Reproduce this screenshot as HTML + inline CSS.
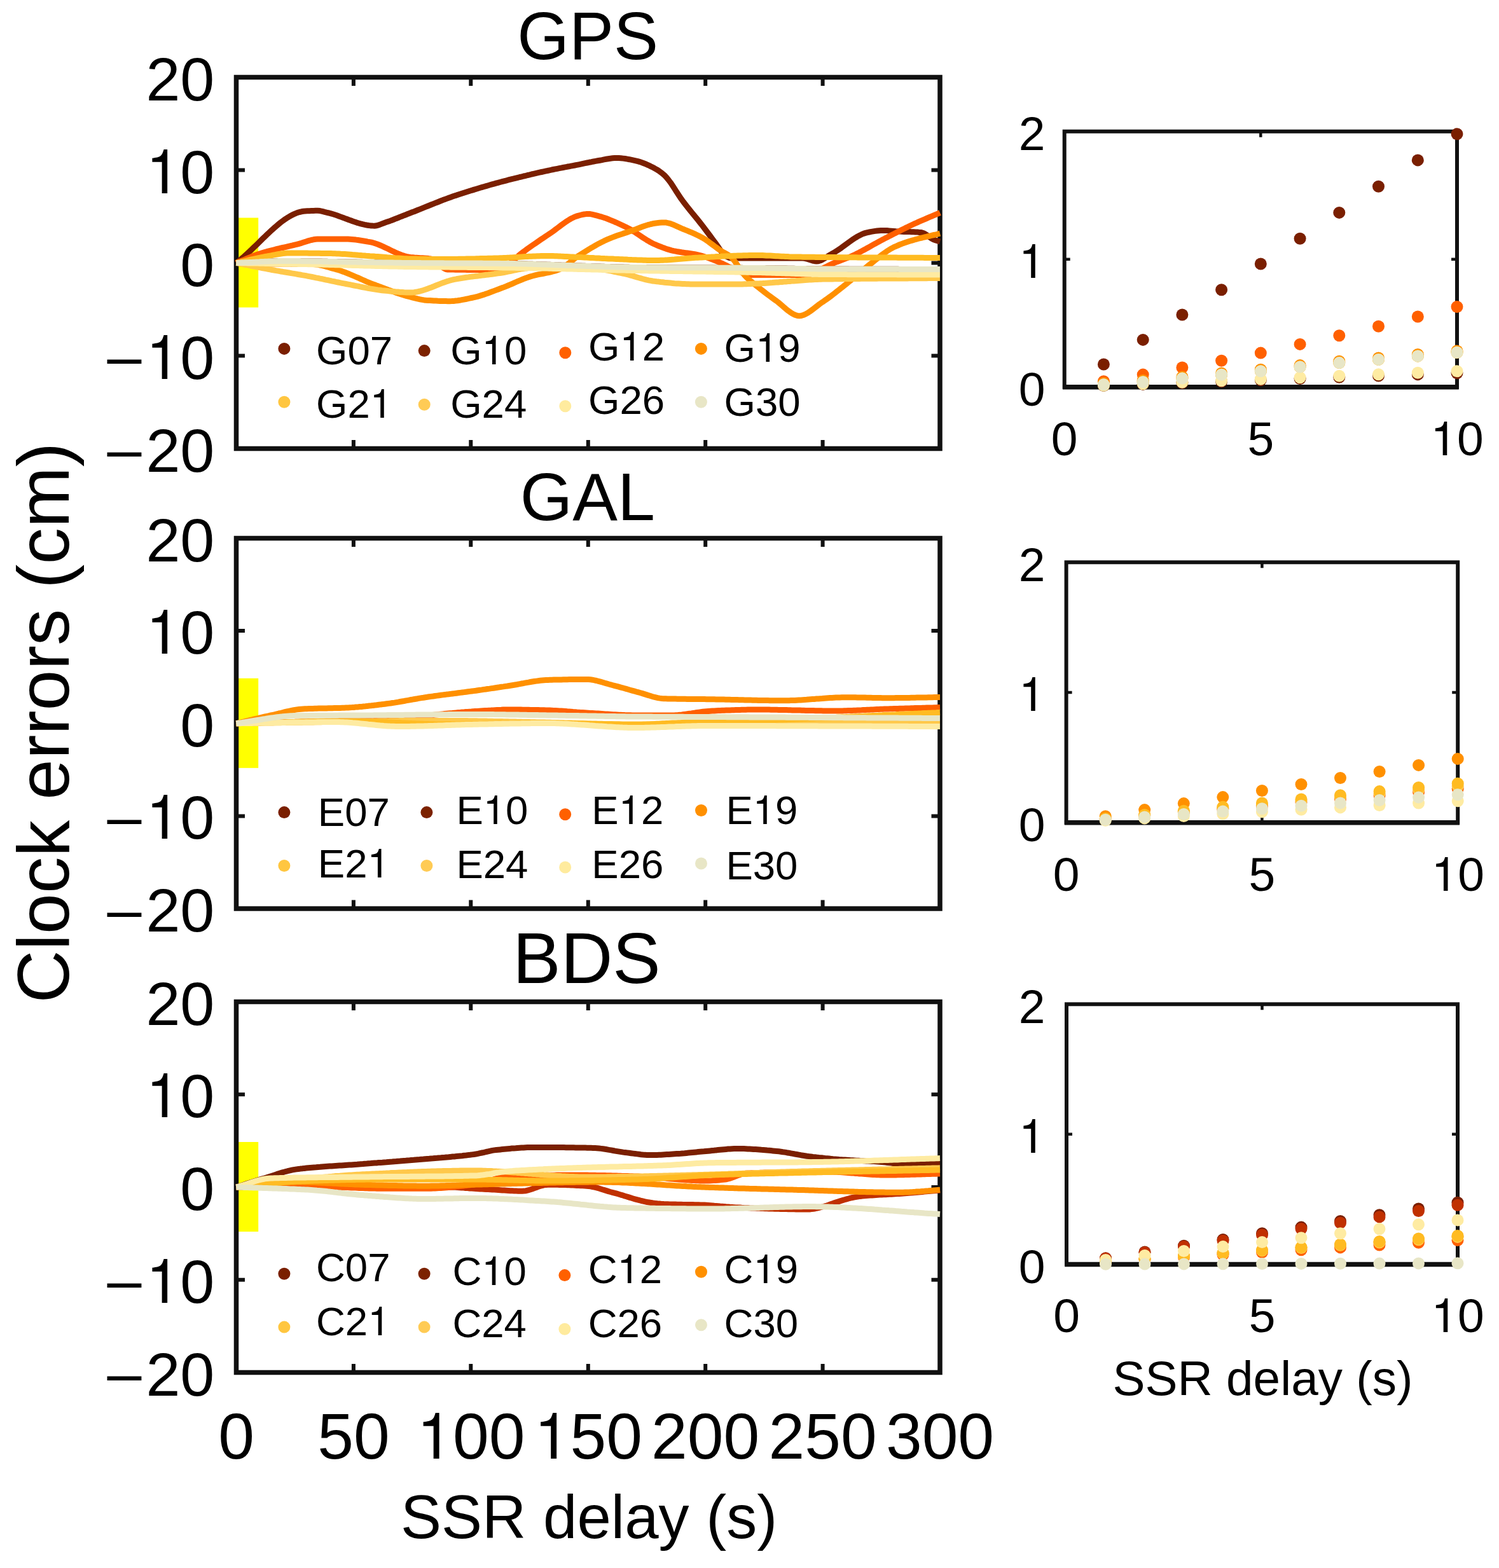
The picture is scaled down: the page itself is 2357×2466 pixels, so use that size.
<!DOCTYPE html>
<html><head><meta charset="utf-8"><title>Clock errors vs SSR delay</title>
<style>
html,body{margin:0;padding:0;background:#fff;}
svg{display:block;}
text{font-family:"Liberation Sans", Arial, Helvetica, sans-serif;fill:#000;}
.o{font-family:"TeX Gyre Heros","Liberation Sans", Arial, Helvetica, sans-serif;}
</style></head>
<body>
<svg xmlns="http://www.w3.org/2000/svg" width="2357" height="2466" viewBox="0 0 2357 2466">
<rect width="2357" height="2466" fill="#fff"/>
<rect x="372" y="342.5" width="34.2" height="141" fill="#ffff00"/>
<rect x="372" y="1066.8" width="34.2" height="141" fill="#ffff00"/>
<rect x="372" y="1796.0" width="34.2" height="141" fill="#ffff00"/>
<rect x="371.5" y="121.5" width="1106.5" height="584.0" fill="none" stroke="#111" stroke-width="7.5"/>
<path d="M371.5,267.5 h13.5 M1478.0,267.5 h-13.5" stroke="#111" stroke-width="6"/>
<path d="M371.5,413.5 h13.5 M1478.0,413.5 h-13.5" stroke="#111" stroke-width="6"/>
<path d="M371.5,559.5 h13.5 M1478.0,559.5 h-13.5" stroke="#111" stroke-width="6"/>
<path d="M555.9,121.5 v13.5 M555.9,705.5 v-13.5" stroke="#111" stroke-width="6"/>
<path d="M740.3,121.5 v13.5 M740.3,705.5 v-13.5" stroke="#111" stroke-width="6"/>
<path d="M924.8,121.5 v13.5 M924.8,705.5 v-13.5" stroke="#111" stroke-width="6"/>
<path d="M1109.2,121.5 v13.5 M1109.2,705.5 v-13.5" stroke="#111" stroke-width="6"/>
<path d="M1293.6,121.5 v13.5 M1293.6,705.5 v-13.5" stroke="#111" stroke-width="6"/>
<rect x="371.5" y="846.5" width="1106.5" height="582.5" fill="none" stroke="#111" stroke-width="7.5"/>
<path d="M371.5,992.1 h13.5 M1478.0,992.1 h-13.5" stroke="#111" stroke-width="6"/>
<path d="M371.5,1137.8 h13.5 M1478.0,1137.8 h-13.5" stroke="#111" stroke-width="6"/>
<path d="M371.5,1283.4 h13.5 M1478.0,1283.4 h-13.5" stroke="#111" stroke-width="6"/>
<path d="M555.9,846.5 v13.5 M555.9,1429.0 v-13.5" stroke="#111" stroke-width="6"/>
<path d="M740.3,846.5 v13.5 M740.3,1429.0 v-13.5" stroke="#111" stroke-width="6"/>
<path d="M924.8,846.5 v13.5 M924.8,1429.0 v-13.5" stroke="#111" stroke-width="6"/>
<path d="M1109.2,846.5 v13.5 M1109.2,1429.0 v-13.5" stroke="#111" stroke-width="6"/>
<path d="M1293.6,846.5 v13.5 M1293.6,1429.0 v-13.5" stroke="#111" stroke-width="6"/>
<rect x="371.5" y="1575.5" width="1106.5" height="583.0" fill="none" stroke="#111" stroke-width="7.5"/>
<path d="M371.5,1721.2 h13.5 M1478.0,1721.2 h-13.5" stroke="#111" stroke-width="6"/>
<path d="M371.5,1867.0 h13.5 M1478.0,1867.0 h-13.5" stroke="#111" stroke-width="6"/>
<path d="M371.5,2012.8 h13.5 M1478.0,2012.8 h-13.5" stroke="#111" stroke-width="6"/>
<path d="M555.9,1575.5 v13.5 M555.9,2158.5 v-13.5" stroke="#111" stroke-width="6"/>
<path d="M740.3,1575.5 v13.5 M740.3,2158.5 v-13.5" stroke="#111" stroke-width="6"/>
<path d="M924.8,1575.5 v13.5 M924.8,2158.5 v-13.5" stroke="#111" stroke-width="6"/>
<path d="M1109.2,1575.5 v13.5 M1109.2,2158.5 v-13.5" stroke="#111" stroke-width="6"/>
<path d="M1293.6,1575.5 v13.5 M1293.6,2158.5 v-13.5" stroke="#111" stroke-width="6"/>
<rect x="1673.7" y="206.7" width="617.3" height="402.1" fill="none" stroke="#111" stroke-width="6"/>
<path d="M1670.95,608.8 H2293.75" stroke="#111" stroke-width="7.5"/>
<path d="M1673.7,407.8 h9 M2291.0,407.8 h-9" stroke="#111" stroke-width="4.5"/>
<path d="M1982.3,206.7 v9 M1982.3,608.8 v-9" stroke="#111" stroke-width="4.5"/>
<rect x="1676.6" y="884.3" width="615.6" height="409.4" fill="none" stroke="#111" stroke-width="6"/>
<path d="M1673.85,1293.7 H2294.95" stroke="#111" stroke-width="7.5"/>
<path d="M1676.6,1089.0 h9 M2292.2,1089.0 h-9" stroke="#111" stroke-width="4.5"/>
<path d="M1984.4,884.3 v9 M1984.4,1293.7 v-9" stroke="#111" stroke-width="4.5"/>
<rect x="1677.0" y="1579.3" width="615.0" height="409.1" fill="none" stroke="#111" stroke-width="6"/>
<path d="M1674.25,1988.4 H2294.75" stroke="#111" stroke-width="7.5"/>
<path d="M1677.0,1783.8 h9 M2292.0,1783.8 h-9" stroke="#111" stroke-width="4.5"/>
<path d="M1984.5,1579.3 v9 M1984.5,1988.4 v-9" stroke="#111" stroke-width="4.5"/>
<path d="M371.5,413.5 L374.5,411.2 L377.5,408.8 L380.5,406.2 L383.6,403.6 L386.6,400.9 L389.6,398.2 L392.6,395.4 L395.6,392.5 L398.6,389.6 L401.6,386.7 L404.7,383.7 L407.7,380.8 L410.7,377.8 L413.7,374.8 L416.7,371.9 L419.7,369.0 L422.7,366.2 L425.8,363.3 L428.8,360.6 L431.8,357.9 L434.8,355.3 L437.8,352.8 L440.8,350.3 L443.8,348.0 L446.8,345.8 L449.9,343.7 L452.9,341.8 L455.9,340.0 L458.9,338.3 L461.9,336.9 L464.9,335.6 L467.9,334.4 L471.0,333.5 L474.0,332.8 L477.0,332.3 L480.0,332.0 L483.2,331.8 L486.4,331.7 L489.6,331.5 L492.9,331.4 L496.1,331.3 L499.3,331.3 L503.1,331.6 L506.8,332.4 L510.5,333.4 L514.3,334.3 L517.4,335.0 L520.5,335.9 L523.6,336.8 L526.7,337.8 L529.8,338.8 L532.9,339.9 L536.1,341.1 L539.2,342.2 L542.3,343.4 L545.4,344.5 L548.5,345.7 L551.6,346.8 L554.7,348.0 L557.8,349.0 L560.9,350.1 L564.0,351.0 L567.1,351.9 L570.2,352.7 L573.4,353.4 L576.5,354.0 L579.6,354.5 L582.7,354.9 L585.8,355.1 L588.9,355.2 L592.6,354.7 L596.3,353.6 L600.1,352.1 L603.8,350.7 L607.0,349.6 L610.1,348.5 L613.3,347.4 L616.5,346.2 L619.6,345.0 L622.8,343.7 L626.0,342.5 L629.2,341.2 L632.3,340.0 L635.5,338.7 L638.7,337.5 L641.8,336.2 L645.0,335.0 L648.0,333.8 L651.1,332.7 L654.1,331.5 L657.1,330.3 L660.1,329.1 L663.2,327.8 L666.2,326.6 L669.2,325.4 L672.2,324.2 L675.3,323.0 L678.3,321.8 L681.3,320.6 L684.3,319.4 L687.4,318.2 L690.4,317.0 L693.4,315.8 L696.4,314.6 L699.5,313.5 L702.5,312.4 L705.5,311.3 L708.5,310.2 L711.6,309.1 L714.6,308.1 L717.7,307.1 L720.8,306.0 L723.9,305.0 L727.0,304.0 L730.2,303.0 L733.3,302.0 L736.4,301.0 L739.5,300.0 L742.6,299.1 L745.7,298.1 L748.8,297.2 L752.0,296.2 L755.1,295.3 L758.2,294.4 L761.3,293.5 L764.4,292.6 L767.5,291.7 L770.6,290.8 L773.7,289.9 L776.8,289.1 L780.0,288.2 L783.1,287.4 L786.2,286.5 L789.3,285.7 L792.4,284.9 L795.5,284.1 L798.6,283.2 L801.7,282.4 L804.8,281.6 L807.9,280.9 L811.1,280.1 L814.2,279.3 L817.3,278.5 L820.4,277.8 L823.5,277.0 L826.6,276.3 L829.7,275.5 L832.8,274.8 L835.9,274.0 L839.0,273.3 L842.1,272.6 L845.2,271.9 L848.4,271.2 L851.5,270.5 L854.6,269.8 L857.7,269.1 L860.8,268.5 L863.9,267.8 L867.0,267.2 L870.0,266.5 L873.1,265.9 L876.2,265.3 L879.3,264.7 L882.3,264.1 L885.4,263.5 L888.5,262.9 L891.6,262.3 L894.6,261.8 L897.7,261.2 L900.8,260.6 L903.9,260.0 L906.9,259.4 L910.0,258.8 L913.3,258.1 L916.6,257.4 L920.0,256.7 L923.3,256.0 L926.6,255.3 L929.9,254.7 L933.3,254.0 L936.6,253.4 L939.9,252.8 L943.2,252.2 L946.5,251.6 L949.8,250.9 L953.1,250.3 L956.5,249.7 L959.8,249.2 L963.1,248.8 L966.4,248.5 L969.7,248.4 L973.0,248.5 L976.3,248.7 L979.7,249.1 L983.0,249.5 L986.3,250.1 L989.6,250.7 L993.0,251.4 L996.3,252.1 L999.6,252.8 L1002.9,253.6 L1006.2,254.6 L1009.5,255.7 L1012.8,257.0 L1016.2,258.3 L1019.5,259.8 L1022.8,261.4 L1026.1,263.1 L1029.4,264.8 L1033.1,266.9 L1036.8,269.3 L1040.6,272.1 L1044.3,275.2 L1047.6,278.6 L1050.9,282.6 L1054.3,287.1 L1057.6,292.0 L1060.9,297.1 L1064.2,302.3 L1067.6,307.4 L1070.9,312.4 L1074.2,317.0 L1077.5,321.3 L1080.8,325.5 L1084.1,329.6 L1087.4,333.7 L1090.8,337.8 L1094.1,341.8 L1097.4,345.9 L1100.7,350.1 L1104.0,354.3 L1107.2,358.5 L1110.4,362.7 L1113.6,367.0 L1116.8,371.3 L1120.0,375.6 L1123.2,379.9 L1126.4,384.2 L1129.8,389.1 L1133.2,394.3 L1136.6,398.9 L1140.0,402.0 L1143.3,403.9 L1146.7,405.4 L1150.0,406.0 L1153.1,406.0 L1156.2,406.0 L1159.4,406.0 L1162.5,406.0 L1165.6,406.0 L1168.8,406.0 L1171.9,406.0 L1175.0,406.0 L1178.1,406.0 L1181.2,406.0 L1184.4,406.0 L1187.5,406.0 L1190.6,406.0 L1193.8,406.0 L1196.9,406.0 L1200.0,406.0 L1203.1,406.0 L1206.2,406.0 L1209.3,406.0 L1212.4,406.0 L1215.5,406.0 L1218.6,406.0 L1221.7,406.0 L1224.8,406.0 L1227.9,406.0 L1231.0,406.0 L1234.1,406.0 L1237.2,406.0 L1240.3,406.0 L1243.4,406.0 L1246.5,406.0 L1249.6,406.0 L1252.7,406.0 L1255.8,406.0 L1258.9,406.0 L1262.0,406.0 L1265.1,406.3 L1268.3,407.0 L1271.4,408.0 L1274.6,409.0 L1277.7,410.0 L1280.9,410.7 L1284.0,411.0 L1287.0,410.7 L1290.0,409.8 L1293.0,408.4 L1296.0,406.7 L1299.0,404.8 L1302.0,402.8 L1305.0,400.9 L1308.0,399.2 L1311.1,397.5 L1314.2,395.5 L1317.3,393.5 L1320.4,391.4 L1323.6,389.2 L1326.7,386.9 L1329.8,384.6 L1332.9,382.3 L1336.0,380.1 L1339.1,377.9 L1342.2,375.8 L1345.3,373.8 L1348.4,371.9 L1351.6,370.2 L1354.7,368.7 L1357.8,367.4 L1360.9,366.4 L1364.0,365.6 L1367.0,365.0 L1370.0,364.4 L1373.0,363.9 L1376.0,363.4 L1379.0,363.0 L1382.0,362.7 L1385.0,362.5 L1388.0,362.4 L1391.4,362.5 L1394.8,362.6 L1398.2,362.9 L1401.7,363.2 L1405.1,363.5 L1408.5,363.8 L1411.9,364.0 L1415.0,364.1 L1418.0,364.3 L1421.1,364.4 L1424.2,364.5 L1427.2,364.5 L1430.3,364.6 L1433.4,364.7 L1436.4,364.8 L1439.5,365.0 L1442.6,365.1 L1445.6,365.4 L1448.7,365.6 L1451.9,366.5 L1455.1,368.2 L1458.3,370.5 L1461.5,372.9 L1464.7,375.1 L1467.9,376.8 L1471.3,378.0 L1474.6,379.0 L1478.0,380.0" fill="none" stroke="#7a1f00" stroke-width="9" stroke-linejoin="round" stroke-linecap="butt"/>
<path d="M371.5,413.5 L374.5,413.4 L377.5,413.3 L380.6,413.1 L383.6,413.0 L386.6,412.8 L389.6,412.7 L392.6,412.5 L395.7,412.4 L398.7,412.2 L401.7,412.1 L404.7,411.9 L407.7,411.8 L410.8,411.6 L413.8,411.5 L416.8,411.3 L419.8,411.2 L422.8,411.1 L425.8,411.0 L428.9,410.9 L431.9,410.8 L434.9,410.7 L437.9,410.6 L440.9,410.6 L444.0,410.5 L447.0,410.5 L450.0,410.5 L453.0,410.5 L456.1,410.5 L459.1,410.5 L462.1,410.5 L465.2,410.6 L468.2,410.6 L471.2,410.6 L474.2,410.7 L477.3,410.7 L480.3,410.7 L483.3,410.8 L486.4,410.8 L489.4,410.9 L492.4,410.9 L495.5,411.0 L498.5,411.0 L501.5,411.1 L504.5,411.1 L507.6,411.2 L510.6,411.3 L513.6,411.3 L516.7,411.4 L519.7,411.4 L522.7,411.5 L525.8,411.6 L528.8,411.6 L531.8,411.7 L534.8,411.7 L537.9,411.8 L540.9,411.8 L543.9,411.9 L547.0,412.0 L550.0,412.0 L553.1,412.0 L556.1,412.1 L559.2,412.1 L562.3,412.2 L565.3,412.3 L568.4,412.3 L571.5,412.4 L574.5,412.4 L577.6,412.5 L580.6,412.5 L583.7,412.6 L586.8,412.6 L589.8,412.7 L592.9,412.7 L596.0,412.8 L599.0,412.8 L602.1,412.9 L605.2,413.0 L608.2,413.0 L611.3,413.1 L614.4,413.1 L617.4,413.1 L620.5,413.2 L623.5,413.2 L626.6,413.3 L629.7,413.3 L632.7,413.4 L635.8,413.4 L638.9,413.4 L641.9,413.5 L645.0,413.5 L648.0,413.5 L651.1,413.6 L654.1,413.6 L657.2,413.6 L660.2,413.6 L663.2,413.7 L666.3,413.7 L669.3,413.7 L672.4,413.7 L675.4,413.7 L678.4,413.8 L681.5,413.8 L684.5,413.8 L687.5,413.8 L690.6,413.8 L693.6,413.8 L696.7,413.8 L699.7,413.9 L702.7,413.9 L705.8,413.9 L708.8,413.9 L711.9,413.9 L714.9,413.9 L717.9,413.9 L721.0,414.0 L724.0,414.0 L727.1,414.0 L730.1,414.0 L733.1,414.0 L736.2,414.0 L739.2,414.0 L742.3,414.1 L745.3,414.1 L748.3,414.1 L751.4,414.1 L754.4,414.1 L757.5,414.1 L760.5,414.2 L763.5,414.2 L766.6,414.2 L769.6,414.2 L772.6,414.2 L775.7,414.3 L778.7,414.3 L781.8,414.3 L784.8,414.3 L787.8,414.4 L790.9,414.4 L793.9,414.4 L797.0,414.5 L800.0,414.5 L803.1,414.5 L806.1,414.6 L809.2,414.6 L812.2,414.7 L815.3,414.8 L818.3,414.8 L821.4,414.9 L824.4,415.0 L827.5,415.1 L830.6,415.2 L833.6,415.3 L836.7,415.3 L839.7,415.4 L842.8,415.6 L845.8,415.7 L848.9,415.8 L851.9,415.9 L855.0,416.0 L858.1,416.1 L861.1,416.2 L864.2,416.3 L867.2,416.5 L870.3,416.6 L873.3,416.7 L876.4,416.8 L879.4,416.9 L882.5,417.1 L885.6,417.2 L888.6,417.3 L891.7,417.4 L894.7,417.5 L897.8,417.6 L900.8,417.7 L903.9,417.8 L906.9,417.9 L910.0,418.0 L913.0,418.1 L916.0,418.2 L919.0,418.3 L922.0,418.4 L925.0,418.5 L928.0,418.6 L931.0,418.7 L934.0,418.8 L937.0,418.9 L940.0,419.0 L943.0,419.1 L946.0,419.2 L949.0,419.3 L952.0,419.4 L955.0,419.5 L958.0,419.6 L961.0,419.7 L964.0,419.8 L967.0,419.8 L970.0,419.9 L973.0,420.0 L976.0,420.1 L979.0,420.1 L982.0,420.2 L985.0,420.3 L988.0,420.3 L991.0,420.4 L994.0,420.4 L997.0,420.5 L1000.0,420.5 L1003.0,420.5 L1006.0,420.6 L1009.0,420.6 L1012.1,420.6 L1015.1,420.6 L1018.1,420.7 L1021.1,420.7 L1024.1,420.7 L1027.1,420.7 L1030.2,420.7 L1033.2,420.8 L1036.2,420.8 L1039.2,420.8 L1042.2,420.8 L1045.2,420.8 L1048.3,420.8 L1051.3,420.9 L1054.3,420.9 L1057.3,420.9 L1060.3,420.9 L1063.3,420.9 L1066.3,420.9 L1069.4,420.9 L1072.4,421.0 L1075.4,421.0 L1078.4,421.0 L1081.4,421.0 L1084.4,421.0 L1087.5,421.0 L1090.5,421.0 L1093.5,421.0 L1096.5,421.0 L1099.5,421.1 L1102.5,421.1 L1105.6,421.1 L1108.6,421.1 L1111.6,421.1 L1114.6,421.1 L1117.6,421.1 L1120.6,421.1 L1123.7,421.1 L1126.7,421.2 L1129.7,421.2 L1132.7,421.2 L1135.7,421.2 L1138.7,421.2 L1141.7,421.2 L1144.8,421.2 L1147.8,421.2 L1150.8,421.3 L1153.8,421.3 L1156.8,421.3 L1159.8,421.3 L1162.9,421.3 L1165.9,421.3 L1168.9,421.4 L1171.9,421.4 L1174.9,421.4 L1177.9,421.4 L1181.0,421.4 L1184.0,421.5 L1187.0,421.5 L1190.0,421.5 L1193.1,421.5 L1196.1,421.6 L1199.2,421.6 L1202.2,421.6 L1205.3,421.7 L1208.3,421.7 L1211.4,421.7 L1214.4,421.8 L1217.5,421.8 L1220.6,421.9 L1223.6,421.9 L1226.7,422.0 L1229.7,422.0 L1232.8,422.1 L1235.8,422.1 L1238.9,422.2 L1241.9,422.2 L1245.0,422.3 L1248.1,422.3 L1251.1,422.4 L1254.2,422.4 L1257.2,422.5 L1260.3,422.5 L1263.3,422.6 L1266.4,422.6 L1269.4,422.7 L1272.5,422.7 L1275.6,422.8 L1278.6,422.8 L1281.7,422.8 L1284.7,422.9 L1287.8,422.9 L1290.8,422.9 L1293.9,423.0 L1296.9,423.0 L1300.0,423.0 L1303.0,423.0 L1306.0,423.0 L1309.1,423.0 L1312.1,423.1 L1315.1,423.1 L1318.1,423.1 L1321.1,423.1 L1324.1,423.1 L1327.2,423.1 L1330.2,423.1 L1333.2,423.1 L1336.2,423.2 L1339.2,423.2 L1342.2,423.2 L1345.3,423.2 L1348.3,423.2 L1351.3,423.2 L1354.3,423.2 L1357.3,423.2 L1360.3,423.2 L1363.4,423.2 L1366.4,423.2 L1369.4,423.2 L1372.4,423.3 L1375.4,423.3 L1378.4,423.3 L1381.5,423.3 L1384.5,423.3 L1387.5,423.3 L1390.5,423.3 L1393.5,423.3 L1396.5,423.3 L1399.6,423.3 L1402.6,423.3 L1405.6,423.3 L1408.6,423.3 L1411.6,423.3 L1414.6,423.4 L1417.7,423.4 L1420.7,423.4 L1423.7,423.4 L1426.7,423.4 L1429.7,423.4 L1432.7,423.4 L1435.8,423.4 L1438.8,423.4 L1441.8,423.4 L1444.8,423.4 L1447.8,423.4 L1450.8,423.4 L1453.9,423.4 L1456.9,423.4 L1459.9,423.5 L1462.9,423.5 L1465.9,423.5 L1468.9,423.5 L1472.0,423.5 L1475.0,423.5 L1478.0,423.5" fill="none" stroke="#7a2000" stroke-width="9" stroke-linejoin="round" stroke-linecap="butt"/>
<path d="M371.5,413.5 L374.7,412.2 L377.9,410.9 L381.1,409.6 L384.3,408.3 L387.5,406.9 L390.6,405.6 L393.8,404.3 L397.0,403.0 L400.2,401.8 L403.4,400.6 L406.6,399.5 L409.8,398.5 L412.9,397.5 L416.1,396.6 L419.2,395.7 L422.4,394.9 L425.5,394.1 L428.7,393.3 L431.8,392.5 L434.9,391.7 L438.1,391.0 L441.2,390.2 L444.4,389.5 L447.5,388.8 L450.6,388.1 L453.8,387.3 L456.9,386.6 L460.1,385.9 L463.2,385.1 L466.4,384.4 L469.5,383.6 L472.8,382.7 L476.1,381.6 L479.4,380.5 L482.7,379.4 L486.1,378.4 L489.4,377.5 L492.7,376.8 L496.0,376.3 L499.3,376.1 L502.5,376.1 L505.7,376.1 L508.9,376.1 L512.1,376.1 L515.3,376.1 L518.5,376.1 L521.7,376.1 L524.9,376.1 L528.1,376.1 L531.3,376.1 L534.5,376.1 L537.7,376.1 L540.9,376.1 L544.1,376.1 L547.2,376.1 L550.3,376.3 L553.4,376.5 L556.5,376.8 L559.6,377.1 L562.8,377.5 L565.9,378.0 L569.0,378.5 L572.1,379.0 L575.2,379.5 L578.3,380.1 L581.4,380.6 L584.4,381.2 L587.5,382.0 L590.5,383.0 L593.5,384.0 L596.5,385.2 L599.6,386.5 L602.6,387.9 L605.6,389.3 L608.7,390.8 L611.7,392.2 L614.7,393.7 L617.7,395.2 L620.8,396.6 L623.8,398.0 L626.8,399.3 L629.9,400.5 L632.9,401.6 L635.9,402.6 L638.9,403.4 L642.0,404.0 L645.0,404.5 L648.2,404.8 L651.5,405.1 L654.7,405.3 L657.9,405.5 L661.1,405.7 L664.4,405.8 L667.6,406.0 L670.8,406.3 L674.1,406.6 L677.3,407.0 L680.6,408.1 L684.0,410.2 L687.3,412.9 L690.6,415.9 L694.0,418.9 L697.3,421.5 L700.7,423.3 L704.0,424.0 L707.0,424.0 L710.1,424.1 L713.1,424.1 L716.2,424.2 L719.2,424.2 L722.3,424.2 L725.3,424.3 L728.3,424.3 L731.4,424.3 L734.4,424.4 L737.5,424.4 L740.5,424.4 L743.6,424.4 L746.6,424.4 L749.7,424.5 L752.7,424.5 L755.7,424.5 L758.8,424.5 L761.8,424.5 L764.9,424.5 L767.9,424.5 L771.0,424.5 L774.0,424.5 L777.2,424.3 L780.5,423.6 L783.8,422.7 L787.0,421.4 L790.2,420.0 L793.5,418.4 L796.8,416.7 L800.0,415.0 L803.2,413.0 L806.3,410.5 L809.5,407.6 L812.7,404.7 L815.8,401.7 L819.0,399.1 L822.2,396.7 L825.4,394.3 L828.6,391.9 L831.8,389.6 L835.0,387.3 L838.2,385.1 L841.5,382.9 L844.7,380.7 L847.9,378.5 L851.1,376.3 L854.3,374.2 L857.5,372.1 L860.7,369.9 L863.9,367.8 L867.1,365.6 L870.3,363.3 L873.5,360.9 L876.7,358.5 L879.9,356.1 L883.1,353.7 L886.3,351.4 L889.5,349.1 L892.7,347.0 L895.9,345.0 L899.1,343.2 L902.3,341.7 L905.5,340.4 L908.7,339.4 L911.9,338.5 L915.2,337.7 L918.4,337.0 L921.7,336.6 L924.9,336.4 L927.9,336.6 L930.9,337.1 L933.9,337.8 L936.9,338.6 L939.9,339.4 L943.1,340.3 L946.3,341.2 L949.5,342.2 L952.7,343.3 L955.9,344.5 L959.1,345.8 L962.2,347.1 L965.4,348.4 L968.6,349.8 L971.8,351.3 L975.0,352.8 L978.2,354.3 L981.4,355.8 L984.6,357.3 L987.8,358.9 L991.0,360.7 L994.2,362.6 L997.4,364.6 L1000.6,366.7 L1003.8,368.9 L1007.0,371.0 L1010.2,373.2 L1013.4,375.3 L1016.6,377.3 L1019.8,379.2 L1023.0,381.1 L1026.2,382.7 L1029.4,384.2 L1032.7,385.6 L1036.0,387.0 L1039.4,388.3 L1042.7,389.6 L1046.0,390.8 L1049.3,391.9 L1052.7,392.9 L1056.0,393.8 L1059.3,394.6 L1062.4,395.2 L1065.5,395.8 L1068.6,396.3 L1071.7,396.8 L1074.8,397.2 L1077.9,397.6 L1081.1,398.0 L1084.2,398.4 L1087.3,398.9 L1090.4,399.4 L1093.5,400.0 L1096.6,400.6 L1099.6,401.3 L1102.7,402.1 L1105.7,403.0 L1108.7,404.0 L1111.8,405.0 L1114.8,406.1 L1117.9,407.3 L1120.9,408.4 L1123.9,409.6 L1127.0,410.8 L1130.0,412.0 L1133.2,413.3 L1136.4,414.7 L1139.5,416.2 L1142.7,417.8 L1145.9,419.4 L1149.1,421.0 L1152.3,422.5 L1155.5,424.0 L1158.6,425.5 L1161.8,426.8 L1165.0,428.0 L1168.0,429.1 L1171.0,430.3 L1174.0,431.4 L1177.0,432.2 L1180.0,432.5 L1183.0,432.5 L1186.1,432.5 L1189.1,432.5 L1192.1,432.5 L1195.2,432.5 L1198.2,432.5 L1201.2,432.5 L1204.3,432.5 L1207.3,432.5 L1210.3,432.5 L1213.4,432.5 L1216.4,432.5 L1219.4,432.5 L1222.5,432.5 L1225.5,432.5 L1228.6,432.5 L1231.6,432.5 L1234.6,432.5 L1237.7,432.5 L1240.7,432.5 L1243.7,432.5 L1246.8,432.5 L1249.8,432.5 L1252.8,432.5 L1255.9,432.5 L1258.9,432.5 L1261.9,432.5 L1265.0,432.5 L1268.0,432.5 L1271.1,432.2 L1274.3,431.4 L1277.4,430.2 L1280.6,428.7 L1283.7,427.1 L1286.9,425.5 L1290.0,424.0 L1293.0,422.6 L1296.0,421.1 L1299.0,419.6 L1302.0,418.0 L1305.0,416.5 L1308.0,415.1 L1311.2,413.7 L1314.4,412.4 L1317.6,411.2 L1320.8,410.0 L1324.0,408.8 L1327.2,407.6 L1330.4,406.4 L1333.6,405.1 L1336.8,403.8 L1340.0,402.4 L1343.0,401.0 L1346.0,399.6 L1349.0,398.1 L1352.0,396.5 L1355.0,394.9 L1358.0,393.3 L1361.0,391.7 L1364.0,390.0 L1367.0,388.3 L1370.0,386.6 L1373.0,384.9 L1376.0,383.3 L1379.0,381.6 L1382.0,380.0 L1385.0,378.4 L1388.0,376.8 L1391.2,375.1 L1394.4,373.5 L1397.6,371.8 L1400.8,370.2 L1404.0,368.6 L1407.2,366.9 L1410.4,365.3 L1413.5,363.7 L1416.7,362.1 L1419.9,360.5 L1423.1,358.9 L1426.3,357.4 L1429.5,355.8 L1432.7,354.3 L1435.9,352.8 L1438.9,351.4 L1441.9,350.1 L1444.9,348.7 L1447.9,347.4 L1450.9,346.1 L1453.9,344.8 L1457.0,343.5 L1460.0,342.2 L1463.0,340.9 L1466.0,339.7 L1469.0,338.4 L1472.0,337.1 L1475.0,335.8 L1478.0,334.5" fill="none" stroke="#ff6000" stroke-width="9" stroke-linejoin="round" stroke-linecap="butt"/>
<path d="M371.5,413.5 L374.6,413.6 L377.8,413.7 L380.9,413.8 L384.0,413.9 L387.1,414.0 L390.3,414.0 L393.4,414.1 L396.5,414.2 L399.7,414.3 L402.8,414.4 L405.9,414.5 L409.1,414.6 L412.2,414.7 L415.3,414.7 L418.4,414.8 L421.6,414.9 L424.7,414.9 L427.8,414.9 L431.0,415.0 L434.1,415.0 L437.2,415.0 L440.3,415.1 L443.5,415.1 L446.6,415.1 L449.7,415.1 L452.9,415.1 L456.0,415.1 L459.1,415.2 L462.2,415.2 L465.4,415.2 L468.5,415.2 L471.6,415.3 L474.8,415.3 L477.9,415.3 L481.0,415.4 L484.1,415.4 L487.3,415.4 L490.4,415.5 L493.6,415.6 L496.9,416.0 L500.1,416.4 L503.3,417.0 L506.6,417.7 L509.8,418.5 L513.0,419.3 L516.3,420.2 L519.5,421.1 L522.7,422.1 L526.0,423.0 L529.2,423.9 L532.3,424.8 L535.5,425.8 L538.6,426.9 L541.8,428.0 L544.9,429.2 L548.1,430.5 L551.2,431.8 L554.3,433.1 L557.5,434.5 L560.6,435.8 L563.8,437.2 L566.9,438.6 L570.0,440.0 L573.2,441.4 L576.3,442.8 L579.5,444.1 L582.6,445.4 L585.8,446.6 L588.9,447.8 L592.0,449.0 L595.1,450.1 L598.2,451.3 L601.4,452.5 L604.5,453.6 L607.6,454.8 L610.7,456.0 L613.8,457.1 L617.0,458.2 L620.1,459.3 L623.2,460.4 L626.3,461.5 L629.4,462.5 L632.5,463.5 L635.6,464.4 L638.8,465.3 L641.9,466.2 L645.0,467.0 L648.1,467.8 L651.2,468.6 L654.3,469.4 L657.5,470.2 L660.6,470.8 L663.7,471.4 L666.8,471.9 L669.9,472.2 L673.0,472.4 L676.1,472.6 L679.2,472.8 L682.3,473.0 L685.4,473.1 L688.5,473.3 L691.7,473.4 L694.8,473.5 L697.9,473.6 L701.0,473.6 L704.1,473.7 L707.2,473.7 L710.3,473.6 L713.4,473.4 L716.5,473.1 L719.6,472.8 L722.7,472.3 L725.9,471.7 L729.0,471.1 L732.1,470.5 L735.2,469.8 L738.3,469.2 L741.4,468.5 L744.5,467.8 L747.7,467.1 L750.9,466.3 L754.1,465.4 L757.3,464.4 L760.5,463.4 L763.7,462.3 L766.9,461.2 L770.1,460.0 L773.3,458.8 L776.5,457.6 L779.7,456.4 L782.9,455.2 L786.1,454.0 L789.3,452.8 L792.5,451.6 L795.7,450.3 L798.9,449.0 L802.1,447.7 L805.3,446.3 L808.5,444.9 L811.6,443.5 L814.8,442.1 L818.0,440.8 L821.2,439.5 L824.4,438.2 L827.6,437.0 L830.8,435.9 L834.0,434.9 L837.2,434.0 L840.4,433.2 L843.6,432.4 L846.8,431.7 L850.0,431.1 L853.2,430.5 L856.4,429.8 L859.6,429.2 L862.8,428.5 L866.0,427.8 L869.2,427.0 L872.4,426.1 L875.6,425.1 L878.8,424.0 L881.9,422.6 L885.0,420.9 L888.2,418.8 L891.3,416.5 L894.4,414.1 L897.5,411.5 L900.6,409.0 L903.8,406.5 L906.9,404.2 L910.0,402.1 L913.2,400.1 L916.4,398.1 L919.6,396.1 L922.8,394.1 L926.0,392.1 L929.2,390.2 L932.4,388.3 L935.6,386.5 L938.8,384.7 L942.0,382.9 L945.2,381.3 L948.4,379.7 L951.6,378.1 L954.8,376.7 L957.9,375.4 L961.0,374.1 L964.1,372.9 L967.2,371.7 L970.3,370.6 L973.5,369.5 L976.6,368.5 L979.7,367.4 L982.8,366.4 L985.9,365.4 L989.0,364.3 L992.1,363.3 L995.2,362.2 L998.3,361.1 L1001.4,359.9 L1004.5,358.7 L1007.6,357.5 L1010.8,356.3 L1013.9,355.2 L1017.0,354.2 L1020.1,353.3 L1023.2,352.5 L1026.3,351.8 L1029.4,351.3 L1033.1,350.8 L1036.8,350.3 L1040.6,350.0 L1044.3,349.9 L1047.6,350.1 L1050.9,350.8 L1054.3,351.7 L1057.6,352.9 L1060.9,354.4 L1064.2,355.9 L1067.6,357.4 L1070.9,358.9 L1074.2,360.3 L1077.5,361.6 L1080.8,362.9 L1084.1,364.3 L1087.4,365.7 L1090.8,367.2 L1094.1,368.7 L1097.4,370.3 L1100.7,371.9 L1104.0,373.7 L1107.3,375.6 L1110.6,377.8 L1114.0,380.1 L1117.3,382.6 L1120.6,385.0 L1123.9,387.5 L1127.3,390.0 L1130.6,392.4 L1133.9,394.6 L1137.6,396.8 L1141.3,398.8 L1145.1,400.9 L1148.8,403.6 L1152.0,406.7 L1155.2,410.8 L1158.4,415.4 L1161.6,420.3 L1164.8,425.1 L1168.0,429.6 L1171.2,433.4 L1174.3,436.6 L1177.5,439.5 L1180.6,442.2 L1183.7,444.8 L1186.9,447.4 L1190.0,449.9 L1193.0,452.3 L1196.0,454.7 L1199.0,457.1 L1202.0,459.4 L1205.0,461.7 L1208.0,464.0 L1211.0,466.2 L1214.0,468.4 L1217.0,470.6 L1220.0,472.7 L1223.1,475.0 L1226.1,477.5 L1229.2,480.1 L1232.3,482.8 L1235.3,485.4 L1238.4,487.9 L1241.5,490.3 L1244.5,492.4 L1247.6,494.2 L1250.7,495.5 L1253.7,496.4 L1256.8,496.7 L1260.0,496.4 L1263.2,495.5 L1266.4,494.2 L1269.6,492.4 L1272.8,490.3 L1276.0,488.0 L1279.2,485.6 L1282.4,483.1 L1285.6,480.6 L1288.8,478.1 L1292.0,475.9 L1295.0,473.9 L1298.0,471.8 L1301.0,469.7 L1304.0,467.5 L1307.0,465.3 L1310.0,463.0 L1313.0,460.7 L1316.0,458.3 L1319.0,456.0 L1322.0,453.6 L1325.0,451.2 L1328.0,448.8 L1331.0,446.4 L1334.0,443.9 L1337.0,441.5 L1340.0,439.1 L1343.2,436.5 L1346.4,433.8 L1349.6,431.1 L1352.8,428.4 L1355.9,425.6 L1359.1,422.9 L1362.3,420.2 L1365.5,417.6 L1368.7,415.1 L1371.9,412.6 L1375.1,410.0 L1378.3,407.5 L1381.5,404.9 L1384.7,402.4 L1387.9,399.9 L1391.1,397.6 L1394.3,395.3 L1397.5,393.3 L1400.7,391.3 L1403.9,389.6 L1406.9,388.1 L1409.9,386.8 L1412.9,385.5 L1415.9,384.2 L1418.9,383.1 L1421.9,382.0 L1424.9,381.0 L1427.9,380.0 L1431.0,379.0 L1434.2,378.1 L1437.3,377.2 L1440.4,376.3 L1443.6,375.5 L1446.7,374.7 L1449.8,374.0 L1453.0,373.2 L1456.1,372.5 L1459.2,371.7 L1462.3,371.0 L1465.5,370.2 L1468.6,369.5 L1471.7,368.8 L1474.9,368.0 L1478.0,367.2" fill="none" stroke="#ff9000" stroke-width="9" stroke-linejoin="round" stroke-linecap="butt"/>
<path d="M371.5,413.5 L374.6,414.1 L377.8,414.7 L380.9,415.4 L384.0,416.0 L387.1,416.6 L390.3,417.2 L393.4,417.8 L396.5,418.5 L399.7,419.1 L402.8,419.7 L405.9,420.3 L409.1,420.9 L412.2,421.5 L415.3,422.1 L418.4,422.7 L421.6,423.3 L424.7,423.9 L427.8,424.5 L431.0,425.0 L434.1,425.6 L437.3,426.1 L440.4,426.7 L443.6,427.2 L446.7,427.8 L449.8,428.3 L453.0,428.8 L456.1,429.3 L459.3,429.9 L462.4,430.4 L465.5,430.9 L468.7,431.5 L471.8,432.0 L475.0,432.6 L478.1,433.1 L481.3,433.7 L484.4,434.3 L487.5,434.9 L490.7,435.5 L493.8,436.1 L497.0,436.8 L500.1,437.4 L503.3,438.1 L506.4,438.7 L509.5,439.4 L512.7,440.1 L515.8,440.7 L519.0,441.4 L522.1,442.1 L525.2,442.7 L528.4,443.4 L531.5,444.0 L534.7,444.7 L537.8,445.3 L541.0,445.9 L544.1,446.5 L547.2,447.1 L550.4,447.7 L553.5,448.3 L556.7,449.0 L559.8,449.6 L563.0,450.2 L566.1,450.9 L569.2,451.5 L572.4,452.1 L575.5,452.7 L578.7,453.3 L581.8,453.9 L584.9,454.4 L588.1,454.9 L591.2,455.4 L594.4,455.9 L597.5,456.3 L600.7,456.7 L603.8,457.0 L607.0,457.3 L610.1,457.6 L613.3,458.0 L616.5,458.3 L619.6,458.6 L622.8,458.9 L626.0,459.1 L629.2,459.4 L632.3,459.6 L635.5,459.8 L638.7,459.9 L641.8,460.0 L645.0,460.0 L648.0,459.9 L651.1,459.7 L654.1,459.2 L657.1,458.7 L660.1,458.0 L663.2,457.2 L666.2,456.3 L669.2,455.3 L672.2,454.2 L675.3,453.1 L678.3,452.0 L681.3,450.8 L684.3,449.5 L687.4,448.3 L690.4,447.1 L693.4,445.9 L696.4,444.8 L699.5,443.7 L702.5,442.6 L705.5,441.7 L708.5,440.8 L711.6,440.0 L714.6,439.4 L717.7,438.8 L720.8,438.3 L723.9,437.8 L727.0,437.3 L730.2,436.8 L733.3,436.3 L736.4,435.9 L739.5,435.4 L742.6,435.0 L745.7,434.6 L748.8,434.2 L752.0,433.9 L755.1,433.5 L758.2,433.1 L761.3,432.7 L764.4,432.3 L767.5,432.0 L770.6,431.6 L773.7,431.2 L776.8,430.8 L780.0,430.3 L783.1,429.9 L786.2,429.5 L789.3,429.0 L792.5,428.5 L795.7,427.9 L798.9,427.2 L802.1,426.6 L805.3,425.9 L808.5,425.2 L811.6,424.5 L814.8,423.9 L818.0,423.3 L821.2,422.7 L824.4,422.3 L827.6,421.9 L830.8,421.6 L834.0,421.5 L837.0,421.4 L840.0,421.4 L843.0,421.3 L846.0,421.3 L849.0,421.2 L852.0,421.2 L855.0,421.2 L858.0,421.1 L861.0,421.1 L864.0,421.1 L867.0,421.1 L870.0,421.0 L873.0,421.0 L876.0,421.0 L879.0,421.0 L882.0,421.0 L885.0,421.0 L888.0,421.0 L891.0,421.0 L894.0,421.1 L897.0,421.1 L900.0,421.2 L903.0,421.2 L906.0,421.3 L909.0,421.3 L912.0,421.4 L915.0,421.5 L918.0,421.6 L921.0,421.7 L924.0,421.8 L927.0,421.9 L930.0,422.0 L933.1,422.2 L936.1,422.4 L939.2,422.7 L942.2,423.1 L945.3,423.5 L948.4,424.0 L951.4,424.5 L954.5,425.0 L957.6,425.6 L960.6,426.2 L963.7,426.8 L966.8,427.5 L969.8,428.1 L972.9,428.8 L975.9,429.4 L979.0,430.0 L982.1,430.7 L985.3,431.4 L988.5,432.2 L991.6,433.1 L994.8,433.9 L997.9,434.9 L1001.1,435.8 L1004.2,436.7 L1007.4,437.6 L1010.5,438.5 L1013.7,439.3 L1016.8,440.1 L1020.0,440.8 L1023.1,441.4 L1026.2,442.0 L1029.4,442.4 L1032.5,442.8 L1035.7,443.1 L1038.8,443.5 L1041.9,443.8 L1045.1,444.2 L1048.2,444.5 L1051.4,444.8 L1054.5,445.1 L1057.6,445.4 L1060.8,445.7 L1063.9,445.9 L1067.0,446.1 L1070.2,446.3 L1073.3,446.5 L1076.5,446.6 L1079.6,446.7 L1082.7,446.8 L1085.9,446.9 L1089.0,446.9 L1092.1,446.9 L1095.2,446.9 L1098.3,446.9 L1101.5,446.9 L1104.6,446.9 L1107.7,446.9 L1110.8,446.9 L1113.9,446.9 L1117.0,446.9 L1120.1,446.9 L1123.2,446.9 L1126.3,446.9 L1129.5,446.9 L1132.6,446.9 L1135.7,446.9 L1138.8,446.9 L1141.9,446.9 L1145.0,446.9 L1148.1,446.9 L1151.2,446.9 L1154.4,446.9 L1157.5,446.9 L1160.6,446.9 L1163.7,446.9 L1167.0,446.9 L1170.3,446.8 L1173.6,446.7 L1176.8,446.6 L1180.1,446.4 L1183.4,446.3 L1186.7,446.1 L1190.0,446.0 L1193.1,445.9 L1196.1,445.7 L1199.2,445.6 L1202.2,445.4 L1205.3,445.2 L1208.3,445.0 L1211.4,444.8 L1214.4,444.6 L1217.5,444.3 L1220.6,444.1 L1223.6,443.9 L1226.7,443.6 L1229.7,443.4 L1232.8,443.1 L1235.8,442.9 L1238.9,442.6 L1241.9,442.4 L1245.0,442.1 L1248.1,441.9 L1251.1,441.7 L1254.2,441.4 L1257.2,441.2 L1260.3,441.0 L1263.3,440.7 L1266.4,440.5 L1269.4,440.3 L1272.5,440.1 L1275.6,439.9 L1278.6,439.8 L1281.7,439.6 L1284.7,439.5 L1287.8,439.3 L1290.8,439.2 L1293.9,439.1 L1296.9,439.1 L1300.0,439.0 L1303.0,439.0 L1306.0,438.9 L1309.1,438.9 L1312.1,438.8 L1315.1,438.8 L1318.1,438.7 L1321.1,438.7 L1324.1,438.7 L1327.2,438.6 L1330.2,438.6 L1333.2,438.6 L1336.2,438.5 L1339.2,438.5 L1342.2,438.5 L1345.3,438.4 L1348.3,438.4 L1351.3,438.4 L1354.3,438.3 L1357.3,438.3 L1360.3,438.3 L1363.4,438.3 L1366.4,438.2 L1369.4,438.2 L1372.4,438.2 L1375.4,438.2 L1378.4,438.2 L1381.5,438.1 L1384.5,438.1 L1387.5,438.1 L1390.5,438.1 L1393.5,438.1 L1396.5,438.0 L1399.6,438.0 L1402.6,438.0 L1405.6,438.0 L1408.6,438.0 L1411.6,437.9 L1414.6,437.9 L1417.7,437.9 L1420.7,437.9 L1423.7,437.9 L1426.7,437.9 L1429.7,437.8 L1432.7,437.8 L1435.8,437.8 L1438.8,437.8 L1441.8,437.8 L1444.8,437.7 L1447.8,437.7 L1450.8,437.7 L1453.9,437.7 L1456.9,437.7 L1459.9,437.6 L1462.9,437.6 L1465.9,437.6 L1468.9,437.6 L1472.0,437.5 L1475.0,437.5 L1478.0,437.5" fill="none" stroke="#ffc84a" stroke-width="9" stroke-linejoin="round" stroke-linecap="butt"/>
<path d="M371.5,413.5 L374.5,412.8 L377.6,412.2 L380.6,411.5 L383.6,410.8 L386.7,410.1 L389.7,409.4 L392.7,408.7 L395.8,408.0 L398.8,407.3 L401.8,406.6 L404.8,406.0 L407.9,405.3 L410.9,404.7 L413.9,404.1 L417.0,403.5 L420.0,403.0 L423.1,402.4 L426.3,401.8 L429.4,401.2 L432.6,400.6 L435.7,400.0 L438.9,399.5 L442.0,399.0 L445.2,398.6 L448.3,398.3 L451.5,398.1 L454.6,398.0 L457.7,398.0 L460.9,398.0 L464.0,398.0 L467.2,398.0 L470.3,398.0 L473.5,398.1 L476.6,398.1 L479.7,398.1 L482.9,398.1 L486.0,398.2 L489.2,398.2 L492.3,398.2 L495.4,398.3 L498.6,398.3 L501.7,398.3 L504.9,398.4 L508.0,398.4 L511.2,398.5 L514.3,398.5 L517.4,398.6 L520.4,398.6 L523.5,398.7 L526.5,398.8 L529.6,399.0 L532.7,399.1 L535.7,399.3 L538.8,399.4 L541.8,399.6 L544.9,399.8 L548.0,400.0 L551.0,400.2 L554.1,400.5 L557.1,400.7 L560.2,400.9 L563.3,401.2 L566.3,401.4 L569.4,401.7 L572.5,401.9 L575.5,402.2 L578.6,402.4 L581.6,402.7 L584.7,402.9 L587.8,403.1 L590.8,403.4 L593.9,403.6 L596.9,403.8 L600.0,404.0 L603.0,404.2 L606.0,404.4 L609.0,404.7 L612.0,404.9 L615.0,405.2 L618.0,405.4 L621.0,405.7 L624.0,405.9 L627.0,406.1 L630.0,406.3 L633.0,406.5 L636.0,406.7 L639.0,406.8 L642.0,406.9 L645.0,407.0 L648.1,407.0 L651.1,407.1 L654.2,407.1 L657.2,407.2 L660.3,407.2 L663.3,407.3 L666.4,407.3 L669.4,407.3 L672.5,407.4 L675.6,407.4 L678.6,407.4 L681.7,407.4 L684.7,407.5 L687.8,407.5 L690.8,407.5 L693.9,407.5 L696.9,407.5 L700.0,407.5 L703.1,407.5 L706.2,407.5 L709.2,407.5 L712.3,407.4 L715.4,407.4 L718.5,407.4 L721.5,407.3 L724.6,407.3 L727.7,407.2 L730.8,407.2 L733.8,407.1 L736.9,407.1 L740.0,407.0 L743.1,406.9 L746.2,406.9 L749.2,406.8 L752.3,406.7 L755.4,406.6 L758.5,406.6 L761.5,406.5 L764.6,406.4 L767.7,406.3 L770.8,406.2 L773.8,406.2 L776.9,406.1 L780.0,406.0 L783.1,405.9 L786.2,405.8 L789.2,405.7 L792.3,405.5 L795.4,405.4 L798.5,405.2 L801.5,405.1 L804.6,404.9 L807.7,404.7 L810.8,404.5 L813.8,404.4 L816.9,404.2 L820.0,404.0 L823.1,403.8 L826.2,403.6 L829.2,403.5 L832.3,403.3 L835.4,403.2 L838.5,403.0 L841.5,402.9 L844.6,402.8 L847.7,402.7 L850.8,402.6 L853.8,402.5 L856.9,402.5 L860.0,402.5 L863.1,402.5 L866.2,402.6 L869.4,402.6 L872.5,402.7 L875.6,402.8 L878.8,402.9 L881.9,403.1 L885.0,403.2 L888.1,403.4 L891.2,403.5 L894.4,403.7 L897.5,403.9 L900.6,404.0 L903.8,404.2 L906.9,404.4 L910.0,404.5 L913.1,404.6 L916.2,404.8 L919.4,404.9 L922.5,405.1 L925.6,405.3 L928.8,405.4 L931.9,405.6 L935.0,405.8 L938.1,405.9 L941.2,406.1 L944.4,406.3 L947.5,406.4 L950.6,406.6 L953.8,406.7 L956.9,406.9 L960.0,407.0 L963.0,407.1 L966.1,407.3 L969.1,407.4 L972.2,407.5 L975.2,407.7 L978.3,407.8 L981.3,408.0 L984.3,408.1 L987.4,408.3 L990.4,408.4 L993.5,408.6 L996.5,408.7 L999.6,408.8 L1002.6,408.9 L1005.7,409.0 L1008.7,409.1 L1011.7,409.2 L1014.8,409.3 L1017.8,409.4 L1020.9,409.4 L1023.9,409.5 L1027.0,409.5 L1030.0,409.5 L1033.0,409.5 L1036.1,409.4 L1039.1,409.3 L1042.2,409.2 L1045.2,409.1 L1048.3,408.9 L1051.3,408.7 L1054.3,408.5 L1057.4,408.3 L1060.4,408.1 L1063.5,407.8 L1066.5,407.5 L1069.6,407.3 L1072.6,407.0 L1075.7,406.8 L1078.7,406.5 L1081.7,406.2 L1084.8,406.0 L1087.8,405.8 L1090.9,405.5 L1093.9,405.3 L1097.0,405.2 L1100.0,405.0 L1103.0,404.9 L1106.0,404.7 L1109.0,404.5 L1112.0,404.4 L1115.0,404.2 L1118.0,404.1 L1121.0,403.9 L1124.0,403.8 L1127.0,403.6 L1130.0,403.4 L1133.0,403.3 L1136.0,403.1 L1139.0,403.0 L1142.0,402.8 L1145.0,402.7 L1148.0,402.6 L1151.0,402.4 L1154.0,402.3 L1157.0,402.2 L1160.0,402.1 L1163.0,402.0 L1166.0,401.9 L1169.0,401.8 L1172.0,401.7 L1175.0,401.7 L1178.0,401.6 L1181.0,401.6 L1184.0,401.5 L1187.0,401.5 L1190.0,401.5 L1193.0,401.5 L1196.0,401.6 L1199.0,401.6 L1202.0,401.7 L1205.0,401.9 L1208.0,402.0 L1211.0,402.1 L1214.0,402.3 L1217.0,402.5 L1220.0,402.7 L1223.0,402.8 L1226.0,403.0 L1229.0,403.2 L1232.0,403.3 L1235.0,403.5 L1238.0,403.6 L1241.0,403.8 L1244.0,403.9 L1247.0,403.9 L1250.0,404.0 L1253.0,404.0 L1256.0,404.1 L1259.0,404.1 L1262.0,404.2 L1265.0,404.2 L1268.0,404.2 L1271.0,404.3 L1274.0,404.3 L1277.0,404.3 L1280.0,404.3 L1283.0,404.4 L1286.0,404.4 L1289.0,404.4 L1292.0,404.5 L1295.0,404.5 L1298.0,404.5 L1301.0,404.5 L1304.0,404.6 L1307.0,404.6 L1310.0,404.6 L1313.0,404.6 L1316.0,404.7 L1319.0,404.7 L1322.0,404.7 L1325.0,404.7 L1328.0,404.7 L1331.0,404.8 L1334.0,404.8 L1337.0,404.8 L1340.0,404.8 L1343.0,404.8 L1346.0,404.8 L1349.0,404.9 L1352.0,404.9 L1355.0,404.9 L1358.0,404.9 L1361.0,404.9 L1364.0,404.9 L1367.0,405.0 L1370.0,405.0 L1373.0,405.0 L1376.0,405.0 L1379.0,405.0 L1382.0,405.0 L1385.0,405.0 L1388.0,405.1 L1391.0,405.1 L1394.0,405.1 L1397.0,405.1 L1400.0,405.1 L1403.0,405.1 L1406.0,405.1 L1409.0,405.1 L1412.0,405.2 L1415.0,405.2 L1418.0,405.2 L1421.0,405.2 L1424.0,405.2 L1427.0,405.2 L1430.0,405.2 L1433.0,405.3 L1436.0,405.3 L1439.0,405.3 L1442.0,405.3 L1445.0,405.3 L1448.0,405.3 L1451.0,405.3 L1454.0,405.4 L1457.0,405.4 L1460.0,405.4 L1463.0,405.4 L1466.0,405.4 L1469.0,405.4 L1472.0,405.5 L1475.0,405.5 L1478.0,405.5" fill="none" stroke="#ffbb22" stroke-width="9" stroke-linejoin="round" stroke-linecap="butt"/>
<path d="M371.5,413.5 L374.6,413.6 L377.6,413.6 L380.7,413.7 L383.7,413.7 L386.8,413.8 L389.9,413.9 L392.9,413.9 L396.0,414.0 L399.0,414.0 L402.1,414.1 L405.2,414.1 L408.2,414.2 L411.3,414.3 L414.3,414.3 L417.4,414.4 L420.5,414.4 L423.5,414.5 L426.6,414.5 L429.6,414.6 L432.7,414.7 L435.8,414.7 L438.8,414.8 L441.9,414.8 L444.9,414.9 L448.0,415.0 L451.0,415.0 L454.1,415.1 L457.2,415.1 L460.2,415.2 L463.3,415.2 L466.3,415.3 L469.4,415.4 L472.5,415.4 L475.5,415.5 L478.6,415.6 L481.6,415.6 L484.7,415.7 L487.8,415.7 L490.8,415.8 L493.9,415.9 L496.9,415.9 L500.0,416.0 L503.0,416.1 L506.0,416.1 L509.1,416.2 L512.1,416.3 L515.1,416.3 L518.1,416.4 L521.1,416.5 L524.2,416.6 L527.2,416.7 L530.2,416.7 L533.2,416.8 L536.2,416.9 L539.3,417.0 L542.3,417.1 L545.3,417.1 L548.3,417.2 L551.4,417.3 L554.4,417.4 L557.4,417.5 L560.4,417.6 L563.4,417.6 L566.5,417.7 L569.5,417.8 L572.5,417.9 L575.5,418.0 L578.5,418.1 L581.6,418.1 L584.6,418.2 L587.6,418.3 L590.6,418.4 L593.6,418.4 L596.7,418.5 L599.7,418.6 L602.7,418.7 L605.7,418.7 L608.8,418.8 L611.8,418.9 L614.8,419.0 L617.8,419.0 L620.8,419.1 L623.9,419.1 L626.9,419.2 L629.9,419.3 L632.9,419.3 L635.9,419.4 L639.0,419.4 L642.0,419.5 L645.0,419.5 L648.0,419.5 L651.1,419.6 L654.1,419.6 L657.2,419.7 L660.2,419.7 L663.2,419.7 L666.3,419.8 L669.3,419.8 L672.4,419.8 L675.4,419.9 L678.4,419.9 L681.5,419.9 L684.5,419.9 L687.5,420.0 L690.6,420.0 L693.6,420.0 L696.7,420.1 L699.7,420.1 L702.7,420.1 L705.8,420.1 L708.8,420.2 L711.9,420.2 L714.9,420.2 L717.9,420.2 L721.0,420.2 L724.0,420.3 L727.1,420.3 L730.1,420.3 L733.1,420.3 L736.2,420.4 L739.2,420.4 L742.3,420.4 L745.3,420.4 L748.3,420.5 L751.4,420.5 L754.4,420.5 L757.5,420.5 L760.5,420.6 L763.5,420.6 L766.6,420.6 L769.6,420.7 L772.6,420.7 L775.7,420.7 L778.7,420.7 L781.8,420.8 L784.8,420.8 L787.8,420.8 L790.9,420.9 L793.9,420.9 L797.0,421.0 L800.0,421.0 L803.0,421.0 L806.1,421.1 L809.1,421.1 L812.1,421.2 L815.2,421.2 L818.2,421.3 L821.2,421.3 L824.2,421.4 L827.3,421.4 L830.3,421.5 L833.3,421.6 L836.4,421.6 L839.4,421.7 L842.4,421.7 L845.5,421.8 L848.5,421.9 L851.5,421.9 L854.5,422.0 L857.6,422.1 L860.6,422.1 L863.6,422.2 L866.7,422.3 L869.7,422.4 L872.7,422.4 L875.8,422.5 L878.8,422.6 L881.8,422.7 L884.8,422.7 L887.9,422.8 L890.9,422.9 L893.9,423.0 L897.0,423.0 L900.0,423.1 L903.0,423.2 L906.1,423.3 L909.1,423.4 L912.1,423.4 L915.2,423.5 L918.2,423.6 L921.2,423.7 L924.2,423.7 L927.3,423.8 L930.3,423.9 L933.3,424.0 L936.4,424.1 L939.4,424.1 L942.4,424.2 L945.5,424.3 L948.5,424.4 L951.5,424.4 L954.5,424.5 L957.6,424.6 L960.6,424.7 L963.6,424.7 L966.7,424.8 L969.7,424.9 L972.7,424.9 L975.8,425.0 L978.8,425.1 L981.8,425.1 L984.8,425.2 L987.9,425.3 L990.9,425.3 L993.9,425.4 L997.0,425.4 L1000.0,425.5 L1003.0,425.6 L1006.0,425.6 L1009.0,425.7 L1012.1,425.7 L1015.1,425.8 L1018.1,425.8 L1021.1,425.9 L1024.1,425.9 L1027.1,426.0 L1030.2,426.0 L1033.2,426.1 L1036.2,426.1 L1039.2,426.2 L1042.2,426.2 L1045.2,426.2 L1048.3,426.3 L1051.3,426.3 L1054.3,426.4 L1057.3,426.4 L1060.3,426.5 L1063.3,426.5 L1066.3,426.6 L1069.4,426.6 L1072.4,426.6 L1075.4,426.7 L1078.4,426.7 L1081.4,426.8 L1084.4,426.8 L1087.5,426.8 L1090.5,426.9 L1093.5,426.9 L1096.5,427.0 L1099.5,427.0 L1102.5,427.1 L1105.6,427.1 L1108.6,427.1 L1111.6,427.2 L1114.6,427.2 L1117.6,427.3 L1120.6,427.3 L1123.7,427.4 L1126.7,427.4 L1129.7,427.5 L1132.7,427.5 L1135.7,427.5 L1138.7,427.6 L1141.7,427.6 L1144.8,427.7 L1147.8,427.7 L1150.8,427.8 L1153.8,427.8 L1156.8,427.9 L1159.8,427.9 L1162.9,428.0 L1165.9,428.0 L1168.9,428.1 L1171.9,428.1 L1174.9,428.2 L1177.9,428.3 L1181.0,428.3 L1184.0,428.4 L1187.0,428.4 L1190.0,428.5 L1193.1,428.6 L1196.1,428.6 L1199.2,428.7 L1202.2,428.8 L1205.3,428.9 L1208.3,429.0 L1211.4,429.1 L1214.4,429.2 L1217.5,429.3 L1220.6,429.4 L1223.6,429.5 L1226.7,429.6 L1229.7,429.7 L1232.8,429.8 L1235.8,429.9 L1238.9,430.0 L1241.9,430.1 L1245.0,430.2 L1248.1,430.3 L1251.1,430.4 L1254.2,430.5 L1257.2,430.6 L1260.3,430.7 L1263.3,430.8 L1266.4,430.9 L1269.4,431.0 L1272.5,431.1 L1275.6,431.1 L1278.6,431.2 L1281.7,431.3 L1284.7,431.3 L1287.8,431.4 L1290.8,431.4 L1293.9,431.5 L1296.9,431.5 L1300.0,431.5 L1303.0,431.5 L1306.0,431.5 L1309.1,431.5 L1312.1,431.6 L1315.1,431.6 L1318.1,431.6 L1321.1,431.6 L1324.1,431.6 L1327.2,431.6 L1330.2,431.6 L1333.2,431.7 L1336.2,431.7 L1339.2,431.7 L1342.2,431.7 L1345.3,431.7 L1348.3,431.7 L1351.3,431.7 L1354.3,431.7 L1357.3,431.7 L1360.3,431.7 L1363.4,431.7 L1366.4,431.8 L1369.4,431.8 L1372.4,431.8 L1375.4,431.8 L1378.4,431.8 L1381.5,431.8 L1384.5,431.8 L1387.5,431.8 L1390.5,431.8 L1393.5,431.8 L1396.5,431.8 L1399.6,431.8 L1402.6,431.8 L1405.6,431.8 L1408.6,431.8 L1411.6,431.9 L1414.6,431.9 L1417.7,431.9 L1420.7,431.9 L1423.7,431.9 L1426.7,431.9 L1429.7,431.9 L1432.7,431.9 L1435.8,431.9 L1438.8,431.9 L1441.8,431.9 L1444.8,431.9 L1447.8,431.9 L1450.8,431.9 L1453.9,431.9 L1456.9,431.9 L1459.9,432.0 L1462.9,432.0 L1465.9,432.0 L1468.9,432.0 L1472.0,432.0 L1475.0,432.0 L1478.0,432.0" fill="none" stroke="#feeba2" stroke-width="9" stroke-linejoin="round" stroke-linecap="butt"/>
<path d="M371.5,413.5 L374.5,413.4 L377.5,413.3 L380.6,413.1 L383.6,413.0 L386.6,412.8 L389.6,412.7 L392.6,412.5 L395.7,412.4 L398.7,412.2 L401.7,412.1 L404.7,411.9 L407.7,411.8 L410.8,411.6 L413.8,411.5 L416.8,411.3 L419.8,411.2 L422.8,411.1 L425.8,411.0 L428.9,410.9 L431.9,410.8 L434.9,410.7 L437.9,410.6 L440.9,410.6 L444.0,410.5 L447.0,410.5 L450.0,410.5 L453.0,410.5 L456.1,410.5 L459.1,410.5 L462.1,410.5 L465.2,410.6 L468.2,410.6 L471.2,410.6 L474.2,410.7 L477.3,410.7 L480.3,410.7 L483.3,410.8 L486.4,410.8 L489.4,410.9 L492.4,410.9 L495.5,411.0 L498.5,411.0 L501.5,411.1 L504.5,411.1 L507.6,411.2 L510.6,411.3 L513.6,411.3 L516.7,411.4 L519.7,411.4 L522.7,411.5 L525.8,411.6 L528.8,411.6 L531.8,411.7 L534.8,411.7 L537.9,411.8 L540.9,411.8 L543.9,411.9 L547.0,412.0 L550.0,412.0 L553.1,412.0 L556.1,412.1 L559.2,412.1 L562.3,412.2 L565.3,412.3 L568.4,412.3 L571.5,412.4 L574.5,412.4 L577.6,412.5 L580.6,412.5 L583.7,412.6 L586.8,412.6 L589.8,412.7 L592.9,412.7 L596.0,412.8 L599.0,412.8 L602.1,412.9 L605.2,413.0 L608.2,413.0 L611.3,413.1 L614.4,413.1 L617.4,413.1 L620.5,413.2 L623.5,413.2 L626.6,413.3 L629.7,413.3 L632.7,413.4 L635.8,413.4 L638.9,413.4 L641.9,413.5 L645.0,413.5 L648.0,413.5 L651.1,413.6 L654.1,413.6 L657.2,413.6 L660.2,413.6 L663.2,413.7 L666.3,413.7 L669.3,413.7 L672.4,413.7 L675.4,413.7 L678.4,413.8 L681.5,413.8 L684.5,413.8 L687.5,413.8 L690.6,413.8 L693.6,413.8 L696.7,413.8 L699.7,413.9 L702.7,413.9 L705.8,413.9 L708.8,413.9 L711.9,413.9 L714.9,413.9 L717.9,413.9 L721.0,414.0 L724.0,414.0 L727.1,414.0 L730.1,414.0 L733.1,414.0 L736.2,414.0 L739.2,414.0 L742.3,414.1 L745.3,414.1 L748.3,414.1 L751.4,414.1 L754.4,414.1 L757.5,414.1 L760.5,414.2 L763.5,414.2 L766.6,414.2 L769.6,414.2 L772.6,414.2 L775.7,414.3 L778.7,414.3 L781.8,414.3 L784.8,414.3 L787.8,414.4 L790.9,414.4 L793.9,414.4 L797.0,414.5 L800.0,414.5 L803.1,414.5 L806.1,414.6 L809.2,414.6 L812.2,414.7 L815.3,414.8 L818.3,414.8 L821.4,414.9 L824.4,415.0 L827.5,415.1 L830.6,415.2 L833.6,415.3 L836.7,415.3 L839.7,415.4 L842.8,415.6 L845.8,415.7 L848.9,415.8 L851.9,415.9 L855.0,416.0 L858.1,416.1 L861.1,416.2 L864.2,416.3 L867.2,416.5 L870.3,416.6 L873.3,416.7 L876.4,416.8 L879.4,416.9 L882.5,417.1 L885.6,417.2 L888.6,417.3 L891.7,417.4 L894.7,417.5 L897.8,417.6 L900.8,417.7 L903.9,417.8 L906.9,417.9 L910.0,418.0 L913.0,418.1 L916.0,418.2 L919.0,418.3 L922.0,418.4 L925.0,418.5 L928.0,418.6 L931.0,418.7 L934.0,418.8 L937.0,418.9 L940.0,419.0 L943.0,419.1 L946.0,419.2 L949.0,419.3 L952.0,419.4 L955.0,419.5 L958.0,419.6 L961.0,419.7 L964.0,419.8 L967.0,419.8 L970.0,419.9 L973.0,420.0 L976.0,420.1 L979.0,420.1 L982.0,420.2 L985.0,420.3 L988.0,420.3 L991.0,420.4 L994.0,420.4 L997.0,420.5 L1000.0,420.5 L1003.0,420.5 L1006.0,420.6 L1009.0,420.6 L1012.1,420.6 L1015.1,420.6 L1018.1,420.7 L1021.1,420.7 L1024.1,420.7 L1027.1,420.7 L1030.2,420.7 L1033.2,420.8 L1036.2,420.8 L1039.2,420.8 L1042.2,420.8 L1045.2,420.8 L1048.3,420.8 L1051.3,420.9 L1054.3,420.9 L1057.3,420.9 L1060.3,420.9 L1063.3,420.9 L1066.3,420.9 L1069.4,420.9 L1072.4,421.0 L1075.4,421.0 L1078.4,421.0 L1081.4,421.0 L1084.4,421.0 L1087.5,421.0 L1090.5,421.0 L1093.5,421.0 L1096.5,421.0 L1099.5,421.1 L1102.5,421.1 L1105.6,421.1 L1108.6,421.1 L1111.6,421.1 L1114.6,421.1 L1117.6,421.1 L1120.6,421.1 L1123.7,421.1 L1126.7,421.2 L1129.7,421.2 L1132.7,421.2 L1135.7,421.2 L1138.7,421.2 L1141.7,421.2 L1144.8,421.2 L1147.8,421.2 L1150.8,421.3 L1153.8,421.3 L1156.8,421.3 L1159.8,421.3 L1162.9,421.3 L1165.9,421.3 L1168.9,421.4 L1171.9,421.4 L1174.9,421.4 L1177.9,421.4 L1181.0,421.4 L1184.0,421.5 L1187.0,421.5 L1190.0,421.5 L1193.1,421.5 L1196.1,421.6 L1199.2,421.6 L1202.2,421.6 L1205.3,421.7 L1208.3,421.7 L1211.4,421.7 L1214.4,421.8 L1217.5,421.8 L1220.6,421.9 L1223.6,421.9 L1226.7,422.0 L1229.7,422.0 L1232.8,422.1 L1235.8,422.1 L1238.9,422.2 L1241.9,422.2 L1245.0,422.3 L1248.1,422.3 L1251.1,422.4 L1254.2,422.4 L1257.2,422.5 L1260.3,422.5 L1263.3,422.6 L1266.4,422.6 L1269.4,422.7 L1272.5,422.7 L1275.6,422.8 L1278.6,422.8 L1281.7,422.8 L1284.7,422.9 L1287.8,422.9 L1290.8,422.9 L1293.9,423.0 L1296.9,423.0 L1300.0,423.0 L1303.0,423.0 L1306.0,423.0 L1309.1,423.0 L1312.1,423.1 L1315.1,423.1 L1318.1,423.1 L1321.1,423.1 L1324.1,423.1 L1327.2,423.1 L1330.2,423.1 L1333.2,423.1 L1336.2,423.2 L1339.2,423.2 L1342.2,423.2 L1345.3,423.2 L1348.3,423.2 L1351.3,423.2 L1354.3,423.2 L1357.3,423.2 L1360.3,423.2 L1363.4,423.2 L1366.4,423.2 L1369.4,423.2 L1372.4,423.3 L1375.4,423.3 L1378.4,423.3 L1381.5,423.3 L1384.5,423.3 L1387.5,423.3 L1390.5,423.3 L1393.5,423.3 L1396.5,423.3 L1399.6,423.3 L1402.6,423.3 L1405.6,423.3 L1408.6,423.3 L1411.6,423.3 L1414.6,423.4 L1417.7,423.4 L1420.7,423.4 L1423.7,423.4 L1426.7,423.4 L1429.7,423.4 L1432.7,423.4 L1435.8,423.4 L1438.8,423.4 L1441.8,423.4 L1444.8,423.4 L1447.8,423.4 L1450.8,423.4 L1453.9,423.4 L1456.9,423.4 L1459.9,423.5 L1462.9,423.5 L1465.9,423.5 L1468.9,423.5 L1472.0,423.5 L1475.0,423.5 L1478.0,423.5" fill="none" stroke="#e8e6c6" stroke-width="9" stroke-linejoin="round" stroke-linecap="butt"/>
<path d="M371.5,1137.8 L374.5,1137.7 L377.5,1137.6 L380.5,1137.5 L383.5,1137.4 L386.5,1137.3 L389.5,1137.2 L392.5,1137.2 L395.6,1137.1 L398.6,1137.0 L401.6,1136.9 L404.6,1136.8 L407.6,1136.8 L410.6,1136.7 L413.6,1136.6 L416.6,1136.5 L419.6,1136.5 L422.6,1136.4 L425.6,1136.3 L428.6,1136.2 L431.6,1136.2 L434.6,1136.1 L437.6,1136.0 L440.7,1135.9 L443.7,1135.9 L446.7,1135.8 L449.7,1135.7 L452.7,1135.6 L455.7,1135.6 L458.7,1135.5 L461.7,1135.4 L464.7,1135.3 L467.7,1135.3 L470.7,1135.2 L473.7,1135.1 L476.7,1135.0 L479.7,1135.0 L482.7,1134.9 L485.8,1134.8 L488.8,1134.7 L491.8,1134.7 L494.8,1134.6 L497.8,1134.5 L500.8,1134.4 L503.8,1134.3 L506.8,1134.3 L509.8,1134.2 L512.8,1134.1 L515.8,1134.0 L518.8,1133.9 L521.8,1133.8 L524.8,1133.7 L527.8,1133.7 L530.8,1133.6 L533.9,1133.5 L536.9,1133.4 L539.9,1133.3 L542.9,1133.2 L545.9,1133.1 L548.9,1133.0 L551.9,1132.9 L554.9,1132.8 L557.9,1132.7 L560.9,1132.6 L563.9,1132.5 L566.9,1132.3 L569.9,1132.2 L572.9,1132.1 L575.9,1132.0 L579.0,1131.9 L582.0,1131.8 L585.0,1131.6 L588.0,1131.5 L591.0,1131.4 L594.0,1131.3 L597.0,1131.1 L600.0,1131.0 L603.0,1130.9 L606.0,1130.7 L609.0,1130.5 L612.0,1130.4 L615.0,1130.2 L618.0,1130.0 L621.0,1129.8 L624.0,1129.6 L627.0,1129.3 L630.0,1129.1 L633.0,1128.9 L636.0,1128.6 L639.0,1128.4 L642.1,1128.1 L645.1,1127.9 L648.1,1127.6 L651.1,1127.3 L654.1,1127.0 L657.1,1126.8 L660.1,1126.5 L663.1,1126.2 L666.1,1125.9 L669.1,1125.6 L672.1,1125.3 L675.1,1125.0 L678.1,1124.7 L681.1,1124.4 L684.1,1124.1 L687.1,1123.8 L690.1,1123.5 L693.1,1123.2 L696.1,1122.9 L699.1,1122.6 L702.1,1122.3 L705.1,1122.0 L708.1,1121.7 L711.1,1121.5 L714.1,1121.2 L717.2,1120.9 L720.2,1120.6 L723.2,1120.4 L726.2,1120.1 L729.2,1119.9 L732.2,1119.6 L735.2,1119.4 L738.2,1119.2 L741.2,1119.0 L744.2,1118.7 L747.2,1118.5 L750.2,1118.4 L753.2,1118.2 L756.2,1118.0 L759.4,1117.8 L762.6,1117.6 L765.8,1117.4 L768.9,1117.2 L772.1,1117.1 L775.3,1116.9 L778.5,1116.7 L781.7,1116.5 L784.9,1116.4 L788.1,1116.3 L791.2,1116.1 L794.4,1116.1 L797.6,1116.0 L800.8,1116.0 L803.8,1116.0 L806.9,1116.0 L809.9,1116.0 L812.9,1116.1 L816.0,1116.1 L819.0,1116.1 L822.0,1116.2 L825.1,1116.2 L828.1,1116.2 L831.1,1116.3 L834.2,1116.4 L837.2,1116.4 L840.3,1116.5 L843.3,1116.5 L846.3,1116.6 L849.4,1116.7 L852.4,1116.8 L855.4,1116.8 L858.5,1116.9 L861.5,1117.0 L864.5,1117.1 L867.6,1117.2 L870.6,1117.4 L873.7,1117.5 L876.7,1117.7 L879.7,1117.9 L882.8,1118.1 L885.8,1118.3 L888.9,1118.5 L891.9,1118.8 L894.9,1119.0 L898.0,1119.2 L901.0,1119.5 L904.1,1119.7 L907.1,1120.0 L910.1,1120.2 L913.2,1120.4 L916.2,1120.6 L919.3,1120.8 L922.3,1121.0 L925.3,1121.2 L928.3,1121.4 L931.3,1121.5 L934.3,1121.7 L937.3,1121.9 L940.3,1122.1 L943.3,1122.3 L946.3,1122.5 L949.3,1122.7 L952.3,1122.9 L955.3,1123.1 L958.3,1123.3 L961.3,1123.5 L964.3,1123.7 L967.3,1123.8 L970.3,1124.0 L973.3,1124.2 L976.3,1124.3 L979.3,1124.4 L982.3,1124.6 L985.3,1124.7 L988.3,1124.8 L991.3,1124.8 L994.3,1124.9 L997.3,1125.0 L1000.3,1125.0 L1003.3,1125.0 L1006.5,1125.0 L1009.6,1125.0 L1012.8,1125.0 L1016.0,1125.0 L1019.1,1125.0 L1022.3,1125.0 L1025.5,1125.0 L1028.7,1125.0 L1031.8,1125.0 L1035.0,1125.0 L1038.2,1125.0 L1041.3,1125.0 L1044.5,1125.0 L1047.7,1125.0 L1050.8,1125.0 L1054.0,1125.0 L1057.0,1125.0 L1060.0,1124.9 L1063.0,1124.7 L1066.0,1124.5 L1069.0,1124.2 L1072.0,1123.9 L1075.0,1123.5 L1078.0,1123.1 L1081.0,1122.7 L1084.0,1122.3 L1087.0,1121.9 L1090.0,1121.4 L1093.0,1121.0 L1096.0,1120.5 L1099.0,1120.1 L1102.0,1119.7 L1105.0,1119.3 L1108.0,1119.0 L1111.0,1118.7 L1114.0,1118.4 L1117.0,1118.2 L1120.0,1118.0 L1123.1,1117.9 L1126.2,1117.7 L1129.3,1117.6 L1132.3,1117.5 L1135.4,1117.3 L1138.5,1117.2 L1141.6,1117.1 L1144.7,1117.0 L1147.8,1116.9 L1150.9,1116.8 L1154.0,1116.7 L1157.0,1116.6 L1160.1,1116.5 L1163.2,1116.4 L1166.3,1116.3 L1169.4,1116.2 L1172.5,1116.2 L1175.6,1116.1 L1178.7,1116.1 L1181.7,1116.0 L1184.8,1116.0 L1187.9,1116.0 L1191.0,1116.0 L1194.0,1116.0 L1197.1,1116.0 L1200.1,1116.0 L1203.2,1116.1 L1206.2,1116.1 L1209.2,1116.1 L1212.3,1116.2 L1215.3,1116.2 L1218.3,1116.3 L1221.4,1116.3 L1224.4,1116.4 L1227.5,1116.4 L1230.5,1116.5 L1233.5,1116.6 L1236.6,1116.6 L1239.6,1116.7 L1242.6,1116.8 L1245.7,1116.9 L1248.7,1116.9 L1251.8,1117.0 L1254.8,1117.1 L1257.8,1117.1 L1260.9,1117.2 L1263.9,1117.3 L1266.9,1117.4 L1270.0,1117.4 L1273.0,1117.5 L1276.0,1117.6 L1279.1,1117.6 L1282.1,1117.7 L1285.2,1117.7 L1288.2,1117.8 L1291.2,1117.8 L1294.3,1117.9 L1297.3,1117.9 L1300.3,1117.9 L1303.4,1118.0 L1306.4,1118.0 L1309.5,1118.0 L1312.5,1118.0 L1315.5,1118.0 L1318.5,1118.0 L1321.5,1117.9 L1324.5,1117.9 L1327.5,1117.8 L1330.5,1117.7 L1333.5,1117.6 L1336.5,1117.5 L1339.5,1117.4 L1342.5,1117.3 L1345.5,1117.2 L1348.5,1117.0 L1351.5,1116.9 L1354.6,1116.8 L1357.6,1116.6 L1360.6,1116.5 L1363.6,1116.3 L1366.6,1116.2 L1369.6,1116.0 L1372.6,1115.9 L1375.6,1115.7 L1378.6,1115.6 L1381.6,1115.5 L1384.6,1115.3 L1387.6,1115.2 L1390.6,1115.1 L1393.6,1115.0 L1396.6,1114.9 L1399.6,1114.8 L1402.6,1114.7 L1405.7,1114.6 L1408.7,1114.5 L1411.7,1114.4 L1414.7,1114.3 L1417.7,1114.2 L1420.7,1114.2 L1423.7,1114.1 L1426.8,1114.0 L1429.8,1113.9 L1432.8,1113.8 L1435.8,1113.7 L1438.8,1113.6 L1441.8,1113.5 L1444.8,1113.5 L1447.9,1113.4 L1450.9,1113.3 L1453.9,1113.2 L1456.9,1113.1 L1459.9,1113.0 L1462.9,1112.9 L1465.9,1112.9 L1469.0,1112.8 L1472.0,1112.7 L1475.0,1112.6 L1478.0,1112.5" fill="none" stroke="#ff6000" stroke-width="9" stroke-linejoin="round" stroke-linecap="butt"/>
<path d="M371.5,1137.8 L374.5,1137.0 L377.5,1136.3 L380.6,1135.6 L383.6,1134.9 L386.6,1134.1 L389.6,1133.4 L392.6,1132.7 L395.6,1132.0 L398.6,1131.2 L401.7,1130.5 L404.7,1129.8 L407.7,1129.1 L410.7,1128.4 L413.7,1127.7 L416.8,1127.0 L419.8,1126.3 L422.8,1125.7 L425.8,1125.0 L429.0,1124.3 L432.1,1123.6 L435.3,1122.8 L438.4,1122.0 L441.6,1121.3 L444.8,1120.5 L447.9,1119.7 L451.1,1119.0 L454.3,1118.3 L457.4,1117.6 L460.6,1117.0 L463.8,1116.4 L466.9,1115.9 L470.1,1115.5 L473.2,1115.2 L476.4,1115.0 L479.5,1114.8 L482.6,1114.7 L485.6,1114.6 L488.7,1114.5 L491.8,1114.4 L494.9,1114.3 L498.0,1114.2 L501.1,1114.1 L504.1,1114.0 L507.2,1114.0 L510.3,1113.9 L513.4,1113.9 L516.5,1113.8 L519.6,1113.7 L522.6,1113.7 L525.7,1113.6 L528.8,1113.5 L531.9,1113.5 L535.0,1113.4 L538.1,1113.3 L541.1,1113.2 L544.2,1113.0 L547.3,1112.9 L550.3,1112.7 L553.4,1112.6 L556.4,1112.4 L559.4,1112.1 L562.5,1111.9 L565.5,1111.6 L568.5,1111.4 L571.6,1111.1 L574.6,1110.8 L577.6,1110.4 L580.7,1110.1 L583.7,1109.8 L586.8,1109.4 L589.8,1109.1 L592.8,1108.7 L595.9,1108.3 L598.9,1107.9 L601.9,1107.6 L605.0,1107.2 L608.0,1106.8 L611.0,1106.4 L614.1,1106.0 L617.1,1105.5 L620.2,1105.1 L623.2,1104.6 L626.2,1104.1 L629.3,1103.5 L632.3,1103.0 L635.4,1102.5 L638.4,1101.9 L641.4,1101.4 L644.5,1100.8 L647.5,1100.3 L650.6,1099.7 L653.6,1099.2 L656.6,1098.7 L659.7,1098.1 L662.7,1097.6 L665.8,1097.2 L668.8,1096.7 L671.8,1096.3 L674.9,1095.8 L677.9,1095.4 L681.0,1095.0 L684.0,1094.5 L687.1,1094.1 L690.1,1093.7 L693.2,1093.3 L696.2,1092.9 L699.3,1092.5 L702.3,1092.1 L705.4,1091.8 L708.4,1091.4 L711.5,1091.0 L714.5,1090.6 L717.6,1090.2 L720.6,1089.8 L723.7,1089.4 L726.7,1089.0 L729.8,1088.6 L732.8,1088.2 L735.9,1087.8 L738.9,1087.4 L742.0,1087.0 L745.0,1086.6 L748.1,1086.2 L751.2,1085.7 L754.3,1085.3 L757.4,1084.9 L760.5,1084.4 L763.6,1084.0 L766.7,1083.5 L769.8,1083.1 L772.9,1082.6 L776.0,1082.2 L779.1,1081.7 L782.2,1081.2 L785.3,1080.8 L788.4,1080.3 L791.5,1079.9 L794.6,1079.4 L797.7,1079.0 L800.8,1078.5 L803.8,1078.0 L806.9,1077.5 L809.9,1077.0 L812.9,1076.5 L816.0,1075.9 L819.0,1075.3 L822.0,1074.8 L825.1,1074.2 L828.1,1073.6 L831.1,1073.1 L834.2,1072.5 L837.2,1072.0 L840.3,1071.5 L843.3,1071.1 L846.3,1070.7 L849.4,1070.3 L852.4,1070.0 L855.4,1069.7 L858.5,1069.5 L861.5,1069.4 L864.5,1069.3 L867.6,1069.2 L870.6,1069.1 L873.7,1069.1 L876.7,1069.0 L879.7,1068.9 L882.8,1068.9 L885.8,1068.8 L888.9,1068.7 L891.9,1068.7 L894.9,1068.6 L898.0,1068.6 L901.0,1068.5 L904.1,1068.5 L907.1,1068.5 L910.1,1068.4 L913.2,1068.4 L916.2,1068.4 L919.3,1068.4 L922.3,1068.4 L925.4,1068.5 L928.5,1068.8 L931.6,1069.2 L934.8,1069.8 L937.9,1070.5 L941.0,1071.3 L944.1,1072.1 L947.2,1073.0 L950.3,1074.0 L953.5,1074.9 L956.6,1075.8 L959.7,1076.7 L962.8,1077.5 L965.9,1078.3 L969.0,1079.1 L972.1,1079.9 L975.3,1080.8 L978.4,1081.7 L981.5,1082.5 L984.6,1083.4 L987.7,1084.3 L990.8,1085.2 L994.0,1086.1 L997.1,1086.9 L1000.2,1087.8 L1003.3,1088.6 L1006.4,1089.5 L1009.5,1090.4 L1012.6,1091.4 L1015.8,1092.4 L1018.9,1093.4 L1022.0,1094.3 L1025.1,1095.3 L1028.2,1096.2 L1031.3,1096.9 L1034.5,1097.6 L1037.6,1098.1 L1040.7,1098.5 L1043.8,1098.7 L1046.8,1098.8 L1049.9,1098.9 L1052.9,1098.9 L1056.0,1099.0 L1059.0,1099.1 L1062.1,1099.1 L1065.1,1099.2 L1068.2,1099.2 L1071.2,1099.3 L1074.3,1099.3 L1077.3,1099.3 L1080.4,1099.4 L1083.4,1099.4 L1086.5,1099.4 L1089.5,1099.5 L1092.6,1099.5 L1095.6,1099.5 L1098.7,1099.5 L1101.7,1099.6 L1104.8,1099.6 L1107.8,1099.6 L1110.9,1099.7 L1113.9,1099.7 L1117.0,1099.8 L1120.0,1099.8 L1123.0,1099.8 L1126.0,1099.9 L1129.0,1100.0 L1132.1,1100.0 L1135.1,1100.1 L1138.1,1100.1 L1141.1,1100.2 L1144.1,1100.3 L1147.1,1100.3 L1150.1,1100.4 L1153.1,1100.5 L1156.2,1100.6 L1159.2,1100.6 L1162.2,1100.7 L1165.2,1100.8 L1168.2,1100.8 L1171.2,1100.9 L1174.2,1101.0 L1177.3,1101.1 L1180.3,1101.1 L1183.3,1101.2 L1186.3,1101.3 L1189.3,1101.3 L1192.3,1101.4 L1195.3,1101.4 L1198.4,1101.5 L1201.4,1101.5 L1204.4,1101.6 L1207.4,1101.6 L1210.4,1101.7 L1213.4,1101.7 L1216.4,1101.7 L1219.4,1101.8 L1222.5,1101.8 L1225.5,1101.8 L1228.5,1101.8 L1231.5,1101.8 L1234.6,1101.8 L1237.6,1101.7 L1240.7,1101.7 L1243.8,1101.6 L1246.8,1101.5 L1249.9,1101.4 L1253.0,1101.2 L1256.1,1101.0 L1259.1,1100.9 L1262.2,1100.7 L1265.3,1100.5 L1268.3,1100.3 L1271.4,1100.0 L1274.5,1099.8 L1277.5,1099.6 L1280.6,1099.4 L1283.7,1099.1 L1286.8,1098.9 L1289.8,1098.7 L1292.9,1098.5 L1296.0,1098.2 L1299.0,1098.0 L1302.1,1097.8 L1305.2,1097.6 L1308.2,1097.5 L1311.3,1097.3 L1314.4,1097.1 L1317.5,1097.0 L1320.5,1096.9 L1323.6,1096.8 L1326.7,1096.8 L1329.7,1096.7 L1332.8,1096.7 L1335.8,1096.7 L1338.9,1096.7 L1341.9,1096.8 L1345.0,1096.8 L1348.0,1096.9 L1351.0,1096.9 L1354.1,1097.0 L1357.1,1097.1 L1360.2,1097.1 L1363.2,1097.2 L1366.2,1097.3 L1369.3,1097.3 L1372.3,1097.4 L1375.4,1097.5 L1378.4,1097.5 L1381.4,1097.6 L1384.5,1097.6 L1387.5,1097.7 L1390.6,1097.7 L1393.6,1097.7 L1396.6,1097.7 L1399.6,1097.7 L1402.6,1097.7 L1405.7,1097.7 L1408.7,1097.6 L1411.7,1097.6 L1414.7,1097.6 L1417.7,1097.5 L1420.7,1097.5 L1423.7,1097.4 L1426.8,1097.4 L1429.8,1097.4 L1432.8,1097.3 L1435.8,1097.2 L1438.8,1097.2 L1441.8,1097.1 L1444.8,1097.1 L1447.9,1097.0 L1450.9,1097.0 L1453.9,1096.9 L1456.9,1096.9 L1459.9,1096.8 L1462.9,1096.7 L1465.9,1096.7 L1469.0,1096.6 L1472.0,1096.6 L1475.0,1096.5 L1478.0,1096.5" fill="none" stroke="#ff9000" stroke-width="9" stroke-linejoin="round" stroke-linecap="butt"/>
<path d="M371.5,1137.8 L374.5,1137.7 L377.6,1137.7 L380.6,1137.6 L383.6,1137.6 L386.6,1137.5 L389.7,1137.5 L392.7,1137.4 L395.7,1137.4 L398.7,1137.3 L401.8,1137.3 L404.8,1137.2 L407.8,1137.2 L410.8,1137.1 L413.9,1137.1 L416.9,1137.0 L419.9,1137.0 L422.9,1137.0 L426.0,1136.9 L429.0,1136.9 L432.0,1136.8 L435.0,1136.8 L438.1,1136.7 L441.1,1136.7 L444.1,1136.6 L447.1,1136.6 L450.2,1136.5 L453.2,1136.5 L456.2,1136.4 L459.2,1136.4 L462.3,1136.3 L465.3,1136.3 L468.3,1136.3 L471.3,1136.2 L474.4,1136.2 L477.4,1136.1 L480.4,1136.1 L483.4,1136.0 L486.5,1136.0 L489.5,1135.9 L492.5,1135.9 L495.5,1135.8 L498.6,1135.8 L501.6,1135.7 L504.6,1135.7 L507.6,1135.6 L510.7,1135.6 L513.7,1135.6 L516.7,1135.5 L519.7,1135.5 L522.8,1135.4 L525.8,1135.4 L528.8,1135.3 L531.8,1135.3 L534.9,1135.2 L537.9,1135.2 L540.9,1135.1 L543.9,1135.1 L547.0,1135.0 L550.0,1135.0 L553.0,1135.0 L556.1,1134.9 L559.1,1134.9 L562.1,1134.8 L565.2,1134.7 L568.2,1134.7 L571.2,1134.6 L574.2,1134.6 L577.3,1134.5 L580.3,1134.4 L583.3,1134.4 L586.4,1134.3 L589.4,1134.3 L592.4,1134.2 L595.5,1134.1 L598.5,1134.1 L601.5,1134.0 L604.5,1134.0 L607.6,1133.9 L610.6,1133.9 L613.6,1133.8 L616.7,1133.8 L619.7,1133.7 L622.7,1133.7 L625.8,1133.7 L628.8,1133.6 L631.8,1133.6 L634.8,1133.6 L637.9,1133.5 L640.9,1133.5 L643.9,1133.5 L647.0,1133.5 L650.0,1133.5 L653.0,1133.5 L656.0,1133.5 L659.0,1133.5 L662.0,1133.5 L665.0,1133.5 L668.0,1133.5 L671.0,1133.5 L674.0,1133.5 L677.0,1133.5 L680.0,1133.5 L683.0,1133.5 L686.0,1133.5 L689.0,1133.5 L692.0,1133.5 L695.0,1133.5 L698.0,1133.5 L701.0,1133.5 L704.0,1133.5 L707.0,1133.5 L710.0,1133.5 L713.0,1133.5 L716.1,1133.5 L719.1,1133.5 L722.2,1133.5 L725.2,1133.6 L728.3,1133.6 L731.3,1133.6 L734.3,1133.6 L737.4,1133.7 L740.4,1133.7 L743.5,1133.7 L746.5,1133.8 L749.6,1133.8 L752.6,1133.9 L755.7,1133.9 L758.7,1134.0 L761.7,1134.0 L764.8,1134.1 L767.8,1134.2 L770.9,1134.2 L773.9,1134.3 L777.0,1134.4 L780.0,1134.4 L783.0,1134.5 L786.1,1134.6 L789.1,1134.6 L792.2,1134.7 L795.2,1134.8 L798.3,1134.8 L801.3,1134.9 L804.3,1135.0 L807.4,1135.1 L810.4,1135.1 L813.5,1135.2 L816.5,1135.3 L819.6,1135.3 L822.6,1135.4 L825.7,1135.5 L828.7,1135.6 L831.7,1135.6 L834.8,1135.7 L837.8,1135.8 L840.9,1135.8 L843.9,1135.9 L847.0,1135.9 L850.0,1136.0 L853.0,1136.1 L856.0,1136.1 L859.0,1136.2 L862.0,1136.2 L865.0,1136.3 L868.0,1136.4 L871.0,1136.5 L874.0,1136.5 L877.0,1136.6 L880.0,1136.7 L883.0,1136.8 L886.0,1136.8 L889.0,1136.9 L892.0,1137.0 L895.0,1137.1 L898.0,1137.1 L901.0,1137.2 L904.0,1137.3 L907.0,1137.4 L910.0,1137.5 L913.0,1137.5 L916.0,1137.6 L919.0,1137.7 L922.0,1137.8 L925.0,1137.9 L928.0,1137.9 L931.0,1138.0 L934.0,1138.1 L937.0,1138.1 L940.0,1138.2 L943.0,1138.3 L946.0,1138.3 L949.0,1138.4 L952.0,1138.5 L955.0,1138.5 L958.0,1138.6 L961.0,1138.6 L964.0,1138.7 L967.0,1138.7 L970.0,1138.8 L973.0,1138.8 L976.0,1138.9 L979.0,1138.9 L982.0,1138.9 L985.0,1138.9 L988.0,1139.0 L991.0,1139.0 L994.0,1139.0 L997.0,1139.0 L1000.0,1139.0 L1003.0,1139.0 L1006.0,1139.0 L1009.0,1139.0 L1012.0,1139.0 L1015.0,1138.9 L1018.0,1138.9 L1021.0,1138.9 L1024.0,1138.9 L1027.0,1138.8 L1030.0,1138.8 L1033.0,1138.8 L1036.0,1138.7 L1039.0,1138.7 L1042.0,1138.6 L1045.0,1138.6 L1048.0,1138.5 L1051.0,1138.5 L1054.0,1138.4 L1057.0,1138.4 L1060.0,1138.3 L1063.0,1138.2 L1066.0,1138.2 L1069.0,1138.1 L1072.0,1138.1 L1075.0,1138.0 L1078.0,1137.9 L1081.0,1137.9 L1084.0,1137.8 L1087.0,1137.7 L1090.0,1137.7 L1093.0,1137.6 L1096.0,1137.5 L1099.0,1137.5 L1102.0,1137.4 L1105.0,1137.3 L1108.0,1137.3 L1111.0,1137.2 L1114.0,1137.1 L1117.0,1137.1 L1120.0,1137.0 L1123.0,1136.9 L1126.0,1136.9 L1129.1,1136.8 L1132.1,1136.7 L1135.1,1136.6 L1138.1,1136.5 L1141.2,1136.4 L1144.2,1136.4 L1147.2,1136.3 L1150.2,1136.2 L1153.3,1136.1 L1156.3,1135.9 L1159.3,1135.8 L1162.3,1135.7 L1165.3,1135.6 L1168.4,1135.5 L1171.4,1135.4 L1174.4,1135.3 L1177.4,1135.2 L1180.5,1135.1 L1183.5,1135.0 L1186.5,1134.9 L1189.5,1134.8 L1192.6,1134.7 L1195.6,1134.6 L1198.6,1134.5 L1201.6,1134.4 L1204.7,1134.3 L1207.7,1134.2 L1210.7,1134.1 L1213.7,1134.0 L1216.7,1133.9 L1219.8,1133.9 L1222.8,1133.8 L1225.8,1133.7 L1228.8,1133.7 L1231.9,1133.6 L1234.9,1133.6 L1237.9,1133.6 L1240.9,1133.5 L1244.0,1133.5 L1247.0,1133.5 L1250.0,1133.5 L1253.0,1133.5 L1256.0,1133.5 L1259.0,1133.5 L1262.0,1133.5 L1265.0,1133.5 L1268.0,1133.5 L1271.0,1133.5 L1274.0,1133.5 L1277.0,1133.5 L1280.0,1133.5 L1283.0,1133.6 L1286.0,1133.6 L1289.0,1133.6 L1292.0,1133.6 L1295.0,1133.6 L1298.0,1133.6 L1301.0,1133.6 L1304.0,1133.6 L1307.0,1133.7 L1310.0,1133.7 L1313.0,1133.7 L1316.0,1133.7 L1319.0,1133.7 L1322.0,1133.8 L1325.0,1133.8 L1328.0,1133.8 L1331.0,1133.8 L1334.0,1133.8 L1337.0,1133.9 L1340.0,1133.9 L1343.0,1133.9 L1346.0,1133.9 L1349.0,1133.9 L1352.0,1134.0 L1355.0,1134.0 L1358.0,1134.0 L1361.0,1134.0 L1364.0,1134.1 L1367.0,1134.1 L1370.0,1134.1 L1373.0,1134.1 L1376.0,1134.2 L1379.0,1134.2 L1382.0,1134.2 L1385.0,1134.2 L1388.0,1134.3 L1391.0,1134.3 L1394.0,1134.3 L1397.0,1134.3 L1400.0,1134.4 L1403.0,1134.4 L1406.0,1134.4 L1409.0,1134.5 L1412.0,1134.5 L1415.0,1134.5 L1418.0,1134.5 L1421.0,1134.6 L1424.0,1134.6 L1427.0,1134.6 L1430.0,1134.6 L1433.0,1134.7 L1436.0,1134.7 L1439.0,1134.7 L1442.0,1134.7 L1445.0,1134.8 L1448.0,1134.8 L1451.0,1134.8 L1454.0,1134.8 L1457.0,1134.9 L1460.0,1134.9 L1463.0,1134.9 L1466.0,1134.9 L1469.0,1134.9 L1472.0,1135.0 L1475.0,1135.0 L1478.0,1135.0" fill="none" stroke="#ffc84a" stroke-width="9" stroke-linejoin="round" stroke-linecap="butt"/>
<path d="M371.5,1137.8 L374.5,1137.7 L377.6,1137.6 L380.6,1137.6 L383.6,1137.5 L386.6,1137.4 L389.7,1137.3 L392.7,1137.3 L395.7,1137.2 L398.7,1137.1 L401.8,1137.0 L404.8,1136.9 L407.8,1136.9 L410.8,1136.8 L413.9,1136.7 L416.9,1136.6 L419.9,1136.5 L422.9,1136.4 L426.0,1136.4 L429.0,1136.3 L432.0,1136.2 L435.0,1136.1 L438.1,1136.0 L441.1,1135.9 L444.1,1135.9 L447.1,1135.8 L450.2,1135.7 L453.2,1135.6 L456.2,1135.5 L459.2,1135.4 L462.3,1135.4 L465.3,1135.3 L468.3,1135.2 L471.3,1135.1 L474.4,1135.1 L477.4,1135.0 L480.4,1134.9 L483.4,1134.8 L486.5,1134.8 L489.5,1134.7 L492.5,1134.7 L495.5,1134.6 L498.6,1134.5 L501.6,1134.5 L504.6,1134.4 L507.6,1134.4 L510.7,1134.3 L513.7,1134.3 L516.7,1134.2 L519.7,1134.2 L522.8,1134.2 L525.8,1134.1 L528.8,1134.1 L531.8,1134.1 L534.9,1134.1 L537.9,1134.0 L540.9,1134.0 L543.9,1134.0 L547.0,1134.0 L550.0,1134.0 L553.0,1134.0 L556.0,1134.0 L559.0,1134.1 L562.0,1134.1 L565.0,1134.1 L568.0,1134.2 L571.0,1134.3 L574.0,1134.3 L577.0,1134.4 L580.0,1134.5 L583.0,1134.6 L586.0,1134.7 L589.0,1134.8 L592.0,1135.0 L595.0,1135.1 L598.0,1135.2 L601.0,1135.3 L604.0,1135.5 L607.0,1135.6 L610.0,1135.8 L613.0,1135.9 L616.0,1136.1 L619.0,1136.2 L622.0,1136.4 L625.0,1136.5 L628.0,1136.6 L631.0,1136.8 L634.0,1136.9 L637.0,1137.1 L640.0,1137.2 L643.0,1137.4 L646.0,1137.5 L649.0,1137.7 L652.0,1137.8 L655.0,1137.9 L658.0,1138.0 L661.0,1138.2 L664.0,1138.3 L667.0,1138.4 L670.0,1138.5 L673.0,1138.6 L676.0,1138.7 L679.0,1138.7 L682.0,1138.8 L685.0,1138.9 L688.0,1138.9 L691.0,1138.9 L694.0,1139.0 L697.0,1139.0 L700.0,1139.0 L703.0,1139.0 L706.0,1139.0 L709.0,1139.0 L712.0,1139.0 L715.0,1138.9 L718.0,1138.9 L721.0,1138.9 L724.0,1138.9 L727.0,1138.8 L730.0,1138.8 L733.0,1138.8 L736.0,1138.7 L739.0,1138.7 L742.0,1138.6 L745.0,1138.6 L748.0,1138.5 L751.0,1138.5 L754.0,1138.4 L757.0,1138.4 L760.0,1138.3 L763.0,1138.2 L766.0,1138.2 L769.0,1138.1 L772.0,1138.1 L775.0,1138.0 L778.0,1137.9 L781.0,1137.9 L784.0,1137.8 L787.0,1137.8 L790.0,1137.7 L793.0,1137.6 L796.0,1137.6 L799.0,1137.5 L802.0,1137.5 L805.0,1137.4 L808.0,1137.4 L811.0,1137.3 L814.0,1137.3 L817.0,1137.2 L820.0,1137.2 L823.0,1137.2 L826.0,1137.1 L829.0,1137.1 L832.0,1137.1 L835.0,1137.1 L838.0,1137.0 L841.0,1137.0 L844.0,1137.0 L847.0,1137.0 L850.0,1137.0 L853.0,1137.0 L856.0,1137.0 L859.0,1137.0 L862.0,1137.0 L865.0,1137.1 L868.0,1137.1 L871.0,1137.1 L874.0,1137.2 L877.0,1137.2 L880.0,1137.3 L883.0,1137.3 L886.0,1137.4 L889.0,1137.4 L892.0,1137.5 L895.0,1137.5 L898.0,1137.6 L901.0,1137.7 L904.0,1137.7 L907.0,1137.8 L910.0,1137.9 L913.0,1138.0 L916.0,1138.0 L919.0,1138.1 L922.0,1138.2 L925.0,1138.2 L928.0,1138.3 L931.0,1138.4 L934.0,1138.5 L937.0,1138.5 L940.0,1138.6 L943.0,1138.7 L946.0,1138.8 L949.0,1138.8 L952.0,1138.9 L955.0,1139.0 L958.0,1139.0 L961.0,1139.1 L964.0,1139.1 L967.0,1139.2 L970.0,1139.2 L973.0,1139.3 L976.0,1139.3 L979.0,1139.4 L982.0,1139.4 L985.0,1139.4 L988.0,1139.5 L991.0,1139.5 L994.0,1139.5 L997.0,1139.5 L1000.0,1139.5 L1003.0,1139.5 L1006.0,1139.4 L1009.0,1139.4 L1012.0,1139.3 L1015.0,1139.2 L1018.0,1139.1 L1021.0,1139.0 L1024.0,1138.8 L1027.0,1138.7 L1030.0,1138.5 L1033.0,1138.3 L1036.0,1138.2 L1039.0,1138.0 L1042.0,1137.8 L1045.0,1137.7 L1048.0,1137.5 L1051.0,1137.4 L1054.0,1137.2 L1057.0,1137.1 L1060.0,1137.0 L1063.0,1136.9 L1066.1,1136.8 L1069.1,1136.7 L1072.2,1136.6 L1075.2,1136.5 L1078.3,1136.4 L1081.3,1136.3 L1084.3,1136.2 L1087.4,1136.1 L1090.4,1136.0 L1093.5,1136.0 L1096.5,1135.9 L1099.6,1135.8 L1102.6,1135.7 L1105.7,1135.6 L1108.7,1135.5 L1111.7,1135.5 L1114.8,1135.4 L1117.8,1135.3 L1120.9,1135.2 L1123.9,1135.1 L1127.0,1135.1 L1130.0,1135.0 L1133.0,1134.9 L1136.1,1134.8 L1139.1,1134.8 L1142.2,1134.7 L1145.2,1134.6 L1148.3,1134.5 L1151.3,1134.4 L1154.3,1134.4 L1157.4,1134.3 L1160.4,1134.2 L1163.5,1134.1 L1166.5,1134.0 L1169.6,1133.9 L1172.6,1133.9 L1175.7,1133.8 L1178.7,1133.7 L1181.7,1133.6 L1184.8,1133.5 L1187.8,1133.4 L1190.9,1133.3 L1193.9,1133.2 L1197.0,1133.1 L1200.0,1133.0 L1203.0,1132.9 L1206.0,1132.8 L1209.1,1132.7 L1212.1,1132.6 L1215.1,1132.5 L1218.1,1132.4 L1221.2,1132.2 L1224.2,1132.1 L1227.2,1132.0 L1230.2,1131.9 L1233.2,1131.8 L1236.3,1131.7 L1239.3,1131.5 L1242.3,1131.4 L1245.3,1131.3 L1248.3,1131.2 L1251.4,1131.1 L1254.4,1130.9 L1257.4,1130.8 L1260.4,1130.7 L1263.5,1130.6 L1266.5,1130.4 L1269.5,1130.3 L1272.5,1130.2 L1275.5,1130.0 L1278.6,1129.9 L1281.6,1129.8 L1284.6,1129.6 L1287.6,1129.5 L1290.7,1129.4 L1293.7,1129.2 L1296.7,1129.1 L1299.7,1129.0 L1302.7,1128.8 L1305.8,1128.7 L1308.8,1128.5 L1311.8,1128.4 L1314.8,1128.3 L1317.8,1128.1 L1320.9,1128.0 L1323.9,1127.8 L1326.9,1127.7 L1329.9,1127.6 L1333.0,1127.4 L1336.0,1127.3 L1339.0,1127.1 L1342.0,1127.0 L1345.0,1126.8 L1348.1,1126.7 L1351.1,1126.5 L1354.1,1126.4 L1357.1,1126.3 L1360.2,1126.1 L1363.2,1126.0 L1366.2,1125.8 L1369.2,1125.7 L1372.2,1125.5 L1375.3,1125.4 L1378.3,1125.2 L1381.3,1125.1 L1384.3,1124.9 L1387.3,1124.8 L1390.4,1124.6 L1393.4,1124.5 L1396.4,1124.4 L1399.4,1124.2 L1402.5,1124.1 L1405.5,1123.9 L1408.5,1123.8 L1411.5,1123.6 L1414.5,1123.5 L1417.6,1123.3 L1420.6,1123.2 L1423.6,1123.0 L1426.6,1122.9 L1429.7,1122.7 L1432.7,1122.6 L1435.7,1122.5 L1438.7,1122.3 L1441.7,1122.2 L1444.8,1122.0 L1447.8,1121.9 L1450.8,1121.7 L1453.8,1121.6 L1456.8,1121.5 L1459.9,1121.3 L1462.9,1121.2 L1465.9,1121.0 L1468.9,1120.9 L1472.0,1120.8 L1475.0,1120.6 L1478.0,1120.5" fill="none" stroke="#ffbb22" stroke-width="9" stroke-linejoin="round" stroke-linecap="butt"/>
<path d="M371.5,1137.8 L374.5,1137.7 L377.6,1137.7 L380.6,1137.6 L383.7,1137.6 L386.7,1137.5 L389.8,1137.5 L392.8,1137.4 L395.9,1137.4 L398.9,1137.3 L402.0,1137.2 L405.0,1137.2 L408.1,1137.1 L411.1,1137.1 L414.2,1137.0 L417.2,1137.0 L420.3,1136.9 L423.3,1136.8 L426.4,1136.8 L429.4,1136.7 L432.5,1136.7 L435.5,1136.6 L438.6,1136.5 L441.6,1136.5 L444.7,1136.4 L447.7,1136.4 L450.8,1136.3 L453.8,1136.3 L456.9,1136.2 L459.9,1136.2 L463.0,1136.1 L466.0,1136.1 L469.1,1136.0 L472.1,1136.0 L475.2,1135.9 L478.2,1135.9 L481.3,1135.8 L484.3,1135.8 L487.4,1135.8 L490.4,1135.7 L493.5,1135.7 L496.5,1135.7 L499.6,1135.6 L502.6,1135.6 L505.7,1135.6 L508.7,1135.6 L511.8,1135.5 L514.8,1135.5 L517.9,1135.5 L520.9,1135.5 L524.0,1135.5 L527.0,1135.5 L530.1,1135.5 L533.1,1135.6 L536.2,1135.7 L539.3,1135.8 L542.3,1135.9 L545.4,1136.1 L548.5,1136.3 L551.6,1136.5 L554.6,1136.8 L557.7,1137.0 L560.8,1137.3 L563.8,1137.6 L566.9,1137.9 L570.0,1138.2 L573.0,1138.5 L576.1,1138.8 L579.2,1139.2 L582.3,1139.5 L585.3,1139.8 L588.4,1140.1 L591.5,1140.4 L594.5,1140.7 L597.6,1141.0 L600.7,1141.2 L603.7,1141.5 L606.8,1141.7 L609.9,1141.9 L613.0,1142.1 L616.0,1142.2 L619.1,1142.3 L622.2,1142.4 L625.2,1142.5 L628.3,1142.5 L631.4,1142.5 L634.4,1142.5 L637.5,1142.5 L640.6,1142.4 L643.7,1142.4 L646.7,1142.3 L649.8,1142.3 L652.9,1142.2 L655.9,1142.1 L659.0,1142.1 L662.1,1142.0 L665.2,1141.9 L668.2,1141.8 L671.3,1141.7 L674.4,1141.6 L677.4,1141.5 L680.5,1141.4 L683.6,1141.3 L686.6,1141.2 L689.7,1141.1 L692.8,1141.0 L695.9,1140.9 L698.9,1140.7 L702.0,1140.6 L705.1,1140.5 L708.1,1140.4 L711.2,1140.3 L714.3,1140.2 L717.4,1140.1 L720.4,1140.0 L723.5,1139.9 L726.6,1139.8 L729.6,1139.7 L732.7,1139.6 L735.8,1139.5 L738.9,1139.4 L741.9,1139.4 L745.0,1139.3 L748.0,1139.2 L751.1,1139.2 L754.1,1139.1 L757.1,1139.1 L760.1,1139.0 L763.2,1138.9 L766.2,1138.9 L769.2,1138.8 L772.2,1138.7 L775.3,1138.7 L778.3,1138.6 L781.3,1138.5 L784.3,1138.5 L787.4,1138.4 L790.4,1138.3 L793.4,1138.3 L796.4,1138.2 L799.5,1138.2 L802.5,1138.1 L805.5,1138.1 L808.6,1138.0 L811.6,1138.0 L814.6,1137.9 L817.6,1137.9 L820.7,1137.8 L823.7,1137.8 L826.7,1137.7 L829.7,1137.7 L832.8,1137.7 L835.8,1137.6 L838.8,1137.6 L841.8,1137.6 L844.9,1137.6 L847.9,1137.5 L850.9,1137.5 L853.9,1137.5 L857.0,1137.5 L860.0,1137.5 L863.0,1137.5 L866.1,1137.5 L869.1,1137.6 L872.2,1137.6 L875.2,1137.7 L878.3,1137.8 L881.3,1137.9 L884.3,1138.1 L887.4,1138.2 L890.4,1138.3 L893.5,1138.5 L896.5,1138.7 L899.6,1138.9 L902.6,1139.1 L905.7,1139.2 L908.7,1139.5 L911.7,1139.7 L914.8,1139.9 L917.8,1140.1 L920.9,1140.3 L923.9,1140.5 L927.0,1140.8 L930.0,1141.0 L933.0,1141.2 L936.1,1141.5 L939.1,1141.7 L942.2,1141.9 L945.2,1142.1 L948.3,1142.3 L951.3,1142.5 L954.3,1142.8 L957.4,1142.9 L960.4,1143.1 L963.5,1143.3 L966.5,1143.5 L969.6,1143.7 L972.6,1143.8 L975.7,1143.9 L978.7,1144.1 L981.7,1144.2 L984.8,1144.3 L987.8,1144.4 L990.9,1144.4 L993.9,1144.5 L997.0,1144.5 L1000.0,1144.5 L1003.1,1144.5 L1006.1,1144.5 L1009.2,1144.4 L1012.2,1144.4 L1015.3,1144.3 L1018.3,1144.3 L1021.4,1144.2 L1024.4,1144.1 L1027.5,1144.0 L1030.6,1143.9 L1033.6,1143.8 L1036.7,1143.7 L1039.7,1143.6 L1042.8,1143.5 L1045.8,1143.4 L1048.9,1143.2 L1051.9,1143.1 L1055.0,1143.0 L1058.1,1142.9 L1061.1,1142.8 L1064.2,1142.6 L1067.2,1142.5 L1070.3,1142.4 L1073.3,1142.3 L1076.4,1142.2 L1079.4,1142.1 L1082.5,1142.0 L1085.6,1141.9 L1088.6,1141.8 L1091.7,1141.7 L1094.7,1141.7 L1097.8,1141.6 L1100.8,1141.6 L1103.9,1141.5 L1106.9,1141.5 L1110.0,1141.5 L1113.0,1141.5 L1116.0,1141.5 L1119.0,1141.5 L1122.1,1141.5 L1125.1,1141.5 L1128.1,1141.5 L1131.1,1141.5 L1134.1,1141.5 L1137.1,1141.5 L1140.2,1141.5 L1143.2,1141.5 L1146.2,1141.5 L1149.2,1141.5 L1152.2,1141.5 L1155.2,1141.5 L1158.3,1141.5 L1161.3,1141.5 L1164.3,1141.5 L1167.3,1141.5 L1170.3,1141.5 L1173.3,1141.6 L1176.4,1141.6 L1179.4,1141.6 L1182.4,1141.6 L1185.4,1141.6 L1188.4,1141.6 L1191.4,1141.6 L1194.5,1141.6 L1197.5,1141.6 L1200.5,1141.6 L1203.5,1141.6 L1206.5,1141.6 L1209.5,1141.6 L1212.6,1141.6 L1215.6,1141.6 L1218.6,1141.6 L1221.6,1141.7 L1224.6,1141.7 L1227.6,1141.7 L1230.7,1141.7 L1233.7,1141.7 L1236.7,1141.7 L1239.7,1141.7 L1242.7,1141.7 L1245.7,1141.7 L1248.8,1141.7 L1251.8,1141.7 L1254.8,1141.7 L1257.8,1141.8 L1260.8,1141.8 L1263.8,1141.8 L1266.9,1141.8 L1269.9,1141.8 L1272.9,1141.8 L1275.9,1141.8 L1278.9,1141.8 L1281.9,1141.8 L1285.0,1141.8 L1288.0,1141.9 L1291.0,1141.9 L1294.0,1141.9 L1297.0,1141.9 L1300.0,1141.9 L1303.0,1141.9 L1306.1,1141.9 L1309.1,1141.9 L1312.1,1141.9 L1315.1,1141.9 L1318.1,1142.0 L1321.1,1142.0 L1324.2,1142.0 L1327.2,1142.0 L1330.2,1142.0 L1333.2,1142.0 L1336.2,1142.0 L1339.2,1142.0 L1342.3,1142.0 L1345.3,1142.1 L1348.3,1142.1 L1351.3,1142.1 L1354.3,1142.1 L1357.3,1142.1 L1360.4,1142.1 L1363.4,1142.1 L1366.4,1142.1 L1369.4,1142.1 L1372.4,1142.2 L1375.4,1142.2 L1378.5,1142.2 L1381.5,1142.2 L1384.5,1142.2 L1387.5,1142.2 L1390.5,1142.2 L1393.5,1142.2 L1396.6,1142.2 L1399.6,1142.3 L1402.6,1142.3 L1405.6,1142.3 L1408.6,1142.3 L1411.6,1142.3 L1414.7,1142.3 L1417.7,1142.3 L1420.7,1142.3 L1423.7,1142.3 L1426.7,1142.3 L1429.7,1142.4 L1432.8,1142.4 L1435.8,1142.4 L1438.8,1142.4 L1441.8,1142.4 L1444.8,1142.4 L1447.8,1142.4 L1450.9,1142.4 L1453.9,1142.4 L1456.9,1142.4 L1459.9,1142.4 L1462.9,1142.5 L1465.9,1142.5 L1469.0,1142.5 L1472.0,1142.5 L1475.0,1142.5 L1478.0,1142.5" fill="none" stroke="#feeba2" stroke-width="9" stroke-linejoin="round" stroke-linecap="butt"/>
<path d="M371.5,1137.8 L374.6,1137.3 L377.6,1136.9 L380.7,1136.5 L383.7,1136.0 L386.8,1135.5 L389.8,1135.0 L392.9,1134.5 L396.0,1134.0 L399.0,1133.5 L402.1,1133.0 L405.1,1132.5 L408.2,1132.0 L411.3,1131.5 L414.3,1130.9 L417.4,1130.5 L420.4,1130.0 L423.5,1129.5 L426.5,1129.0 L429.6,1128.6 L432.7,1128.2 L435.7,1127.8 L438.8,1127.4 L441.8,1127.1 L444.9,1126.7 L448.0,1126.4 L451.0,1126.2 L454.1,1126.0 L457.1,1125.8 L460.2,1125.7 L463.2,1125.6 L466.3,1125.5 L469.4,1125.5 L472.4,1125.4 L475.5,1125.4 L478.6,1125.4 L481.6,1125.4 L484.7,1125.4 L487.8,1125.3 L490.9,1125.3 L493.9,1125.3 L497.0,1125.3 L500.1,1125.3 L503.1,1125.3 L506.2,1125.2 L509.3,1125.2 L512.3,1125.2 L515.4,1125.2 L518.5,1125.2 L521.6,1125.2 L524.6,1125.2 L527.7,1125.2 L530.8,1125.2 L533.8,1125.1 L536.9,1125.1 L540.0,1125.1 L543.0,1125.1 L546.1,1125.1 L549.2,1125.1 L552.3,1125.1 L555.3,1125.1 L558.4,1125.1 L561.5,1125.0 L564.5,1125.0 L567.6,1125.0 L570.6,1125.0 L573.6,1125.0 L576.6,1124.9 L579.6,1124.9 L582.6,1124.9 L585.6,1124.9 L588.6,1124.8 L591.7,1124.8 L594.7,1124.8 L597.7,1124.8 L600.7,1124.7 L603.7,1124.7 L606.7,1124.7 L609.7,1124.6 L612.7,1124.6 L615.7,1124.6 L618.7,1124.5 L621.7,1124.5 L624.7,1124.5 L627.7,1124.4 L630.7,1124.4 L633.7,1124.4 L636.8,1124.3 L639.8,1124.3 L642.8,1124.3 L645.8,1124.2 L648.8,1124.2 L651.8,1124.2 L654.8,1124.1 L657.8,1124.1 L660.8,1124.1 L663.8,1124.0 L666.8,1124.0 L669.8,1124.0 L672.8,1123.9 L675.8,1123.9 L678.9,1123.9 L681.9,1123.8 L684.9,1123.8 L687.9,1123.8 L690.9,1123.8 L693.9,1123.7 L696.9,1123.7 L699.9,1123.7 L702.9,1123.7 L705.9,1123.6 L708.9,1123.6 L711.9,1123.6 L714.9,1123.6 L717.9,1123.6 L720.9,1123.6 L724.0,1123.5 L727.0,1123.5 L730.0,1123.5 L733.0,1123.5 L736.0,1123.5 L739.0,1123.5 L742.0,1123.5 L745.0,1123.5 L748.0,1123.5 L751.1,1123.5 L754.1,1123.5 L757.2,1123.5 L760.2,1123.5 L763.2,1123.6 L766.3,1123.6 L769.3,1123.6 L772.4,1123.6 L775.4,1123.6 L778.4,1123.7 L781.5,1123.7 L784.5,1123.7 L787.5,1123.8 L790.6,1123.8 L793.6,1123.8 L796.7,1123.9 L799.7,1123.9 L802.7,1123.9 L805.8,1124.0 L808.8,1124.0 L811.9,1124.1 L814.9,1124.1 L817.9,1124.2 L821.0,1124.2 L824.0,1124.3 L827.1,1124.3 L830.1,1124.4 L833.1,1124.4 L836.2,1124.5 L839.2,1124.5 L842.3,1124.6 L845.3,1124.6 L848.3,1124.7 L851.4,1124.7 L854.4,1124.8 L857.5,1124.8 L860.5,1124.9 L863.5,1124.9 L866.6,1125.0 L869.6,1125.0 L872.6,1125.1 L875.7,1125.1 L878.7,1125.2 L881.8,1125.2 L884.8,1125.3 L887.8,1125.3 L890.9,1125.4 L893.9,1125.4 L897.0,1125.5 L900.0,1125.5 L903.0,1125.5 L906.1,1125.6 L909.1,1125.6 L912.1,1125.7 L915.2,1125.7 L918.2,1125.8 L921.2,1125.8 L924.2,1125.9 L927.3,1125.9 L930.3,1126.0 L933.3,1126.0 L936.4,1126.1 L939.4,1126.2 L942.4,1126.2 L945.5,1126.3 L948.5,1126.3 L951.5,1126.4 L954.5,1126.4 L957.6,1126.5 L960.6,1126.5 L963.6,1126.6 L966.7,1126.6 L969.7,1126.7 L972.7,1126.7 L975.8,1126.7 L978.8,1126.8 L981.8,1126.8 L984.8,1126.9 L987.9,1126.9 L990.9,1126.9 L993.9,1127.0 L997.0,1127.0 L1000.0,1127.0 L1003.1,1127.0 L1006.1,1127.0 L1009.2,1127.1 L1012.2,1127.1 L1015.3,1127.1 L1018.3,1127.1 L1021.4,1127.1 L1024.4,1127.1 L1027.5,1127.2 L1030.6,1127.2 L1033.6,1127.2 L1036.7,1127.2 L1039.7,1127.2 L1042.8,1127.2 L1045.8,1127.2 L1048.9,1127.3 L1051.9,1127.3 L1055.0,1127.3 L1058.1,1127.3 L1061.1,1127.3 L1064.2,1127.3 L1067.2,1127.3 L1070.3,1127.3 L1073.3,1127.3 L1076.4,1127.4 L1079.4,1127.4 L1082.5,1127.4 L1085.6,1127.4 L1088.6,1127.4 L1091.7,1127.4 L1094.7,1127.4 L1097.8,1127.4 L1100.8,1127.5 L1103.9,1127.5 L1106.9,1127.5 L1110.0,1127.5 L1113.0,1127.5 L1116.0,1127.5 L1119.0,1127.5 L1122.1,1127.6 L1125.1,1127.6 L1128.1,1127.6 L1131.1,1127.6 L1134.1,1127.6 L1137.1,1127.6 L1140.2,1127.6 L1143.2,1127.7 L1146.2,1127.7 L1149.2,1127.7 L1152.2,1127.7 L1155.2,1127.7 L1158.3,1127.7 L1161.3,1127.8 L1164.3,1127.8 L1167.3,1127.8 L1170.3,1127.8 L1173.3,1127.8 L1176.4,1127.8 L1179.4,1127.9 L1182.4,1127.9 L1185.4,1127.9 L1188.4,1127.9 L1191.4,1127.9 L1194.5,1127.9 L1197.5,1127.9 L1200.5,1128.0 L1203.5,1128.0 L1206.5,1128.0 L1209.5,1128.0 L1212.6,1128.0 L1215.6,1128.0 L1218.6,1128.1 L1221.6,1128.1 L1224.6,1128.1 L1227.6,1128.1 L1230.7,1128.1 L1233.7,1128.1 L1236.7,1128.2 L1239.7,1128.2 L1242.7,1128.2 L1245.7,1128.2 L1248.8,1128.2 L1251.8,1128.2 L1254.8,1128.3 L1257.8,1128.3 L1260.8,1128.3 L1263.8,1128.3 L1266.9,1128.3 L1269.9,1128.3 L1272.9,1128.4 L1275.9,1128.4 L1278.9,1128.4 L1281.9,1128.4 L1285.0,1128.4 L1288.0,1128.4 L1291.0,1128.5 L1294.0,1128.5 L1297.0,1128.5 L1300.0,1128.5 L1303.0,1128.5 L1306.1,1128.5 L1309.1,1128.6 L1312.1,1128.6 L1315.1,1128.6 L1318.1,1128.6 L1321.1,1128.6 L1324.2,1128.6 L1327.2,1128.7 L1330.2,1128.7 L1333.2,1128.7 L1336.2,1128.7 L1339.2,1128.7 L1342.3,1128.7 L1345.3,1128.8 L1348.3,1128.8 L1351.3,1128.8 L1354.3,1128.8 L1357.3,1128.8 L1360.4,1128.8 L1363.4,1128.9 L1366.4,1128.9 L1369.4,1128.9 L1372.4,1128.9 L1375.4,1128.9 L1378.5,1128.9 L1381.5,1129.0 L1384.5,1129.0 L1387.5,1129.0 L1390.5,1129.0 L1393.5,1129.0 L1396.6,1129.0 L1399.6,1129.1 L1402.6,1129.1 L1405.6,1129.1 L1408.6,1129.1 L1411.6,1129.1 L1414.7,1129.2 L1417.7,1129.2 L1420.7,1129.2 L1423.7,1129.2 L1426.7,1129.2 L1429.7,1129.2 L1432.8,1129.3 L1435.8,1129.3 L1438.8,1129.3 L1441.8,1129.3 L1444.8,1129.3 L1447.8,1129.3 L1450.9,1129.4 L1453.9,1129.4 L1456.9,1129.4 L1459.9,1129.4 L1462.9,1129.4 L1465.9,1129.4 L1469.0,1129.5 L1472.0,1129.5 L1475.0,1129.5 L1478.0,1129.5" fill="none" stroke="#e8e6c6" stroke-width="9" stroke-linejoin="round" stroke-linecap="butt"/>
<path d="M371.5,1867.0 L374.6,1866.0 L377.8,1865.0 L380.9,1864.0 L384.1,1862.9 L387.2,1861.9 L390.4,1860.9 L393.6,1859.9 L396.7,1858.9 L399.9,1857.9 L403.0,1856.9 L406.2,1855.9 L409.3,1854.9 L412.5,1853.9 L415.6,1853.0 L418.8,1852.0 L421.9,1851.0 L425.1,1850.0 L428.3,1849.0 L431.4,1848.0 L434.6,1846.9 L437.8,1845.9 L441.0,1844.9 L444.1,1843.9 L447.3,1843.0 L450.5,1842.2 L453.6,1841.3 L456.8,1840.6 L460.0,1839.9 L463.1,1839.4 L466.3,1838.9 L469.4,1838.5 L472.4,1838.1 L475.5,1837.8 L478.6,1837.4 L481.6,1837.1 L484.7,1836.8 L487.8,1836.5 L490.9,1836.2 L493.9,1835.9 L497.0,1835.7 L500.1,1835.4 L503.1,1835.2 L506.2,1834.9 L509.3,1834.7 L512.3,1834.5 L515.4,1834.3 L518.5,1834.1 L521.6,1833.9 L524.6,1833.7 L527.7,1833.5 L530.8,1833.3 L533.8,1833.1 L536.9,1832.9 L540.0,1832.7 L543.0,1832.5 L546.1,1832.3 L549.2,1832.1 L552.3,1831.9 L555.3,1831.7 L558.4,1831.5 L561.5,1831.3 L564.5,1831.0 L567.6,1830.8 L570.7,1830.6 L573.7,1830.3 L576.8,1830.1 L579.9,1829.8 L582.9,1829.6 L586.0,1829.3 L589.1,1829.1 L592.1,1828.9 L595.2,1828.6 L598.3,1828.4 L601.3,1828.2 L604.4,1827.9 L607.5,1827.7 L610.5,1827.4 L613.6,1827.2 L616.7,1827.0 L619.7,1826.7 L622.8,1826.5 L625.9,1826.2 L628.9,1826.0 L632.0,1825.7 L635.1,1825.5 L638.1,1825.3 L641.2,1825.0 L644.3,1824.8 L647.3,1824.5 L650.4,1824.3 L653.5,1824.0 L656.5,1823.7 L659.6,1823.5 L662.7,1823.2 L665.7,1823.0 L668.8,1822.7 L671.8,1822.4 L674.9,1822.2 L677.9,1821.9 L681.0,1821.7 L684.0,1821.4 L687.1,1821.2 L690.1,1820.9 L693.2,1820.7 L696.2,1820.4 L699.3,1820.2 L702.3,1819.9 L705.4,1819.7 L708.4,1819.4 L711.5,1819.1 L714.5,1818.9 L717.6,1818.6 L720.6,1818.3 L723.7,1818.0 L726.7,1817.7 L729.8,1817.3 L732.8,1817.0 L735.9,1816.6 L738.9,1816.3 L742.0,1815.9 L745.0,1815.5 L748.2,1815.0 L751.5,1814.4 L754.7,1813.7 L757.9,1813.0 L761.1,1812.3 L764.4,1811.5 L767.6,1810.8 L770.8,1810.1 L774.0,1809.4 L777.3,1808.9 L780.5,1808.5 L783.5,1808.2 L786.6,1807.9 L789.6,1807.6 L792.7,1807.3 L795.7,1807.0 L798.7,1806.7 L801.8,1806.4 L804.8,1806.1 L807.9,1805.9 L810.9,1805.7 L813.9,1805.4 L817.0,1805.2 L820.0,1805.0 L823.1,1804.9 L826.1,1804.7 L829.1,1804.6 L832.2,1804.5 L835.2,1804.5 L838.3,1804.4 L841.3,1804.4 L844.3,1804.4 L847.4,1804.4 L850.4,1804.4 L853.4,1804.4 L856.5,1804.4 L859.5,1804.4 L862.6,1804.5 L865.6,1804.5 L868.6,1804.5 L871.7,1804.5 L874.7,1804.5 L877.7,1804.6 L880.8,1804.6 L883.8,1804.6 L886.8,1804.6 L889.9,1804.7 L892.9,1804.7 L896.0,1804.8 L899.0,1804.8 L902.0,1804.8 L905.1,1804.9 L908.1,1804.9 L911.1,1805.0 L914.2,1805.0 L917.2,1805.1 L920.3,1805.1 L923.3,1805.2 L926.3,1805.3 L929.4,1805.3 L932.4,1805.4 L935.6,1805.5 L938.7,1805.7 L941.9,1806.0 L945.1,1806.4 L948.2,1806.8 L951.4,1807.3 L954.6,1807.8 L957.8,1808.4 L960.9,1808.9 L964.1,1809.5 L967.3,1810.1 L970.4,1810.6 L973.6,1811.1 L976.8,1811.6 L979.9,1812.1 L983.1,1812.5 L986.2,1812.9 L989.3,1813.3 L992.4,1813.7 L995.6,1814.1 L998.7,1814.5 L1001.8,1814.9 L1004.9,1815.3 L1008.0,1815.7 L1011.1,1816.0 L1014.3,1816.2 L1017.4,1816.4 L1020.5,1816.6 L1023.6,1816.6 L1026.7,1816.6 L1029.8,1816.5 L1032.9,1816.4 L1036.1,1816.3 L1039.2,1816.2 L1042.3,1816.0 L1045.4,1815.8 L1048.5,1815.6 L1051.6,1815.4 L1054.8,1815.2 L1057.9,1815.0 L1061.0,1814.8 L1064.1,1814.6 L1067.2,1814.4 L1070.2,1814.2 L1073.3,1813.9 L1076.3,1813.7 L1079.4,1813.4 L1082.5,1813.1 L1085.5,1812.8 L1088.6,1812.5 L1091.6,1812.2 L1094.7,1811.9 L1097.8,1811.6 L1100.8,1811.3 L1103.9,1811.0 L1106.9,1810.8 L1110.0,1810.5 L1113.2,1810.2 L1116.3,1809.9 L1119.5,1809.6 L1122.7,1809.3 L1125.8,1808.9 L1129.0,1808.6 L1132.1,1808.3 L1135.3,1808.0 L1138.5,1807.7 L1141.6,1807.4 L1144.8,1807.1 L1147.9,1806.9 L1151.1,1806.7 L1154.3,1806.6 L1157.4,1806.5 L1160.6,1806.5 L1163.6,1806.5 L1166.7,1806.6 L1169.7,1806.6 L1172.8,1806.7 L1175.8,1806.9 L1178.8,1807.0 L1181.9,1807.2 L1184.9,1807.4 L1188.0,1807.6 L1191.0,1807.8 L1194.0,1808.0 L1197.1,1808.3 L1200.1,1808.5 L1203.2,1808.8 L1206.2,1809.1 L1209.2,1809.3 L1212.3,1809.6 L1215.3,1809.9 L1218.4,1810.2 L1221.4,1810.5 L1224.6,1810.8 L1227.7,1811.2 L1230.9,1811.7 L1234.1,1812.1 L1237.2,1812.7 L1240.4,1813.2 L1243.5,1813.8 L1246.7,1814.4 L1249.9,1815.0 L1253.0,1815.5 L1256.2,1816.1 L1259.3,1816.7 L1262.5,1817.2 L1265.7,1817.7 L1268.8,1818.2 L1272.0,1818.6 L1275.2,1819.0 L1278.3,1819.4 L1281.5,1819.7 L1284.7,1820.1 L1287.8,1820.5 L1291.0,1820.8 L1294.2,1821.1 L1297.3,1821.5 L1300.5,1821.8 L1303.7,1822.1 L1306.9,1822.4 L1310.0,1822.7 L1313.2,1822.9 L1316.4,1823.2 L1319.5,1823.5 L1322.7,1823.7 L1325.7,1823.9 L1328.7,1824.1 L1331.7,1824.3 L1334.8,1824.5 L1337.8,1824.7 L1340.8,1824.8 L1343.8,1825.0 L1346.8,1825.2 L1349.8,1825.3 L1352.9,1825.5 L1355.9,1825.6 L1358.9,1825.8 L1361.9,1825.9 L1364.9,1826.1 L1367.9,1826.3 L1371.0,1826.4 L1374.0,1826.6 L1377.0,1826.8 L1380.0,1827.0 L1383.1,1827.2 L1386.1,1827.5 L1389.2,1827.8 L1392.3,1828.1 L1395.3,1828.5 L1398.4,1828.8 L1401.5,1829.1 L1404.5,1829.5 L1407.6,1829.8 L1410.7,1830.0 L1413.7,1830.3 L1416.8,1830.5 L1419.9,1830.7 L1422.9,1830.8 L1426.0,1830.8 L1429.1,1830.8 L1432.1,1830.8 L1435.2,1830.7 L1438.2,1830.6 L1441.3,1830.5 L1444.4,1830.4 L1447.4,1830.3 L1450.5,1830.2 L1453.5,1830.1 L1456.6,1829.9 L1459.6,1829.8 L1462.7,1829.6 L1465.8,1829.5 L1468.8,1829.4 L1471.9,1829.2 L1474.9,1829.1 L1478.0,1829.0" fill="none" stroke="#7a1f00" stroke-width="9" stroke-linejoin="round" stroke-linecap="butt"/>
<path d="M371.5,1867.0 L374.5,1867.0 L377.6,1867.0 L380.6,1867.0 L383.6,1867.0 L386.6,1867.0 L389.7,1867.0 L392.7,1867.0 L395.7,1867.0 L398.7,1867.0 L401.8,1867.0 L404.8,1867.0 L407.8,1867.0 L410.8,1867.0 L413.9,1867.0 L416.9,1867.0 L419.9,1867.0 L422.9,1867.0 L426.0,1867.0 L429.0,1867.0 L432.0,1867.0 L435.0,1867.0 L438.1,1867.0 L441.1,1867.0 L444.1,1867.0 L447.1,1867.0 L450.2,1867.0 L453.2,1867.0 L456.2,1867.0 L459.2,1867.0 L462.3,1867.0 L465.3,1867.0 L468.3,1867.0 L471.3,1867.0 L474.4,1867.0 L477.4,1867.0 L480.4,1867.0 L483.4,1867.0 L486.5,1867.0 L489.5,1867.0 L492.5,1867.0 L495.5,1867.0 L498.6,1867.0 L501.6,1867.0 L504.6,1867.0 L507.6,1867.0 L510.7,1867.0 L513.7,1867.0 L516.7,1867.0 L519.7,1867.0 L522.8,1867.0 L525.8,1867.0 L528.8,1867.0 L531.8,1867.0 L534.9,1867.0 L537.9,1867.0 L540.9,1867.0 L543.9,1867.0 L547.0,1867.0 L550.0,1867.0 L553.0,1867.0 L556.0,1867.0 L559.0,1867.0 L562.0,1867.0 L565.0,1867.0 L568.0,1867.0 L571.0,1867.0 L574.0,1867.0 L577.1,1867.0 L580.1,1867.0 L583.1,1867.0 L586.1,1867.0 L589.1,1867.0 L592.1,1867.0 L595.1,1867.0 L598.1,1867.0 L601.1,1867.0 L604.1,1867.0 L607.1,1867.0 L610.1,1867.0 L613.1,1867.0 L616.1,1867.0 L619.1,1867.0 L622.1,1867.0 L625.1,1867.0 L628.1,1867.0 L631.2,1867.0 L634.2,1867.0 L637.2,1867.0 L640.2,1867.1 L643.2,1867.1 L646.2,1867.1 L649.2,1867.1 L652.2,1867.1 L655.2,1867.1 L658.2,1867.1 L661.2,1867.1 L664.2,1867.1 L667.2,1867.1 L670.2,1867.1 L673.2,1867.1 L676.2,1867.1 L679.2,1867.1 L682.2,1867.1 L685.3,1867.1 L688.3,1867.1 L691.3,1867.1 L694.3,1867.2 L697.3,1867.2 L700.3,1867.2 L703.3,1867.2 L706.3,1867.2 L709.3,1867.2 L712.5,1867.2 L715.8,1867.3 L719.0,1867.5 L722.3,1867.7 L725.5,1867.9 L728.8,1868.1 L732.0,1868.4 L735.3,1868.6 L738.5,1868.9 L741.8,1869.1 L745.0,1869.3 L748.2,1869.5 L751.5,1869.7 L754.7,1869.9 L757.9,1870.0 L761.1,1870.2 L764.4,1870.4 L767.6,1870.6 L770.8,1870.8 L774.0,1871.0 L777.3,1871.1 L780.5,1871.3 L783.6,1871.5 L786.7,1871.7 L789.8,1871.9 L793.0,1872.1 L796.1,1872.3 L799.2,1872.5 L802.3,1872.7 L805.4,1872.8 L808.5,1873.0 L811.7,1873.1 L814.8,1873.2 L817.9,1873.3 L821.0,1873.3 L824.1,1873.1 L827.2,1872.7 L830.3,1871.9 L833.5,1871.0 L836.6,1870.0 L839.7,1868.8 L842.8,1867.7 L845.9,1866.5 L849.0,1865.5 L852.2,1864.6 L855.3,1863.8 L858.4,1863.4 L861.5,1863.2 L864.5,1863.2 L867.6,1863.2 L870.6,1863.3 L873.7,1863.3 L876.7,1863.3 L879.7,1863.4 L882.8,1863.5 L885.8,1863.5 L888.9,1863.6 L891.9,1863.7 L894.9,1863.8 L898.0,1864.0 L901.0,1864.1 L904.1,1864.2 L907.1,1864.4 L910.1,1864.5 L913.2,1864.7 L916.2,1864.8 L919.3,1865.0 L922.3,1865.2 L925.4,1865.5 L928.5,1865.9 L931.6,1866.5 L934.8,1867.2 L937.9,1867.9 L941.0,1868.8 L944.1,1869.7 L947.2,1870.7 L950.3,1871.6 L953.5,1872.6 L956.6,1873.6 L959.7,1874.5 L962.8,1875.3 L965.8,1876.1 L968.9,1876.9 L971.9,1877.8 L975.0,1878.7 L978.0,1879.6 L981.0,1880.6 L984.1,1881.5 L987.1,1882.4 L990.2,1883.4 L993.2,1884.3 L996.2,1885.2 L999.3,1886.1 L1002.3,1886.9 L1005.4,1887.7 L1008.4,1888.5 L1011.4,1889.2 L1014.5,1889.9 L1017.5,1890.5 L1020.6,1891.0 L1023.6,1891.5 L1027.0,1892.0 L1030.3,1892.4 L1033.7,1892.8 L1037.1,1893.1 L1040.4,1893.4 L1043.8,1893.6 L1046.8,1893.7 L1049.9,1893.8 L1052.9,1893.9 L1056.0,1894.0 L1059.0,1894.1 L1062.0,1894.1 L1065.1,1894.2 L1068.1,1894.3 L1071.2,1894.3 L1074.2,1894.4 L1077.2,1894.4 L1080.3,1894.4 L1083.3,1894.5 L1086.4,1894.5 L1089.4,1894.6 L1092.4,1894.7 L1095.5,1894.7 L1098.5,1894.8 L1101.6,1894.9 L1104.6,1895.0 L1107.7,1895.1 L1110.8,1895.3 L1113.8,1895.5 L1116.9,1895.7 L1120.0,1895.9 L1123.1,1896.2 L1126.1,1896.4 L1129.2,1896.7 L1132.3,1897.0 L1135.4,1897.2 L1138.5,1897.5 L1141.5,1897.8 L1144.6,1898.0 L1147.7,1898.3 L1150.8,1898.5 L1153.8,1898.7 L1156.9,1898.9 L1160.0,1899.0 L1163.1,1899.1 L1166.1,1899.3 L1169.2,1899.4 L1172.2,1899.5 L1175.3,1899.6 L1178.3,1899.8 L1181.4,1899.9 L1184.4,1900.0 L1187.5,1900.1 L1190.6,1900.2 L1193.6,1900.3 L1196.7,1900.5 L1199.7,1900.6 L1202.8,1900.7 L1205.8,1900.8 L1208.9,1900.9 L1211.9,1901.0 L1215.0,1901.1 L1218.1,1901.2 L1221.1,1901.3 L1224.2,1901.3 L1227.2,1901.4 L1230.3,1901.5 L1233.3,1901.6 L1236.4,1901.6 L1239.4,1901.7 L1242.5,1901.7 L1245.6,1901.8 L1248.6,1901.8 L1251.7,1901.9 L1254.7,1901.9 L1257.8,1901.9 L1260.8,1902.0 L1263.9,1902.0 L1266.9,1902.0 L1270.0,1902.0 L1273.0,1901.9 L1276.0,1901.6 L1279.0,1901.2 L1282.0,1900.7 L1285.0,1900.0 L1288.0,1899.3 L1291.0,1898.5 L1294.0,1897.7 L1297.0,1896.8 L1300.0,1896.0 L1303.1,1895.0 L1306.2,1893.8 L1309.4,1892.6 L1312.5,1891.5 L1315.6,1890.5 L1318.7,1889.6 L1321.8,1888.6 L1325.0,1887.7 L1328.1,1886.8 L1331.2,1885.9 L1334.3,1885.0 L1337.4,1884.2 L1340.5,1883.5 L1343.7,1882.9 L1346.8,1882.3 L1349.9,1881.8 L1353.0,1881.4 L1356.0,1881.1 L1359.1,1880.8 L1362.1,1880.5 L1365.2,1880.3 L1368.2,1880.1 L1371.2,1879.9 L1374.3,1879.7 L1377.3,1879.5 L1380.4,1879.3 L1383.4,1879.1 L1386.4,1879.0 L1389.5,1878.8 L1392.5,1878.7 L1395.6,1878.5 L1398.6,1878.3 L1401.6,1878.2 L1404.7,1878.0 L1407.7,1877.8 L1410.8,1877.6 L1413.8,1877.4 L1416.9,1877.2 L1419.9,1876.9 L1423.0,1876.7 L1426.0,1876.5 L1429.1,1876.2 L1432.1,1876.0 L1435.2,1875.7 L1438.3,1875.4 L1441.3,1875.2 L1444.4,1874.9 L1447.4,1874.7 L1450.5,1874.4 L1453.5,1874.1 L1456.6,1873.8 L1459.7,1873.6 L1462.7,1873.3 L1465.8,1873.0 L1468.8,1872.8 L1471.9,1872.5 L1474.9,1872.3 L1478.0,1872.0" fill="none" stroke="#c03000" stroke-width="9" stroke-linejoin="round" stroke-linecap="butt"/>
<path d="M371.5,1867.0 L374.6,1866.8 L377.7,1866.7 L380.7,1866.5 L383.8,1866.3 L386.9,1866.1 L390.0,1865.9 L393.0,1865.7 L396.1,1865.5 L399.2,1865.3 L402.3,1865.1 L405.4,1864.9 L408.4,1864.7 L411.5,1864.5 L414.6,1864.3 L417.7,1864.1 L420.8,1863.9 L423.8,1863.7 L426.9,1863.5 L430.0,1863.3 L433.1,1863.1 L436.1,1863.0 L439.2,1862.8 L442.3,1862.7 L445.4,1862.5 L448.5,1862.4 L451.5,1862.3 L454.6,1862.2 L457.7,1862.1 L460.8,1862.1 L463.8,1862.0 L466.9,1862.0 L470.0,1862.0 L473.1,1862.0 L476.1,1862.1 L479.2,1862.2 L482.2,1862.4 L485.3,1862.6 L488.3,1862.8 L491.4,1863.0 L494.4,1863.3 L497.5,1863.6 L500.5,1863.9 L503.6,1864.2 L506.7,1864.6 L509.7,1864.9 L512.8,1865.2 L515.8,1865.5 L518.9,1865.8 L521.9,1866.1 L525.0,1866.4 L528.0,1866.6 L531.1,1866.9 L534.1,1867.0 L537.2,1867.2 L540.3,1867.3 L543.4,1867.5 L546.4,1867.6 L549.5,1867.7 L552.6,1867.9 L555.7,1868.0 L558.7,1868.1 L561.8,1868.2 L564.9,1868.4 L568.0,1868.5 L571.1,1868.6 L574.1,1868.7 L577.2,1868.8 L580.3,1868.9 L583.4,1869.0 L586.5,1869.0 L589.5,1869.1 L592.6,1869.2 L595.7,1869.2 L598.8,1869.2 L601.8,1869.3 L604.9,1869.3 L608.0,1869.3 L611.0,1869.3 L614.1,1869.3 L617.1,1869.3 L620.2,1869.3 L623.2,1869.3 L626.2,1869.3 L629.3,1869.3 L632.3,1869.3 L635.4,1869.3 L638.4,1869.3 L641.4,1869.3 L644.5,1869.3 L647.5,1869.3 L650.6,1869.3 L653.6,1869.3 L656.6,1869.3 L659.7,1869.3 L662.7,1869.3 L665.8,1869.3 L668.8,1869.3 L671.8,1869.3 L674.9,1869.2 L677.9,1869.2 L681.0,1869.1 L684.0,1869.0 L687.1,1868.8 L690.1,1868.6 L693.2,1868.4 L696.2,1868.2 L699.3,1868.0 L702.3,1867.8 L705.4,1867.5 L708.4,1867.2 L711.5,1866.9 L714.5,1866.6 L717.6,1866.3 L720.6,1865.9 L723.7,1865.6 L726.7,1865.2 L729.8,1864.9 L732.8,1864.5 L735.9,1864.1 L738.9,1863.8 L742.0,1863.4 L745.0,1863.0 L748.1,1862.5 L751.1,1862.0 L754.2,1861.3 L757.2,1860.5 L760.3,1859.7 L763.3,1858.8 L766.4,1857.8 L769.4,1856.9 L772.5,1855.9 L775.6,1855.0 L778.6,1854.0 L781.7,1853.2 L784.7,1852.4 L787.8,1851.7 L790.8,1851.1 L793.9,1850.6 L796.9,1850.2 L800.0,1850.0 L803.0,1849.9 L806.0,1849.8 L809.0,1849.7 L812.0,1849.6 L815.0,1849.5 L818.0,1849.4 L821.0,1849.3 L824.0,1849.2 L827.0,1849.1 L830.0,1849.0 L833.0,1848.9 L836.0,1848.8 L839.0,1848.8 L842.0,1848.7 L845.0,1848.6 L848.0,1848.6 L851.0,1848.5 L854.0,1848.4 L857.0,1848.4 L860.0,1848.3 L863.0,1848.3 L866.0,1848.2 L869.0,1848.2 L872.0,1848.2 L875.0,1848.1 L878.0,1848.1 L881.0,1848.1 L884.0,1848.1 L887.0,1848.0 L890.0,1848.0 L893.0,1848.0 L896.0,1848.0 L899.0,1848.0 L902.0,1848.0 L905.1,1848.0 L908.1,1848.0 L911.2,1848.0 L914.2,1848.0 L917.3,1848.1 L920.4,1848.1 L923.4,1848.1 L926.5,1848.2 L929.6,1848.2 L932.6,1848.3 L935.7,1848.3 L938.8,1848.4 L941.8,1848.4 L944.9,1848.5 L947.9,1848.6 L951.0,1848.6 L954.1,1848.7 L957.1,1848.8 L960.2,1848.8 L963.2,1848.9 L966.3,1849.0 L969.4,1849.1 L972.4,1849.2 L975.5,1849.3 L978.6,1849.4 L981.6,1849.4 L984.7,1849.5 L987.8,1849.6 L990.8,1849.7 L993.9,1849.8 L996.9,1849.9 L1000.0,1850.0 L1003.1,1850.1 L1006.1,1850.2 L1009.2,1850.4 L1012.2,1850.5 L1015.3,1850.7 L1018.3,1850.9 L1021.4,1851.1 L1024.4,1851.3 L1027.5,1851.6 L1030.6,1851.8 L1033.6,1852.1 L1036.7,1852.3 L1039.7,1852.6 L1042.8,1852.8 L1045.8,1853.1 L1048.9,1853.4 L1051.9,1853.7 L1055.0,1853.9 L1058.1,1854.2 L1061.1,1854.5 L1064.2,1854.7 L1067.2,1855.0 L1070.3,1855.2 L1073.3,1855.4 L1076.4,1855.7 L1079.4,1855.9 L1082.5,1856.1 L1085.6,1856.2 L1088.6,1856.4 L1091.7,1856.6 L1094.7,1856.7 L1097.8,1856.8 L1100.8,1856.9 L1103.9,1856.9 L1106.9,1857.0 L1110.0,1857.0 L1113.0,1857.0 L1116.0,1856.9 L1119.0,1856.8 L1122.0,1856.6 L1125.0,1856.4 L1128.0,1856.2 L1131.0,1855.9 L1134.0,1855.6 L1137.0,1855.3 L1140.0,1855.0 L1143.2,1854.5 L1146.4,1853.7 L1149.5,1852.7 L1152.7,1851.6 L1155.9,1850.3 L1159.1,1849.1 L1162.3,1847.9 L1165.5,1846.8 L1168.6,1845.9 L1171.8,1845.3 L1175.0,1845.0 L1178.0,1844.9 L1181.1,1844.8 L1184.1,1844.7 L1187.2,1844.6 L1190.2,1844.5 L1193.3,1844.4 L1196.3,1844.3 L1199.4,1844.2 L1202.4,1844.1 L1205.5,1844.1 L1208.5,1844.0 L1211.6,1843.9 L1214.6,1843.9 L1217.7,1843.8 L1220.7,1843.7 L1223.8,1843.7 L1226.8,1843.6 L1229.9,1843.6 L1232.9,1843.5 L1236.0,1843.5 L1239.0,1843.4 L1242.1,1843.4 L1245.1,1843.3 L1248.2,1843.3 L1251.2,1843.3 L1254.3,1843.2 L1257.3,1843.2 L1260.4,1843.2 L1263.4,1843.1 L1266.5,1843.1 L1269.5,1843.1 L1272.6,1843.1 L1275.6,1843.1 L1278.7,1843.0 L1281.7,1843.0 L1284.8,1843.0 L1287.8,1843.0 L1290.9,1843.0 L1293.9,1843.0 L1297.0,1843.0 L1300.0,1843.0 L1303.0,1843.0 L1306.0,1843.1 L1309.1,1843.1 L1312.1,1843.2 L1315.1,1843.3 L1318.1,1843.5 L1321.1,1843.6 L1324.2,1843.8 L1327.2,1844.0 L1330.2,1844.2 L1333.2,1844.4 L1336.2,1844.7 L1339.3,1844.9 L1342.3,1845.1 L1345.3,1845.4 L1348.3,1845.6 L1351.3,1845.9 L1354.3,1846.1 L1357.4,1846.3 L1360.4,1846.6 L1363.4,1846.8 L1366.4,1847.0 L1369.4,1847.2 L1372.5,1847.4 L1375.5,1847.5 L1378.5,1847.7 L1381.5,1847.8 L1384.5,1847.9 L1387.6,1847.9 L1390.6,1848.0 L1393.6,1848.0 L1396.6,1848.0 L1399.6,1848.0 L1402.6,1848.0 L1405.7,1847.9 L1408.7,1847.9 L1411.7,1847.8 L1414.7,1847.8 L1417.7,1847.7 L1420.7,1847.7 L1423.7,1847.6 L1426.8,1847.5 L1429.8,1847.4 L1432.8,1847.3 L1435.8,1847.2 L1438.8,1847.2 L1441.8,1847.1 L1444.8,1847.0 L1447.9,1846.9 L1450.9,1846.8 L1453.9,1846.7 L1456.9,1846.6 L1459.9,1846.5 L1462.9,1846.4 L1465.9,1846.3 L1469.0,1846.2 L1472.0,1846.2 L1475.0,1846.1 L1478.0,1846.0" fill="none" stroke="#ff6000" stroke-width="9" stroke-linejoin="round" stroke-linecap="butt"/>
<path d="M371.5,1867.0 L374.6,1866.7 L377.7,1866.5 L380.8,1866.2 L383.9,1865.9 L386.9,1865.6 L390.0,1865.3 L393.1,1865.0 L396.2,1864.7 L399.3,1864.3 L402.4,1864.0 L405.5,1863.7 L408.6,1863.3 L411.6,1863.0 L414.7,1862.7 L417.8,1862.4 L420.9,1862.1 L424.0,1861.8 L427.1,1861.5 L430.2,1861.2 L433.2,1860.9 L436.3,1860.6 L439.4,1860.4 L442.5,1860.2 L445.6,1860.0 L448.7,1859.8 L451.8,1859.6 L454.9,1859.5 L458.0,1859.3 L461.0,1859.2 L464.1,1859.2 L467.2,1859.1 L470.3,1859.1 L473.3,1859.1 L476.4,1859.1 L479.4,1859.2 L482.5,1859.2 L485.5,1859.3 L488.5,1859.4 L491.6,1859.5 L494.6,1859.6 L497.7,1859.7 L500.7,1859.9 L503.7,1860.0 L506.8,1860.2 L509.8,1860.3 L512.9,1860.5 L515.9,1860.7 L519.0,1860.8 L522.0,1861.0 L525.0,1861.2 L528.1,1861.3 L531.1,1861.5 L534.2,1861.7 L537.2,1861.9 L540.2,1862.0 L543.3,1862.2 L546.3,1862.3 L549.4,1862.5 L552.4,1862.6 L555.4,1862.8 L558.5,1862.9 L561.5,1863.0 L564.6,1863.1 L567.6,1863.2 L570.7,1863.3 L573.7,1863.4 L576.8,1863.5 L579.9,1863.5 L582.9,1863.6 L586.0,1863.7 L589.1,1863.8 L592.1,1863.9 L595.2,1864.0 L598.3,1864.0 L601.3,1864.1 L604.4,1864.2 L607.5,1864.3 L610.5,1864.4 L613.6,1864.4 L616.7,1864.5 L619.7,1864.6 L622.8,1864.6 L625.9,1864.7 L628.9,1864.8 L632.0,1864.8 L635.1,1864.9 L638.1,1864.9 L641.2,1865.0 L644.3,1865.0 L647.3,1865.1 L650.4,1865.1 L653.5,1865.1 L656.5,1865.2 L659.6,1865.2 L662.7,1865.2 L665.7,1865.2 L668.8,1865.2 L671.8,1865.2 L674.9,1865.2 L677.9,1865.1 L681.0,1865.1 L684.0,1865.0 L687.1,1865.0 L690.1,1864.9 L693.2,1864.8 L696.2,1864.8 L699.3,1864.7 L702.3,1864.6 L705.4,1864.5 L708.4,1864.4 L711.5,1864.3 L714.5,1864.2 L717.6,1864.1 L720.6,1863.9 L723.7,1863.8 L726.7,1863.7 L729.8,1863.6 L732.8,1863.5 L735.9,1863.4 L738.9,1863.4 L742.0,1863.3 L745.0,1863.2 L748.0,1863.1 L751.1,1863.1 L754.1,1863.0 L757.2,1862.9 L760.2,1862.8 L763.2,1862.7 L766.3,1862.7 L769.3,1862.6 L772.4,1862.5 L775.4,1862.4 L778.4,1862.3 L781.5,1862.3 L784.5,1862.2 L787.6,1862.1 L790.6,1862.0 L793.6,1861.9 L796.7,1861.8 L799.7,1861.8 L802.8,1861.7 L805.8,1861.6 L808.8,1861.5 L811.9,1861.4 L814.9,1861.3 L818.0,1861.3 L821.0,1861.2 L824.0,1861.1 L827.1,1861.0 L830.1,1860.9 L833.2,1860.8 L836.2,1860.8 L839.2,1860.7 L842.3,1860.6 L845.3,1860.5 L848.4,1860.5 L851.4,1860.4 L854.4,1860.3 L857.5,1860.2 L860.5,1860.2 L863.6,1860.1 L866.6,1860.0 L869.6,1860.0 L872.7,1859.9 L875.7,1859.8 L878.8,1859.8 L881.8,1859.7 L884.8,1859.7 L887.9,1859.6 L890.9,1859.6 L894.0,1859.5 L897.0,1859.5 L900.0,1859.4 L903.1,1859.4 L906.1,1859.3 L909.2,1859.3 L912.2,1859.3 L915.2,1859.2 L918.3,1859.2 L921.3,1859.2 L924.4,1859.2 L927.4,1859.1 L930.4,1859.1 L933.5,1859.1 L936.5,1859.1 L939.6,1859.1 L942.6,1859.1 L945.6,1859.1 L948.7,1859.1 L951.7,1859.2 L954.8,1859.2 L957.8,1859.2 L960.9,1859.3 L963.9,1859.4 L966.9,1859.5 L970.0,1859.5 L973.0,1859.6 L976.1,1859.7 L979.1,1859.9 L982.2,1860.0 L985.2,1860.1 L988.3,1860.3 L991.3,1860.4 L994.3,1860.5 L997.4,1860.7 L1000.4,1860.9 L1003.5,1861.0 L1006.5,1861.2 L1009.6,1861.4 L1012.6,1861.6 L1015.6,1861.7 L1018.7,1861.9 L1021.7,1862.1 L1024.8,1862.3 L1027.8,1862.5 L1030.9,1862.7 L1033.9,1862.9 L1037.0,1863.1 L1040.0,1863.3 L1043.0,1863.5 L1046.1,1863.7 L1049.1,1863.9 L1052.2,1864.1 L1055.2,1864.3 L1058.3,1864.5 L1061.3,1864.7 L1064.3,1864.9 L1067.4,1865.0 L1070.4,1865.2 L1073.5,1865.4 L1076.5,1865.6 L1079.6,1865.8 L1082.6,1865.9 L1085.7,1866.1 L1088.7,1866.3 L1091.7,1866.4 L1094.8,1866.6 L1097.8,1866.7 L1100.9,1866.8 L1103.9,1867.0 L1107.0,1867.1 L1110.0,1867.2 L1113.0,1867.3 L1116.0,1867.4 L1119.1,1867.5 L1122.1,1867.6 L1125.1,1867.7 L1128.1,1867.8 L1131.1,1867.9 L1134.1,1868.0 L1137.2,1868.1 L1140.2,1868.2 L1143.2,1868.3 L1146.2,1868.4 L1149.2,1868.5 L1152.2,1868.6 L1155.3,1868.7 L1158.3,1868.8 L1161.3,1868.9 L1164.3,1868.9 L1167.3,1869.0 L1170.3,1869.1 L1173.4,1869.2 L1176.4,1869.3 L1179.4,1869.4 L1182.4,1869.5 L1185.4,1869.5 L1188.4,1869.6 L1191.5,1869.7 L1194.5,1869.8 L1197.5,1869.9 L1200.5,1869.9 L1203.5,1870.0 L1206.5,1870.1 L1209.6,1870.2 L1212.6,1870.3 L1215.6,1870.3 L1218.6,1870.4 L1221.6,1870.5 L1224.6,1870.6 L1227.7,1870.7 L1230.7,1870.7 L1233.7,1870.8 L1236.7,1870.9 L1239.7,1871.0 L1242.7,1871.1 L1245.8,1871.1 L1248.8,1871.2 L1251.8,1871.3 L1254.8,1871.4 L1257.8,1871.5 L1260.8,1871.5 L1263.8,1871.6 L1266.8,1871.7 L1269.8,1871.8 L1272.8,1871.9 L1275.8,1872.0 L1278.8,1872.1 L1281.8,1872.2 L1284.8,1872.3 L1287.8,1872.4 L1290.8,1872.5 L1293.8,1872.6 L1296.8,1872.7 L1299.8,1872.8 L1302.8,1872.9 L1305.8,1873.0 L1308.8,1873.1 L1311.8,1873.2 L1314.8,1873.3 L1317.8,1873.4 L1320.8,1873.5 L1323.8,1873.6 L1326.8,1873.7 L1329.8,1873.7 L1332.8,1873.8 L1335.8,1873.9 L1338.8,1874.0 L1341.8,1874.1 L1344.8,1874.2 L1347.8,1874.3 L1350.8,1874.4 L1353.8,1874.4 L1356.8,1874.5 L1359.8,1874.6 L1362.8,1874.7 L1365.8,1874.7 L1368.8,1874.8 L1371.8,1874.8 L1374.8,1874.9 L1377.8,1875.0 L1380.8,1875.0 L1383.8,1875.1 L1386.8,1875.1 L1389.8,1875.1 L1392.8,1875.2 L1395.8,1875.2 L1398.8,1875.2 L1401.8,1875.3 L1404.8,1875.3 L1407.8,1875.3 L1410.8,1875.3 L1413.8,1875.3 L1416.9,1875.3 L1419.9,1875.2 L1423.0,1875.1 L1426.0,1875.0 L1429.1,1874.9 L1432.1,1874.7 L1435.2,1874.6 L1438.3,1874.4 L1441.3,1874.1 L1444.4,1873.9 L1447.4,1873.7 L1450.5,1873.4 L1453.5,1873.2 L1456.6,1872.9 L1459.7,1872.7 L1462.7,1872.4 L1465.8,1872.2 L1468.8,1871.9 L1471.9,1871.7 L1474.9,1871.5 L1478.0,1871.3" fill="none" stroke="#ff9000" stroke-width="9" stroke-linejoin="round" stroke-linecap="butt"/>
<path d="M371.5,1867.0 L374.6,1866.6 L377.7,1866.2 L380.7,1865.9 L383.8,1865.5 L386.9,1865.1 L390.0,1864.7 L393.0,1864.3 L396.1,1863.9 L399.2,1863.5 L402.3,1863.1 L405.4,1862.7 L408.4,1862.3 L411.5,1861.9 L414.6,1861.5 L417.7,1861.1 L420.8,1860.7 L423.8,1860.3 L426.9,1859.9 L430.0,1859.5 L433.1,1859.2 L436.1,1858.8 L439.2,1858.4 L442.3,1858.0 L445.4,1857.7 L448.5,1857.3 L451.5,1857.0 L454.6,1856.6 L457.7,1856.3 L460.8,1855.9 L463.8,1855.6 L466.9,1855.3 L470.0,1855.0 L473.1,1854.7 L476.1,1854.4 L479.1,1854.1 L482.2,1853.8 L485.2,1853.5 L488.3,1853.2 L491.4,1852.9 L494.4,1852.6 L497.4,1852.3 L500.5,1852.1 L503.6,1851.8 L506.6,1851.5 L509.6,1851.2 L512.7,1850.9 L515.8,1850.7 L518.8,1850.4 L521.9,1850.2 L524.9,1849.9 L528.0,1849.6 L531.0,1849.4 L534.0,1849.2 L537.1,1848.9 L540.1,1848.7 L543.2,1848.5 L546.2,1848.3 L549.3,1848.1 L552.4,1847.9 L555.4,1847.7 L558.5,1847.5 L561.5,1847.3 L564.6,1847.2 L567.6,1847.0 L570.6,1846.8 L573.6,1846.7 L576.6,1846.5 L579.6,1846.4 L582.6,1846.2 L585.6,1846.1 L588.6,1846.0 L591.7,1845.8 L594.7,1845.7 L597.7,1845.5 L600.7,1845.4 L603.7,1845.2 L606.7,1845.1 L609.7,1844.9 L612.7,1844.8 L615.7,1844.6 L618.7,1844.5 L621.7,1844.4 L624.7,1844.2 L627.7,1844.1 L630.7,1844.0 L633.7,1843.8 L636.8,1843.7 L639.8,1843.6 L642.8,1843.4 L645.8,1843.3 L648.8,1843.2 L651.8,1843.1 L654.8,1843.0 L657.8,1842.8 L660.8,1842.7 L663.8,1842.6 L666.8,1842.5 L669.8,1842.4 L672.8,1842.3 L675.8,1842.2 L678.9,1842.1 L681.9,1842.0 L684.9,1841.9 L687.9,1841.8 L690.9,1841.8 L693.9,1841.7 L696.9,1841.6 L699.9,1841.5 L702.9,1841.5 L705.9,1841.4 L708.9,1841.4 L711.9,1841.3 L714.9,1841.2 L717.9,1841.2 L720.9,1841.2 L724.0,1841.1 L727.0,1841.1 L730.0,1841.1 L733.0,1841.0 L736.0,1841.0 L739.0,1841.0 L742.0,1841.0 L745.0,1841.0 L748.0,1841.0 L751.0,1841.0 L754.0,1841.1 L757.0,1841.1 L760.0,1841.2 L763.0,1841.3 L766.0,1841.4 L769.0,1841.5 L772.0,1841.6 L775.1,1841.8 L778.1,1841.9 L781.1,1842.1 L784.1,1842.2 L787.1,1842.4 L790.1,1842.6 L793.1,1842.8 L796.1,1843.0 L799.1,1843.2 L802.1,1843.4 L805.1,1843.7 L808.1,1843.9 L811.1,1844.1 L814.1,1844.4 L817.1,1844.6 L820.1,1844.9 L823.1,1845.1 L826.1,1845.4 L829.1,1845.6 L832.1,1845.9 L835.2,1846.1 L838.2,1846.4 L841.2,1846.6 L844.2,1846.9 L847.2,1847.1 L850.2,1847.4 L853.2,1847.6 L856.2,1847.9 L859.2,1848.1 L862.2,1848.3 L865.2,1848.6 L868.2,1848.8 L871.2,1849.0 L874.2,1849.2 L877.2,1849.4 L880.2,1849.6 L883.2,1849.8 L886.2,1849.9 L889.2,1850.1 L892.2,1850.2 L895.3,1850.4 L898.3,1850.5 L901.3,1850.6 L904.3,1850.7 L907.3,1850.8 L910.3,1850.9 L913.3,1850.9 L916.3,1851.0 L919.3,1851.0 L922.3,1851.0 L925.3,1851.0 L928.4,1851.0 L931.4,1851.0 L934.5,1851.0 L937.5,1851.0 L940.5,1850.9 L943.6,1850.9 L946.6,1850.9 L949.7,1850.9 L952.7,1850.9 L955.8,1850.8 L958.8,1850.8 L961.8,1850.8 L964.9,1850.7 L967.9,1850.7 L971.0,1850.6 L974.0,1850.6 L977.0,1850.5 L980.1,1850.5 L983.1,1850.4 L986.2,1850.4 L989.2,1850.3 L992.3,1850.3 L995.3,1850.2 L998.3,1850.2 L1001.4,1850.1 L1004.4,1850.0 L1007.5,1850.0 L1010.5,1849.9 L1013.5,1849.8 L1016.6,1849.8 L1019.6,1849.7 L1022.7,1849.6 L1025.7,1849.5 L1028.8,1849.5 L1031.8,1849.4 L1034.8,1849.3 L1037.9,1849.2 L1040.9,1849.2 L1044.0,1849.1 L1047.0,1849.0 L1050.0,1848.9 L1053.1,1848.8 L1056.1,1848.8 L1059.2,1848.7 L1062.2,1848.6 L1065.3,1848.5 L1068.3,1848.4 L1071.3,1848.3 L1074.4,1848.3 L1077.4,1848.2 L1080.5,1848.1 L1083.5,1848.0 L1086.5,1847.9 L1089.6,1847.8 L1092.6,1847.7 L1095.7,1847.7 L1098.7,1847.6 L1101.8,1847.5 L1104.8,1847.4 L1107.8,1847.3 L1110.9,1847.2 L1113.9,1847.2 L1117.0,1847.1 L1120.0,1847.0 L1123.0,1846.9 L1126.0,1846.8 L1129.0,1846.7 L1132.1,1846.7 L1135.1,1846.6 L1138.1,1846.5 L1141.1,1846.4 L1144.1,1846.3 L1147.1,1846.1 L1150.1,1846.0 L1153.1,1845.9 L1156.2,1845.8 L1159.2,1845.7 L1162.2,1845.6 L1165.2,1845.5 L1168.2,1845.3 L1171.2,1845.2 L1174.2,1845.1 L1177.3,1845.0 L1180.3,1844.9 L1183.3,1844.8 L1186.3,1844.6 L1189.3,1844.5 L1192.3,1844.4 L1195.3,1844.3 L1198.4,1844.2 L1201.4,1844.0 L1204.4,1843.9 L1207.4,1843.8 L1210.4,1843.7 L1213.4,1843.6 L1216.4,1843.5 L1219.4,1843.4 L1222.5,1843.3 L1225.5,1843.2 L1228.5,1843.1 L1231.5,1843.0 L1234.5,1842.9 L1237.5,1842.8 L1240.5,1842.7 L1243.5,1842.6 L1246.5,1842.6 L1249.5,1842.5 L1252.5,1842.4 L1255.5,1842.3 L1258.6,1842.2 L1261.6,1842.1 L1264.6,1842.0 L1267.6,1842.0 L1270.6,1841.9 L1273.6,1841.8 L1276.6,1841.7 L1279.6,1841.6 L1282.6,1841.6 L1285.6,1841.5 L1288.6,1841.4 L1291.6,1841.3 L1294.6,1841.2 L1297.6,1841.2 L1300.6,1841.1 L1303.6,1841.0 L1306.7,1840.9 L1309.7,1840.8 L1312.7,1840.8 L1315.7,1840.7 L1318.7,1840.6 L1321.7,1840.5 L1324.7,1840.5 L1327.7,1840.4 L1330.7,1840.3 L1333.7,1840.3 L1336.7,1840.2 L1339.7,1840.1 L1342.7,1840.0 L1345.7,1840.0 L1348.7,1839.9 L1351.7,1839.8 L1354.8,1839.7 L1357.8,1839.7 L1360.8,1839.6 L1363.8,1839.5 L1366.8,1839.5 L1369.8,1839.4 L1372.8,1839.3 L1375.8,1839.2 L1378.8,1839.2 L1381.8,1839.1 L1384.8,1839.0 L1387.8,1839.0 L1390.8,1838.9 L1393.8,1838.8 L1396.8,1838.8 L1399.8,1838.7 L1402.8,1838.6 L1405.9,1838.5 L1408.9,1838.5 L1411.9,1838.4 L1414.9,1838.3 L1417.9,1838.3 L1420.9,1838.2 L1423.9,1838.1 L1426.9,1838.0 L1429.9,1838.0 L1432.9,1837.9 L1435.9,1837.8 L1438.9,1837.8 L1441.9,1837.7 L1444.9,1837.6 L1447.9,1837.5 L1450.9,1837.5 L1454.0,1837.4 L1457.0,1837.3 L1460.0,1837.2 L1463.0,1837.2 L1466.0,1837.1 L1469.0,1837.0 L1472.0,1837.0 L1475.0,1836.9 L1478.0,1836.8" fill="none" stroke="#ffc84a" stroke-width="9" stroke-linejoin="round" stroke-linecap="butt"/>
<path d="M371.5,1867.0 L374.6,1866.7 L377.7,1866.4 L380.7,1866.1 L383.8,1865.8 L386.9,1865.5 L390.0,1865.2 L393.0,1864.8 L396.1,1864.5 L399.2,1864.2 L402.3,1863.8 L405.4,1863.5 L408.4,1863.2 L411.5,1862.8 L414.6,1862.5 L417.7,1862.2 L420.8,1861.8 L423.8,1861.5 L426.9,1861.2 L430.0,1860.9 L433.1,1860.6 L436.1,1860.3 L439.2,1860.0 L442.3,1859.8 L445.4,1859.5 L448.5,1859.3 L451.5,1859.0 L454.6,1858.8 L457.7,1858.6 L460.8,1858.4 L463.8,1858.3 L466.9,1858.1 L470.0,1858.0 L473.0,1857.9 L476.0,1857.8 L479.1,1857.7 L482.1,1857.6 L485.1,1857.4 L488.1,1857.3 L491.2,1857.2 L494.2,1857.1 L497.2,1857.0 L500.2,1856.9 L503.3,1856.8 L506.3,1856.7 L509.3,1856.6 L512.3,1856.5 L515.3,1856.4 L518.4,1856.3 L521.4,1856.3 L524.4,1856.2 L527.4,1856.1 L530.5,1856.0 L533.5,1855.9 L536.5,1855.8 L539.5,1855.8 L542.6,1855.7 L545.6,1855.6 L548.6,1855.6 L551.6,1855.5 L554.7,1855.5 L557.7,1855.4 L560.7,1855.3 L563.7,1855.3 L566.7,1855.2 L569.8,1855.2 L572.8,1855.2 L575.8,1855.1 L578.8,1855.1 L581.9,1855.1 L584.9,1855.1 L587.9,1855.0 L590.9,1855.0 L594.0,1855.0 L597.0,1855.0 L600.0,1855.0 L603.0,1855.0 L606.0,1855.0 L609.1,1855.0 L612.1,1855.0 L615.1,1855.0 L618.1,1855.0 L621.1,1855.0 L624.2,1855.0 L627.2,1855.0 L630.2,1855.0 L633.2,1855.0 L636.2,1855.0 L639.3,1855.0 L642.3,1855.0 L645.3,1855.0 L648.3,1855.0 L651.4,1855.0 L654.4,1855.0 L657.4,1855.0 L660.4,1855.0 L663.4,1855.0 L666.5,1855.0 L669.5,1855.0 L672.5,1855.0 L675.5,1855.0 L678.5,1855.0 L681.6,1855.0 L684.6,1855.0 L687.6,1855.0 L690.6,1855.0 L693.6,1855.0 L696.7,1855.0 L699.7,1855.0 L702.7,1855.0 L705.7,1855.0 L708.8,1855.0 L711.8,1855.0 L714.8,1855.0 L717.8,1855.0 L720.8,1855.0 L723.9,1855.0 L726.9,1855.0 L729.9,1855.0 L732.9,1855.0 L735.9,1855.0 L739.0,1855.0 L742.0,1855.0 L745.0,1855.0 L748.0,1855.0 L751.1,1855.0 L754.1,1855.0 L757.1,1855.1 L760.1,1855.1 L763.2,1855.1 L766.2,1855.2 L769.2,1855.2 L772.2,1855.3 L775.3,1855.3 L778.3,1855.4 L781.3,1855.5 L784.3,1855.5 L787.4,1855.6 L790.4,1855.7 L793.4,1855.8 L796.4,1855.8 L799.5,1855.9 L802.5,1856.0 L805.5,1856.1 L808.6,1856.2 L811.6,1856.2 L814.6,1856.3 L817.6,1856.4 L820.7,1856.5 L823.7,1856.5 L826.7,1856.6 L829.7,1856.7 L832.8,1856.7 L835.8,1856.8 L838.8,1856.8 L841.8,1856.9 L844.9,1856.9 L847.9,1856.9 L850.9,1857.0 L853.9,1857.0 L857.0,1857.0 L860.0,1857.0 L863.0,1857.0 L866.1,1857.0 L869.1,1857.0 L872.2,1857.0 L875.2,1857.0 L878.3,1857.0 L881.3,1856.9 L884.3,1856.9 L887.4,1856.9 L890.4,1856.9 L893.5,1856.9 L896.5,1856.8 L899.6,1856.8 L902.6,1856.8 L905.7,1856.7 L908.7,1856.7 L911.7,1856.7 L914.8,1856.6 L917.8,1856.6 L920.9,1856.5 L923.9,1856.5 L927.0,1856.5 L930.0,1856.4 L933.0,1856.4 L936.1,1856.3 L939.1,1856.3 L942.2,1856.2 L945.2,1856.2 L948.3,1856.1 L951.3,1856.0 L954.3,1856.0 L957.4,1855.9 L960.4,1855.9 L963.5,1855.8 L966.5,1855.7 L969.6,1855.7 L972.6,1855.6 L975.7,1855.5 L978.7,1855.5 L981.7,1855.4 L984.8,1855.3 L987.8,1855.3 L990.9,1855.2 L993.9,1855.1 L997.0,1855.1 L1000.0,1855.0 L1003.0,1854.9 L1006.0,1854.8 L1009.0,1854.7 L1012.0,1854.6 L1015.0,1854.5 L1018.0,1854.4 L1021.0,1854.2 L1024.0,1854.1 L1027.0,1853.9 L1030.0,1853.7 L1033.0,1853.5 L1036.0,1853.4 L1039.0,1853.2 L1042.0,1853.0 L1045.0,1852.8 L1048.0,1852.6 L1051.0,1852.3 L1054.0,1852.1 L1057.0,1851.9 L1060.0,1851.7 L1063.0,1851.5 L1066.0,1851.3 L1069.0,1851.0 L1072.0,1850.8 L1075.0,1850.6 L1078.0,1850.4 L1081.0,1850.2 L1084.0,1850.0 L1087.0,1849.8 L1090.0,1849.6 L1093.0,1849.4 L1096.0,1849.2 L1099.0,1849.0 L1102.0,1848.8 L1105.0,1848.7 L1108.0,1848.5 L1111.0,1848.4 L1114.0,1848.2 L1117.0,1848.1 L1120.0,1848.0 L1123.0,1847.9 L1126.0,1847.8 L1129.0,1847.7 L1132.1,1847.6 L1135.1,1847.5 L1138.1,1847.4 L1141.1,1847.3 L1144.1,1847.2 L1147.1,1847.1 L1150.1,1847.0 L1153.1,1846.9 L1156.2,1846.8 L1159.2,1846.8 L1162.2,1846.7 L1165.2,1846.6 L1168.2,1846.5 L1171.2,1846.4 L1174.2,1846.4 L1177.3,1846.3 L1180.3,1846.2 L1183.3,1846.1 L1186.3,1846.1 L1189.3,1846.0 L1192.3,1845.9 L1195.3,1845.8 L1198.4,1845.8 L1201.4,1845.7 L1204.4,1845.6 L1207.4,1845.6 L1210.4,1845.5 L1213.4,1845.4 L1216.4,1845.4 L1219.4,1845.3 L1222.5,1845.2 L1225.5,1845.1 L1228.5,1845.1 L1231.5,1845.0 L1234.5,1844.9 L1237.5,1844.9 L1240.5,1844.8 L1243.5,1844.7 L1246.5,1844.7 L1249.5,1844.6 L1252.5,1844.5 L1255.5,1844.4 L1258.6,1844.4 L1261.6,1844.3 L1264.6,1844.2 L1267.6,1844.2 L1270.6,1844.1 L1273.6,1844.1 L1276.6,1844.0 L1279.6,1843.9 L1282.6,1843.9 L1285.6,1843.8 L1288.6,1843.7 L1291.6,1843.7 L1294.6,1843.6 L1297.6,1843.5 L1300.6,1843.5 L1303.6,1843.4 L1306.7,1843.4 L1309.7,1843.3 L1312.7,1843.2 L1315.7,1843.2 L1318.7,1843.1 L1321.7,1843.1 L1324.7,1843.0 L1327.7,1842.9 L1330.7,1842.9 L1333.7,1842.8 L1336.7,1842.8 L1339.7,1842.7 L1342.7,1842.6 L1345.7,1842.6 L1348.7,1842.5 L1351.7,1842.5 L1354.8,1842.4 L1357.8,1842.3 L1360.8,1842.3 L1363.8,1842.2 L1366.8,1842.2 L1369.8,1842.1 L1372.8,1842.1 L1375.8,1842.0 L1378.8,1841.9 L1381.8,1841.9 L1384.8,1841.8 L1387.8,1841.8 L1390.8,1841.7 L1393.8,1841.6 L1396.8,1841.6 L1399.8,1841.5 L1402.8,1841.5 L1405.9,1841.4 L1408.9,1841.4 L1411.9,1841.3 L1414.9,1841.2 L1417.9,1841.2 L1420.9,1841.1 L1423.9,1841.1 L1426.9,1841.0 L1429.9,1841.0 L1432.9,1840.9 L1435.9,1840.8 L1438.9,1840.8 L1441.9,1840.7 L1444.9,1840.7 L1447.9,1840.6 L1450.9,1840.5 L1454.0,1840.5 L1457.0,1840.4 L1460.0,1840.4 L1463.0,1840.3 L1466.0,1840.2 L1469.0,1840.2 L1472.0,1840.1 L1475.0,1840.1 L1478.0,1840.0" fill="none" stroke="#ffbb22" stroke-width="9" stroke-linejoin="round" stroke-linecap="butt"/>
<path d="M371.5,1867.0 L374.5,1866.2 L377.5,1865.3 L380.6,1864.4 L383.6,1863.4 L386.6,1862.4 L389.6,1861.4 L392.6,1860.4 L395.6,1859.4 L398.6,1858.5 L401.7,1857.5 L404.7,1856.7 L407.7,1855.8 L410.7,1855.1 L413.7,1854.5 L416.8,1853.9 L419.8,1853.5 L422.8,1853.2 L425.8,1853.0 L428.8,1852.9 L431.8,1852.8 L434.9,1852.7 L437.9,1852.7 L440.9,1852.6 L443.9,1852.5 L446.9,1852.4 L449.9,1852.4 L453.0,1852.3 L456.0,1852.3 L459.0,1852.2 L462.0,1852.1 L465.0,1852.1 L468.0,1852.0 L471.1,1852.0 L474.1,1852.0 L477.1,1851.9 L480.1,1851.9 L483.1,1851.8 L486.1,1851.8 L489.2,1851.8 L492.2,1851.7 L495.2,1851.7 L498.2,1851.7 L501.2,1851.6 L504.2,1851.6 L507.3,1851.6 L510.3,1851.5 L513.3,1851.5 L516.3,1851.5 L519.3,1851.5 L522.3,1851.4 L525.4,1851.4 L528.4,1851.4 L531.4,1851.4 L534.4,1851.3 L537.4,1851.3 L540.4,1851.3 L543.5,1851.3 L546.5,1851.2 L549.5,1851.2 L552.5,1851.2 L555.5,1851.1 L558.5,1851.1 L561.6,1851.1 L564.6,1851.0 L567.6,1851.0 L570.6,1851.0 L573.6,1850.9 L576.6,1850.9 L579.6,1850.9 L582.6,1850.8 L585.6,1850.8 L588.6,1850.8 L591.7,1850.7 L594.7,1850.7 L597.7,1850.7 L600.7,1850.7 L603.7,1850.6 L606.7,1850.6 L609.7,1850.6 L612.7,1850.6 L615.7,1850.5 L618.7,1850.5 L621.7,1850.5 L624.7,1850.5 L627.7,1850.5 L630.7,1850.4 L633.7,1850.4 L636.8,1850.4 L639.8,1850.4 L642.8,1850.4 L645.8,1850.3 L648.8,1850.3 L651.8,1850.3 L654.8,1850.3 L657.8,1850.2 L660.8,1850.2 L663.8,1850.2 L666.8,1850.2 L669.8,1850.1 L672.8,1850.1 L675.8,1850.1 L678.9,1850.1 L681.9,1850.0 L684.9,1850.0 L687.9,1850.0 L690.9,1849.9 L693.9,1849.9 L696.9,1849.9 L699.9,1849.8 L702.9,1849.8 L705.9,1849.7 L708.9,1849.7 L711.9,1849.7 L714.9,1849.6 L717.9,1849.6 L720.9,1849.5 L724.0,1849.4 L727.0,1849.4 L730.0,1849.3 L733.0,1849.3 L736.0,1849.2 L739.0,1849.1 L742.0,1849.1 L745.0,1849.0 L748.1,1848.9 L751.1,1848.7 L754.2,1848.4 L757.2,1848.1 L760.3,1847.7 L763.3,1847.3 L766.4,1846.8 L769.4,1846.4 L772.5,1845.9 L775.6,1845.3 L778.6,1844.8 L781.7,1844.3 L784.7,1843.9 L787.8,1843.4 L790.8,1843.0 L793.9,1842.6 L796.9,1842.3 L800.0,1842.0 L803.0,1841.8 L806.0,1841.6 L809.0,1841.3 L812.0,1841.1 L815.0,1840.9 L818.0,1840.7 L821.0,1840.5 L824.0,1840.4 L827.0,1840.2 L830.0,1840.0 L833.0,1839.8 L836.0,1839.7 L839.0,1839.5 L842.0,1839.4 L845.0,1839.2 L848.0,1839.0 L851.0,1838.9 L854.0,1838.8 L857.0,1838.6 L860.0,1838.5 L863.0,1838.3 L866.0,1838.2 L869.0,1838.1 L872.0,1838.0 L875.0,1837.8 L878.0,1837.7 L881.0,1837.6 L884.0,1837.5 L887.0,1837.4 L890.0,1837.2 L893.0,1837.1 L896.0,1837.0 L899.0,1836.9 L902.0,1836.8 L905.0,1836.7 L908.0,1836.6 L911.1,1836.5 L914.1,1836.4 L917.1,1836.3 L920.1,1836.2 L923.1,1836.1 L926.1,1836.0 L929.2,1835.9 L932.2,1835.8 L935.2,1835.8 L938.2,1835.7 L941.2,1835.6 L944.2,1835.5 L947.3,1835.4 L950.3,1835.4 L953.3,1835.3 L956.3,1835.2 L959.3,1835.1 L962.3,1835.1 L965.4,1835.0 L968.4,1834.9 L971.4,1834.9 L974.4,1834.8 L977.4,1834.7 L980.4,1834.6 L983.5,1834.6 L986.5,1834.5 L989.5,1834.4 L992.5,1834.4 L995.5,1834.3 L998.5,1834.2 L1001.6,1834.1 L1004.6,1834.0 L1007.6,1834.0 L1010.6,1833.9 L1013.6,1833.8 L1016.6,1833.7 L1019.7,1833.6 L1022.7,1833.5 L1025.7,1833.4 L1028.7,1833.3 L1031.7,1833.2 L1034.7,1833.1 L1037.8,1833.0 L1040.8,1832.9 L1043.8,1832.8 L1046.8,1832.7 L1049.9,1832.5 L1052.9,1832.4 L1056.0,1832.2 L1059.0,1832.0 L1062.1,1831.8 L1065.1,1831.6 L1068.2,1831.4 L1071.2,1831.2 L1074.3,1831.0 L1077.3,1830.8 L1080.4,1830.6 L1083.4,1830.4 L1086.5,1830.2 L1089.5,1830.0 L1092.6,1829.8 L1095.6,1829.6 L1098.7,1829.5 L1101.7,1829.3 L1104.8,1829.2 L1107.8,1829.0 L1110.9,1828.9 L1113.9,1828.8 L1117.0,1828.8 L1120.0,1828.7 L1123.0,1828.7 L1126.1,1828.6 L1129.1,1828.6 L1132.2,1828.6 L1135.2,1828.5 L1138.2,1828.5 L1141.3,1828.5 L1144.3,1828.4 L1147.4,1828.4 L1150.4,1828.4 L1153.4,1828.4 L1156.5,1828.4 L1159.5,1828.3 L1162.6,1828.3 L1165.6,1828.3 L1168.6,1828.3 L1171.7,1828.3 L1174.7,1828.2 L1177.8,1828.2 L1180.8,1828.2 L1183.8,1828.2 L1186.9,1828.2 L1189.9,1828.2 L1193.0,1828.2 L1196.0,1828.2 L1199.0,1828.1 L1202.1,1828.1 L1205.1,1828.1 L1208.2,1828.1 L1211.2,1828.1 L1214.2,1828.1 L1217.3,1828.1 L1220.3,1828.1 L1223.4,1828.0 L1226.4,1828.0 L1229.4,1828.0 L1232.5,1828.0 L1235.5,1828.0 L1238.6,1828.0 L1241.6,1827.9 L1244.6,1827.9 L1247.7,1827.9 L1250.7,1827.9 L1253.8,1827.9 L1256.8,1827.8 L1259.8,1827.8 L1262.9,1827.8 L1265.9,1827.8 L1269.0,1827.7 L1272.0,1827.7 L1275.0,1827.7 L1278.1,1827.6 L1281.1,1827.6 L1284.1,1827.5 L1287.1,1827.5 L1290.2,1827.5 L1293.2,1827.4 L1296.2,1827.3 L1299.3,1827.3 L1302.3,1827.2 L1305.3,1827.2 L1308.4,1827.1 L1311.4,1827.0 L1314.4,1827.0 L1317.4,1826.9 L1320.5,1826.8 L1323.5,1826.7 L1326.5,1826.7 L1329.6,1826.6 L1332.6,1826.5 L1335.6,1826.4 L1338.6,1826.3 L1341.7,1826.2 L1344.7,1826.1 L1347.7,1826.0 L1350.8,1825.9 L1353.8,1825.8 L1356.8,1825.8 L1359.9,1825.7 L1362.9,1825.6 L1365.9,1825.5 L1368.9,1825.4 L1372.0,1825.2 L1375.0,1825.1 L1378.0,1825.0 L1381.1,1824.9 L1384.1,1824.8 L1387.1,1824.7 L1390.1,1824.6 L1393.2,1824.5 L1396.2,1824.4 L1399.2,1824.3 L1402.3,1824.2 L1405.3,1824.1 L1408.3,1824.0 L1411.4,1823.9 L1414.4,1823.7 L1417.4,1823.6 L1420.4,1823.5 L1423.5,1823.4 L1426.5,1823.3 L1429.5,1823.2 L1432.6,1823.1 L1435.6,1823.0 L1438.6,1822.9 L1441.6,1822.8 L1444.7,1822.7 L1447.7,1822.6 L1450.7,1822.5 L1453.8,1822.4 L1456.8,1822.3 L1459.8,1822.2 L1462.9,1822.1 L1465.9,1822.0 L1468.9,1821.9 L1471.9,1821.8 L1475.0,1821.7 L1478.0,1821.6" fill="none" stroke="#feeba2" stroke-width="9" stroke-linejoin="round" stroke-linecap="butt"/>
<path d="M371.5,1867.0 L374.5,1867.1 L377.6,1867.2 L380.6,1867.3 L383.6,1867.4 L386.6,1867.5 L389.7,1867.6 L392.7,1867.7 L395.7,1867.8 L398.7,1867.9 L401.8,1868.0 L404.8,1868.1 L407.8,1868.2 L410.8,1868.3 L413.9,1868.4 L416.9,1868.5 L419.9,1868.6 L422.9,1868.7 L426.0,1868.8 L429.0,1868.9 L432.0,1869.0 L435.1,1869.1 L438.1,1869.2 L441.1,1869.3 L444.1,1869.4 L447.2,1869.5 L450.2,1869.6 L453.2,1869.7 L456.2,1869.9 L459.3,1870.0 L462.3,1870.1 L465.3,1870.2 L468.3,1870.4 L471.4,1870.5 L474.4,1870.7 L477.4,1870.8 L480.4,1871.0 L483.5,1871.1 L486.5,1871.3 L489.5,1871.5 L492.5,1871.7 L495.5,1871.9 L498.5,1872.2 L501.5,1872.4 L504.5,1872.7 L507.5,1873.0 L510.5,1873.3 L513.5,1873.6 L516.5,1873.9 L519.5,1874.3 L522.5,1874.6 L525.5,1875.0 L528.6,1875.3 L531.6,1875.7 L534.6,1876.0 L537.6,1876.4 L540.6,1876.7 L543.6,1877.1 L546.6,1877.4 L549.6,1877.7 L552.6,1878.0 L555.6,1878.3 L558.6,1878.6 L561.6,1878.9 L564.6,1879.2 L567.6,1879.4 L570.7,1879.6 L573.7,1879.9 L576.8,1880.1 L579.9,1880.4 L582.9,1880.6 L586.0,1880.9 L589.1,1881.1 L592.1,1881.4 L595.2,1881.6 L598.3,1881.9 L601.3,1882.1 L604.4,1882.4 L607.5,1882.6 L610.5,1882.8 L613.6,1883.1 L616.7,1883.3 L619.7,1883.5 L622.8,1883.7 L625.9,1883.9 L628.9,1884.1 L632.0,1884.3 L635.1,1884.5 L638.1,1884.7 L641.2,1884.8 L644.3,1884.9 L647.3,1885.1 L650.4,1885.2 L653.5,1885.3 L656.5,1885.4 L659.6,1885.4 L662.7,1885.5 L665.7,1885.5 L668.8,1885.5 L671.8,1885.5 L674.9,1885.5 L677.9,1885.5 L681.0,1885.4 L684.0,1885.4 L687.1,1885.3 L690.1,1885.3 L693.2,1885.2 L696.2,1885.2 L699.3,1885.1 L702.3,1885.0 L705.4,1885.0 L708.4,1884.9 L711.5,1884.9 L714.5,1884.8 L717.6,1884.7 L720.6,1884.7 L723.7,1884.6 L726.7,1884.6 L729.8,1884.5 L732.8,1884.5 L735.9,1884.4 L738.9,1884.4 L742.0,1884.4 L745.0,1884.4 L748.1,1884.4 L751.1,1884.4 L754.2,1884.5 L757.3,1884.5 L760.3,1884.5 L763.4,1884.6 L766.5,1884.7 L769.5,1884.7 L772.6,1884.8 L775.7,1884.9 L778.7,1885.0 L781.8,1885.1 L784.9,1885.3 L787.9,1885.4 L791.0,1885.5 L794.1,1885.7 L797.1,1885.8 L800.2,1886.0 L803.2,1886.1 L806.3,1886.3 L809.4,1886.4 L812.4,1886.6 L815.5,1886.8 L818.6,1887.0 L821.6,1887.1 L824.7,1887.3 L827.8,1887.5 L830.8,1887.7 L833.9,1887.9 L837.0,1888.0 L840.0,1888.2 L843.1,1888.4 L846.2,1888.6 L849.2,1888.8 L852.3,1889.0 L855.4,1889.1 L858.4,1889.3 L861.5,1889.5 L864.5,1889.7 L867.6,1889.9 L870.6,1890.1 L873.7,1890.3 L876.7,1890.6 L879.7,1890.8 L882.8,1891.1 L885.8,1891.4 L888.9,1891.7 L891.9,1892.0 L894.9,1892.3 L898.0,1892.6 L901.0,1892.9 L904.1,1893.2 L907.1,1893.5 L910.1,1893.8 L913.2,1894.2 L916.2,1894.5 L919.3,1894.8 L922.3,1895.1 L925.3,1895.5 L928.4,1895.8 L931.4,1896.1 L934.5,1896.4 L937.5,1896.7 L940.5,1897.0 L943.6,1897.3 L946.6,1897.5 L949.7,1897.8 L952.7,1898.0 L955.7,1898.3 L958.8,1898.5 L961.8,1898.7 L964.9,1898.9 L967.9,1899.0 L970.9,1899.2 L974.0,1899.3 L977.0,1899.4 L980.1,1899.5 L983.1,1899.6 L986.1,1899.7 L989.2,1899.7 L992.2,1899.8 L995.3,1899.8 L998.3,1899.9 L1001.4,1899.9 L1004.4,1900.0 L1007.4,1900.0 L1010.5,1900.1 L1013.5,1900.1 L1016.6,1900.2 L1019.6,1900.2 L1022.6,1900.3 L1025.7,1900.3 L1028.7,1900.3 L1031.8,1900.4 L1034.8,1900.4 L1037.9,1900.5 L1040.9,1900.5 L1043.9,1900.5 L1047.0,1900.6 L1050.0,1900.6 L1053.1,1900.6 L1056.1,1900.7 L1059.2,1900.7 L1062.2,1900.7 L1065.2,1900.8 L1068.3,1900.8 L1071.3,1900.8 L1074.4,1900.8 L1077.4,1900.8 L1080.5,1900.9 L1083.5,1900.9 L1086.5,1900.9 L1089.6,1900.9 L1092.6,1900.9 L1095.7,1900.9 L1098.7,1901.0 L1101.7,1901.0 L1104.8,1901.0 L1107.8,1901.0 L1110.9,1901.0 L1113.9,1901.0 L1117.0,1901.0 L1120.0,1901.0 L1123.0,1901.0 L1126.1,1901.0 L1129.1,1901.0 L1132.2,1900.9 L1135.2,1900.9 L1138.2,1900.9 L1141.3,1900.8 L1144.3,1900.8 L1147.4,1900.7 L1150.4,1900.6 L1153.4,1900.6 L1156.5,1900.5 L1159.5,1900.4 L1162.6,1900.3 L1165.6,1900.3 L1168.6,1900.2 L1171.7,1900.1 L1174.7,1900.0 L1177.8,1899.9 L1180.8,1899.8 L1183.8,1899.7 L1186.9,1899.6 L1189.9,1899.5 L1193.0,1899.4 L1196.0,1899.3 L1199.0,1899.2 L1202.1,1899.1 L1205.1,1899.0 L1208.2,1898.9 L1211.2,1898.8 L1214.2,1898.7 L1217.3,1898.6 L1220.3,1898.5 L1223.4,1898.4 L1226.4,1898.3 L1229.4,1898.3 L1232.5,1898.2 L1235.5,1898.1 L1238.6,1898.0 L1241.6,1898.0 L1244.6,1897.9 L1247.7,1897.8 L1250.7,1897.8 L1253.8,1897.7 L1256.8,1897.7 L1259.8,1897.7 L1262.9,1897.6 L1265.9,1897.6 L1269.0,1897.6 L1272.0,1897.6 L1275.0,1897.6 L1278.1,1897.6 L1281.1,1897.6 L1284.1,1897.7 L1287.1,1897.7 L1290.2,1897.8 L1293.2,1897.8 L1296.2,1897.9 L1299.3,1898.0 L1302.3,1898.1 L1305.3,1898.2 L1308.4,1898.3 L1311.4,1898.4 L1314.4,1898.5 L1317.4,1898.6 L1320.5,1898.8 L1323.5,1898.9 L1326.5,1899.0 L1329.6,1899.2 L1332.6,1899.4 L1335.6,1899.5 L1338.6,1899.7 L1341.7,1899.9 L1344.7,1900.0 L1347.7,1900.2 L1350.8,1900.4 L1353.8,1900.6 L1356.8,1900.8 L1359.9,1901.0 L1362.9,1901.2 L1365.9,1901.4 L1368.9,1901.6 L1372.0,1901.8 L1375.0,1902.1 L1378.0,1902.3 L1381.1,1902.5 L1384.1,1902.7 L1387.1,1903.0 L1390.1,1903.2 L1393.2,1903.4 L1396.2,1903.6 L1399.2,1903.9 L1402.3,1904.1 L1405.3,1904.3 L1408.3,1904.6 L1411.4,1904.8 L1414.4,1905.0 L1417.4,1905.3 L1420.4,1905.5 L1423.5,1905.7 L1426.5,1906.0 L1429.5,1906.2 L1432.6,1906.4 L1435.6,1906.6 L1438.6,1906.9 L1441.6,1907.1 L1444.7,1907.3 L1447.7,1907.5 L1450.7,1907.7 L1453.8,1908.0 L1456.8,1908.2 L1459.8,1908.4 L1462.9,1908.6 L1465.9,1908.8 L1468.9,1909.0 L1471.9,1909.1 L1475.0,1909.3 L1478.0,1909.5" fill="none" stroke="#e8e6c6" stroke-width="9" stroke-linejoin="round" stroke-linecap="butt"/>
<circle cx="1735.4" cy="573.0" r="9.5" fill="#7a1f00"/>
<circle cx="1797.2" cy="534.4" r="9.5" fill="#7a1f00"/>
<circle cx="1858.9" cy="495.0" r="9.5" fill="#7a1f00"/>
<circle cx="1920.6" cy="455.8" r="9.5" fill="#7a1f00"/>
<circle cx="1982.3" cy="415.0" r="9.5" fill="#7a1f00"/>
<circle cx="2044.1" cy="375.2" r="9.5" fill="#7a1f00"/>
<circle cx="2105.8" cy="334.4" r="9.5" fill="#7a1f00"/>
<circle cx="2167.5" cy="293.2" r="9.5" fill="#7a1f00"/>
<circle cx="2229.3" cy="251.9" r="9.5" fill="#7a1f00"/>
<circle cx="2291.0" cy="210.7" r="9.5" fill="#7a1f00"/>
<circle cx="1735.4" cy="606.6" r="9.5" fill="#7a2000"/>
<circle cx="1797.2" cy="604.4" r="9.5" fill="#7a2000"/>
<circle cx="1858.9" cy="602.2" r="9.5" fill="#7a2000"/>
<circle cx="1920.6" cy="600.0" r="9.5" fill="#7a2000"/>
<circle cx="1982.3" cy="597.7" r="9.5" fill="#7a2000"/>
<circle cx="2044.1" cy="595.5" r="9.5" fill="#7a2000"/>
<circle cx="2105.8" cy="593.3" r="9.5" fill="#7a2000"/>
<circle cx="2167.5" cy="591.1" r="9.5" fill="#7a2000"/>
<circle cx="2229.3" cy="588.9" r="9.5" fill="#7a2000"/>
<circle cx="2291.0" cy="586.7" r="9.5" fill="#7a2000"/>
<circle cx="1735.4" cy="599.8" r="9.5" fill="#ff6000"/>
<circle cx="1797.2" cy="589.1" r="9.5" fill="#ff6000"/>
<circle cx="1858.9" cy="578.0" r="9.5" fill="#ff6000"/>
<circle cx="1920.6" cy="567.2" r="9.5" fill="#ff6000"/>
<circle cx="1982.3" cy="555.1" r="9.5" fill="#ff6000"/>
<circle cx="2044.1" cy="541.4" r="9.5" fill="#ff6000"/>
<circle cx="2105.8" cy="527.8" r="9.5" fill="#ff6000"/>
<circle cx="2167.5" cy="513.3" r="9.5" fill="#ff6000"/>
<circle cx="2229.3" cy="498.0" r="9.5" fill="#ff6000"/>
<circle cx="2291.0" cy="482.5" r="9.5" fill="#ff6000"/>
<circle cx="1735.4" cy="602.4" r="9.5" fill="#ff9000"/>
<circle cx="1797.2" cy="598.3" r="9.5" fill="#ff9000"/>
<circle cx="1858.9" cy="592.7" r="9.5" fill="#ff9000"/>
<circle cx="1920.6" cy="586.9" r="9.5" fill="#ff9000"/>
<circle cx="1982.3" cy="581.3" r="9.5" fill="#ff9000"/>
<circle cx="2044.1" cy="574.6" r="9.5" fill="#ff9000"/>
<circle cx="2105.8" cy="568.2" r="9.5" fill="#ff9000"/>
<circle cx="2167.5" cy="563.0" r="9.5" fill="#ff9000"/>
<circle cx="2229.3" cy="557.5" r="9.5" fill="#ff9000"/>
<circle cx="2291.0" cy="551.9" r="9.5" fill="#ff9000"/>
<circle cx="1735.4" cy="604.8" r="9.5" fill="#ffc84a"/>
<circle cx="1797.2" cy="600.8" r="9.5" fill="#ffc84a"/>
<circle cx="1858.9" cy="595.1" r="9.5" fill="#ffc84a"/>
<circle cx="1920.6" cy="589.3" r="9.5" fill="#ffc84a"/>
<circle cx="1982.3" cy="583.7" r="9.5" fill="#ffc84a"/>
<circle cx="2044.1" cy="577.0" r="9.5" fill="#ffc84a"/>
<circle cx="2105.8" cy="570.6" r="9.5" fill="#ffc84a"/>
<circle cx="2167.5" cy="565.4" r="9.5" fill="#ffc84a"/>
<circle cx="2229.3" cy="559.9" r="9.5" fill="#ffc84a"/>
<circle cx="2291.0" cy="554.3" r="9.5" fill="#ffc84a"/>
<circle cx="1735.4" cy="604.8" r="9.5" fill="#ffbb22"/>
<circle cx="1797.2" cy="600.8" r="9.5" fill="#ffbb22"/>
<circle cx="1858.9" cy="595.1" r="9.5" fill="#ffbb22"/>
<circle cx="1920.6" cy="589.3" r="9.5" fill="#ffbb22"/>
<circle cx="1982.3" cy="583.7" r="9.5" fill="#ffbb22"/>
<circle cx="2044.1" cy="577.0" r="9.5" fill="#ffbb22"/>
<circle cx="2105.8" cy="570.6" r="9.5" fill="#ffbb22"/>
<circle cx="2167.5" cy="565.4" r="9.5" fill="#ffbb22"/>
<circle cx="2229.3" cy="559.9" r="9.5" fill="#ffbb22"/>
<circle cx="2291.0" cy="554.3" r="9.5" fill="#ffbb22"/>
<circle cx="1735.4" cy="606.3" r="9.5" fill="#feeba2"/>
<circle cx="1797.2" cy="603.8" r="9.5" fill="#feeba2"/>
<circle cx="1858.9" cy="601.3" r="9.5" fill="#feeba2"/>
<circle cx="1920.6" cy="598.7" r="9.5" fill="#feeba2"/>
<circle cx="1982.3" cy="596.2" r="9.5" fill="#feeba2"/>
<circle cx="2044.1" cy="593.7" r="9.5" fill="#feeba2"/>
<circle cx="2105.8" cy="591.2" r="9.5" fill="#feeba2"/>
<circle cx="2167.5" cy="588.7" r="9.5" fill="#feeba2"/>
<circle cx="2229.3" cy="586.2" r="9.5" fill="#feeba2"/>
<circle cx="2291.0" cy="583.7" r="9.5" fill="#feeba2"/>
<circle cx="1735.4" cy="604.8" r="9.5" fill="#e8e6c6"/>
<circle cx="1797.2" cy="600.8" r="9.5" fill="#e8e6c6"/>
<circle cx="1858.9" cy="595.1" r="9.5" fill="#e8e6c6"/>
<circle cx="1920.6" cy="589.3" r="9.5" fill="#e8e6c6"/>
<circle cx="1982.3" cy="583.7" r="9.5" fill="#e8e6c6"/>
<circle cx="2044.1" cy="577.0" r="9.5" fill="#e8e6c6"/>
<circle cx="2105.8" cy="570.6" r="9.5" fill="#e8e6c6"/>
<circle cx="2167.5" cy="565.4" r="9.5" fill="#e8e6c6"/>
<circle cx="2229.3" cy="559.9" r="9.5" fill="#e8e6c6"/>
<circle cx="2291.0" cy="554.3" r="9.5" fill="#e8e6c6"/>
<circle cx="1738.2" cy="1288.4" r="9.5" fill="#ff6000"/>
<circle cx="1799.7" cy="1283.1" r="9.5" fill="#ff6000"/>
<circle cx="1861.3" cy="1277.7" r="9.5" fill="#ff6000"/>
<circle cx="1922.8" cy="1272.4" r="9.5" fill="#ff6000"/>
<circle cx="1984.4" cy="1267.1" r="9.5" fill="#ff6000"/>
<circle cx="2046.0" cy="1261.8" r="9.5" fill="#ff6000"/>
<circle cx="2107.5" cy="1256.4" r="9.5" fill="#ff6000"/>
<circle cx="2169.1" cy="1251.1" r="9.5" fill="#ff6000"/>
<circle cx="2230.6" cy="1245.8" r="9.5" fill="#ff6000"/>
<circle cx="2292.2" cy="1240.5" r="9.5" fill="#ff6000"/>
<circle cx="1738.2" cy="1283.7" r="9.5" fill="#ff9000"/>
<circle cx="1799.7" cy="1273.6" r="9.5" fill="#ff9000"/>
<circle cx="1861.3" cy="1263.6" r="9.5" fill="#ff9000"/>
<circle cx="1922.8" cy="1253.6" r="9.5" fill="#ff9000"/>
<circle cx="1984.4" cy="1243.5" r="9.5" fill="#ff9000"/>
<circle cx="2046.0" cy="1233.5" r="9.5" fill="#ff9000"/>
<circle cx="2107.5" cy="1223.5" r="9.5" fill="#ff9000"/>
<circle cx="2169.1" cy="1213.5" r="9.5" fill="#ff9000"/>
<circle cx="2230.6" cy="1203.4" r="9.5" fill="#ff9000"/>
<circle cx="2292.2" cy="1193.4" r="9.5" fill="#ff9000"/>
<circle cx="1738.2" cy="1288.0" r="9.5" fill="#ffc84a"/>
<circle cx="1799.7" cy="1282.2" r="9.5" fill="#ffc84a"/>
<circle cx="1861.3" cy="1276.5" r="9.5" fill="#ffc84a"/>
<circle cx="1922.8" cy="1270.8" r="9.5" fill="#ffc84a"/>
<circle cx="1984.4" cy="1265.0" r="9.5" fill="#ffc84a"/>
<circle cx="2046.0" cy="1259.3" r="9.5" fill="#ffc84a"/>
<circle cx="2107.5" cy="1253.6" r="9.5" fill="#ffc84a"/>
<circle cx="2169.1" cy="1247.8" r="9.5" fill="#ffc84a"/>
<circle cx="2230.6" cy="1242.1" r="9.5" fill="#ffc84a"/>
<circle cx="2292.2" cy="1236.4" r="9.5" fill="#ffc84a"/>
<circle cx="1738.2" cy="1287.6" r="9.5" fill="#ffbb22"/>
<circle cx="1799.7" cy="1281.4" r="9.5" fill="#ffbb22"/>
<circle cx="1861.3" cy="1275.3" r="9.5" fill="#ffbb22"/>
<circle cx="1922.8" cy="1269.1" r="9.5" fill="#ffbb22"/>
<circle cx="1984.4" cy="1263.0" r="9.5" fill="#ffbb22"/>
<circle cx="2046.0" cy="1256.9" r="9.5" fill="#ffbb22"/>
<circle cx="2107.5" cy="1250.7" r="9.5" fill="#ffbb22"/>
<circle cx="2169.1" cy="1244.6" r="9.5" fill="#ffbb22"/>
<circle cx="2230.6" cy="1238.4" r="9.5" fill="#ffbb22"/>
<circle cx="2292.2" cy="1232.3" r="9.5" fill="#ffbb22"/>
<circle cx="1738.2" cy="1290.3" r="9.5" fill="#feeba2"/>
<circle cx="1799.7" cy="1286.9" r="9.5" fill="#feeba2"/>
<circle cx="1861.3" cy="1283.5" r="9.5" fill="#feeba2"/>
<circle cx="1922.8" cy="1280.1" r="9.5" fill="#feeba2"/>
<circle cx="1984.4" cy="1276.7" r="9.5" fill="#feeba2"/>
<circle cx="2046.0" cy="1273.3" r="9.5" fill="#feeba2"/>
<circle cx="2107.5" cy="1269.9" r="9.5" fill="#feeba2"/>
<circle cx="2169.1" cy="1266.5" r="9.5" fill="#feeba2"/>
<circle cx="2230.6" cy="1263.1" r="9.5" fill="#feeba2"/>
<circle cx="2292.2" cy="1259.7" r="9.5" fill="#feeba2"/>
<circle cx="1738.2" cy="1289.3" r="9.5" fill="#e8e6c6"/>
<circle cx="1799.7" cy="1284.9" r="9.5" fill="#e8e6c6"/>
<circle cx="1861.3" cy="1280.5" r="9.5" fill="#e8e6c6"/>
<circle cx="1922.8" cy="1276.1" r="9.5" fill="#e8e6c6"/>
<circle cx="1984.4" cy="1271.7" r="9.5" fill="#e8e6c6"/>
<circle cx="2046.0" cy="1267.3" r="9.5" fill="#e8e6c6"/>
<circle cx="2107.5" cy="1262.9" r="9.5" fill="#e8e6c6"/>
<circle cx="2169.1" cy="1258.5" r="9.5" fill="#e8e6c6"/>
<circle cx="2230.6" cy="1254.1" r="9.5" fill="#e8e6c6"/>
<circle cx="2292.2" cy="1249.7" r="9.5" fill="#e8e6c6"/>
<circle cx="1738.5" cy="1978.7" r="9.5" fill="#7a1f00"/>
<circle cx="1800.0" cy="1969.0" r="9.5" fill="#7a1f00"/>
<circle cx="1861.5" cy="1959.3" r="9.5" fill="#7a1f00"/>
<circle cx="1923.0" cy="1949.5" r="9.5" fill="#7a1f00"/>
<circle cx="1984.5" cy="1939.8" r="9.5" fill="#7a1f00"/>
<circle cx="2046.0" cy="1930.1" r="9.5" fill="#7a1f00"/>
<circle cx="2107.5" cy="1920.4" r="9.5" fill="#7a1f00"/>
<circle cx="2169.0" cy="1910.7" r="9.5" fill="#7a1f00"/>
<circle cx="2230.5" cy="1901.0" r="9.5" fill="#7a1f00"/>
<circle cx="2292.0" cy="1891.2" r="9.5" fill="#7a1f00"/>
<circle cx="1738.5" cy="1979.1" r="9.5" fill="#c03000"/>
<circle cx="1800.0" cy="1969.8" r="9.5" fill="#c03000"/>
<circle cx="1861.5" cy="1960.5" r="9.5" fill="#c03000"/>
<circle cx="1923.0" cy="1951.2" r="9.5" fill="#c03000"/>
<circle cx="1984.5" cy="1941.9" r="9.5" fill="#c03000"/>
<circle cx="2046.0" cy="1932.6" r="9.5" fill="#c03000"/>
<circle cx="2107.5" cy="1923.3" r="9.5" fill="#c03000"/>
<circle cx="2169.0" cy="1913.9" r="9.5" fill="#c03000"/>
<circle cx="2230.5" cy="1904.6" r="9.5" fill="#c03000"/>
<circle cx="2292.0" cy="1895.3" r="9.5" fill="#c03000"/>
<circle cx="1738.5" cy="1984.6" r="9.5" fill="#ff6000"/>
<circle cx="1800.0" cy="1980.8" r="9.5" fill="#ff6000"/>
<circle cx="1861.5" cy="1977.0" r="9.5" fill="#ff6000"/>
<circle cx="1923.0" cy="1973.3" r="9.5" fill="#ff6000"/>
<circle cx="1984.5" cy="1969.5" r="9.5" fill="#ff6000"/>
<circle cx="2046.0" cy="1965.7" r="9.5" fill="#ff6000"/>
<circle cx="2107.5" cy="1961.9" r="9.5" fill="#ff6000"/>
<circle cx="2169.0" cy="1958.1" r="9.5" fill="#ff6000"/>
<circle cx="2230.5" cy="1954.3" r="9.5" fill="#ff6000"/>
<circle cx="2292.0" cy="1950.6" r="9.5" fill="#ff6000"/>
<circle cx="1738.5" cy="1984.1" r="9.5" fill="#ff9000"/>
<circle cx="1800.0" cy="1979.7" r="9.5" fill="#ff9000"/>
<circle cx="1861.5" cy="1975.4" r="9.5" fill="#ff9000"/>
<circle cx="1923.0" cy="1971.1" r="9.5" fill="#ff9000"/>
<circle cx="1984.5" cy="1966.7" r="9.5" fill="#ff9000"/>
<circle cx="2046.0" cy="1962.4" r="9.5" fill="#ff9000"/>
<circle cx="2107.5" cy="1958.0" r="9.5" fill="#ff9000"/>
<circle cx="2169.0" cy="1953.7" r="9.5" fill="#ff9000"/>
<circle cx="2230.5" cy="1949.4" r="9.5" fill="#ff9000"/>
<circle cx="2292.0" cy="1945.0" r="9.5" fill="#ff9000"/>
<circle cx="1738.5" cy="1984.1" r="9.5" fill="#ffc84a"/>
<circle cx="1800.0" cy="1979.8" r="9.5" fill="#ffc84a"/>
<circle cx="1861.5" cy="1975.5" r="9.5" fill="#ffc84a"/>
<circle cx="1923.0" cy="1971.2" r="9.5" fill="#ffc84a"/>
<circle cx="1984.5" cy="1966.9" r="9.5" fill="#ffc84a"/>
<circle cx="2046.0" cy="1962.6" r="9.5" fill="#ffc84a"/>
<circle cx="2107.5" cy="1958.3" r="9.5" fill="#ffc84a"/>
<circle cx="2169.0" cy="1954.0" r="9.5" fill="#ffc84a"/>
<circle cx="2230.5" cy="1949.7" r="9.5" fill="#ffc84a"/>
<circle cx="2292.0" cy="1945.4" r="9.5" fill="#ffc84a"/>
<circle cx="1738.5" cy="1983.9" r="9.5" fill="#ffbb22"/>
<circle cx="1800.0" cy="1979.4" r="9.5" fill="#ffbb22"/>
<circle cx="1861.5" cy="1974.9" r="9.5" fill="#ffbb22"/>
<circle cx="1923.0" cy="1970.4" r="9.5" fill="#ffbb22"/>
<circle cx="1984.5" cy="1965.9" r="9.5" fill="#ffbb22"/>
<circle cx="2046.0" cy="1961.4" r="9.5" fill="#ffbb22"/>
<circle cx="2107.5" cy="1956.9" r="9.5" fill="#ffbb22"/>
<circle cx="2169.0" cy="1952.4" r="9.5" fill="#ffbb22"/>
<circle cx="2230.5" cy="1947.9" r="9.5" fill="#ffbb22"/>
<circle cx="2292.0" cy="1943.4" r="9.5" fill="#ffbb22"/>
<circle cx="1738.5" cy="1981.4" r="9.5" fill="#feeba2"/>
<circle cx="1800.0" cy="1974.5" r="9.5" fill="#feeba2"/>
<circle cx="1861.5" cy="1967.5" r="9.5" fill="#feeba2"/>
<circle cx="1923.0" cy="1960.6" r="9.5" fill="#feeba2"/>
<circle cx="1984.5" cy="1953.6" r="9.5" fill="#feeba2"/>
<circle cx="2046.0" cy="1946.7" r="9.5" fill="#feeba2"/>
<circle cx="2107.5" cy="1939.7" r="9.5" fill="#feeba2"/>
<circle cx="2169.0" cy="1932.8" r="9.5" fill="#feeba2"/>
<circle cx="2230.5" cy="1925.8" r="9.5" fill="#feeba2"/>
<circle cx="2292.0" cy="1918.9" r="9.5" fill="#feeba2"/>
<circle cx="1738.5" cy="1988.2" r="9.5" fill="#e8e6c6"/>
<circle cx="1800.0" cy="1988.1" r="9.5" fill="#e8e6c6"/>
<circle cx="1861.5" cy="1987.9" r="9.5" fill="#e8e6c6"/>
<circle cx="1923.0" cy="1987.7" r="9.5" fill="#e8e6c6"/>
<circle cx="1984.5" cy="1987.6" r="9.5" fill="#e8e6c6"/>
<circle cx="2046.0" cy="1987.4" r="9.5" fill="#e8e6c6"/>
<circle cx="2107.5" cy="1987.3" r="9.5" fill="#e8e6c6"/>
<circle cx="2169.0" cy="1987.1" r="9.5" fill="#e8e6c6"/>
<circle cx="2230.5" cy="1986.9" r="9.5" fill="#e8e6c6"/>
<circle cx="2292.0" cy="1986.8" r="9.5" fill="#e8e6c6"/>
<circle cx="446.9" cy="548.4" r="9.5" fill="#7a1f00"/>
<circle cx="446.9" cy="632.3" r="9.5" fill="#ffc640"/>
<circle cx="667.2" cy="551.6" r="9.5" fill="#7c2200"/>
<circle cx="667.2" cy="636.3" r="9.5" fill="#ffcb55"/>
<circle cx="888.8" cy="554.8" r="9.5" fill="#ff6000"/>
<circle cx="888.8" cy="638.7" r="9.5" fill="#ffeb9e"/>
<circle cx="1102.4" cy="548.4" r="9.5" fill="#ff9000"/>
<circle cx="1102.4" cy="632.3" r="9.5" fill="#e8e6c6"/>
<circle cx="446.9" cy="1277.6" r="9.5" fill="#7a1f00"/>
<circle cx="446.9" cy="1361.5" r="9.5" fill="#ffc640"/>
<circle cx="670.9" cy="1277.6" r="9.5" fill="#7c2200"/>
<circle cx="670.9" cy="1361.5" r="9.5" fill="#ffcb55"/>
<circle cx="888.7" cy="1280.8" r="9.5" fill="#ff6000"/>
<circle cx="888.7" cy="1364" r="9.5" fill="#ffeb9e"/>
<circle cx="1102.5" cy="1274.5" r="9.5" fill="#ff9000"/>
<circle cx="1102.5" cy="1358" r="9.5" fill="#e8e6c6"/>
<circle cx="446.9" cy="2003.2" r="9.5" fill="#7a1f00"/>
<circle cx="446.9" cy="2087.1" r="9.5" fill="#ffc640"/>
<circle cx="667.1" cy="2003.2" r="9.5" fill="#7c2200"/>
<circle cx="667.1" cy="2087.1" r="9.5" fill="#ffcb55"/>
<circle cx="887.9" cy="2005.6" r="9.5" fill="#ff6000"/>
<circle cx="887.9" cy="2090.3" r="9.5" fill="#ffeb9e"/>
<circle cx="1102.5" cy="2000.3" r="9.5" fill="#ff9000"/>
<circle cx="1102.5" cy="2083.8" r="9.5" fill="#e8e6c6"/>
<text x="924.2" y="93.4" font-size="105" text-anchor="middle">GPS</text>
<text x="337.3" y="157.5" font-size="97" text-anchor="end">20</text>
<text x="337.3" y="303.5" font-size="97" text-anchor="end"><tspan class="o">1</tspan>0</text>
<text x="337.3" y="449.5" font-size="97" text-anchor="end">0</text>
<text x="337.3" y="595.5" font-size="97" text-anchor="end"><tspan dy="-2.4">–</tspan><tspan dx="7" dy="2.4"><tspan class="o">1</tspan>0</tspan></text>
<text x="337.3" y="741.5" font-size="97" text-anchor="end"><tspan dy="-2.4">–</tspan><tspan dx="7" dy="2.4">20</tspan></text>
<text x="923.8" y="817.8" font-size="106" text-anchor="middle">GAL</text>
<text x="337.3" y="882.5" font-size="97" text-anchor="end">20</text>
<text x="337.3" y="1028.1" font-size="97" text-anchor="end"><tspan class="o">1</tspan>0</text>
<text x="337.3" y="1173.8" font-size="97" text-anchor="end">0</text>
<text x="337.3" y="1319.4" font-size="97" text-anchor="end"><tspan dy="-2.4">–</tspan><tspan dx="7" dy="2.4"><tspan class="o">1</tspan>0</tspan></text>
<text x="337.3" y="1465.0" font-size="97" text-anchor="end"><tspan dy="-2.4">–</tspan><tspan dx="7" dy="2.4">20</tspan></text>
<text x="922.5" y="1545.8" font-size="113" text-anchor="middle">BDS</text>
<text x="337.3" y="1611.5" font-size="97" text-anchor="end">20</text>
<text x="337.3" y="1757.2" font-size="97" text-anchor="end"><tspan class="o">1</tspan>0</text>
<text x="337.3" y="1903.0" font-size="97" text-anchor="end">0</text>
<text x="337.3" y="2048.8" font-size="97" text-anchor="end"><tspan dy="-2.4">–</tspan><tspan dx="7" dy="2.4"><tspan class="o">1</tspan>0</tspan></text>
<text x="337.3" y="2194.5" font-size="97" text-anchor="end"><tspan dy="-2.4">–</tspan><tspan dx="7" dy="2.4">20</tspan></text>
<text x="1643.5" y="236.0" font-size="75" text-anchor="end">2</text>
<text x="1643.5" y="437.1" font-size="75" text-anchor="end"><tspan class="o">1</tspan></text>
<text x="1643.5" y="638.1" font-size="75" text-anchor="end">0</text>
<text x="1673.7" y="715.8" font-size="75" text-anchor="middle">0</text>
<text x="1982.3" y="715.8" font-size="75" text-anchor="middle">5</text>
<text x="2291.0" y="715.8" font-size="75" text-anchor="middle"><tspan class="o">1</tspan>0</text>
<text x="1643.5" y="913.6" font-size="75" text-anchor="end">2</text>
<text x="1643.5" y="1118.3" font-size="75" text-anchor="end"><tspan class="o">1</tspan></text>
<text x="1643.5" y="1323.0" font-size="75" text-anchor="end">0</text>
<text x="1676.6" y="1400.7" font-size="75" text-anchor="middle">0</text>
<text x="1984.4" y="1400.7" font-size="75" text-anchor="middle">5</text>
<text x="2292.2" y="1400.7" font-size="75" text-anchor="middle"><tspan class="o">1</tspan>0</text>
<text x="1643.5" y="1608.6" font-size="75" text-anchor="end">2</text>
<text x="1643.5" y="1813.1" font-size="75" text-anchor="end"><tspan class="o">1</tspan></text>
<text x="1643.5" y="2017.7" font-size="75" text-anchor="end">0</text>
<text x="1677.0" y="2095.4" font-size="75" text-anchor="middle">0</text>
<text x="1984.5" y="2095.4" font-size="75" text-anchor="middle">5</text>
<text x="2292.0" y="2095.4" font-size="75" text-anchor="middle"><tspan class="o">1</tspan>0</text>
<text transform="translate(107.5,1577.5) rotate(-90)" font-size="115">Clock errors (cm)</text>
<text x="630" y="2418.5" font-size="96">SSR delay (s)</text>
<text x="1749.5" y="2194" font-size="76.5">SSR delay (s)</text>
<text x="371.5" y="2294" font-size="102" text-anchor="middle">0</text>
<text x="555.9" y="2294" font-size="102" text-anchor="middle">50</text>
<text x="740.3" y="2294" font-size="102" text-anchor="middle"><tspan class="o">1</tspan>00</text>
<text x="924.8" y="2294" font-size="102" text-anchor="middle"><tspan class="o">1</tspan>50</text>
<text x="1109.2" y="2294" font-size="102" text-anchor="middle">200</text>
<text x="1293.6" y="2294" font-size="102" text-anchor="middle">250</text>
<text x="1478.0" y="2294" font-size="102" text-anchor="middle">300</text>
<text x="497" y="572.5" font-size="63.5">G07</text>
<text x="497" y="657.2" font-size="63.5">G2<tspan class="o">1</tspan></text>
<text x="708.2" y="572.5" font-size="63.5">G<tspan class="o">1</tspan>0</text>
<text x="708.2" y="657.2" font-size="63.5">G24</text>
<text x="925" y="566.9" font-size="63.5">G<tspan class="o">1</tspan>2</text>
<text x="925" y="650.8" font-size="63.5">G26</text>
<text x="1138.6" y="569.3" font-size="63.5">G<tspan class="o">1</tspan>9</text>
<text x="1138.6" y="654.0" font-size="63.5">G30</text>
<text x="499.8" y="1299" font-size="63.5">E07</text>
<text x="499.8" y="1379.7" font-size="63.5">E2<tspan class="o">1</tspan></text>
<text x="717.4" y="1295.8" font-size="63.5">E<tspan class="o">1</tspan>0</text>
<text x="717.4" y="1380.5" font-size="63.5">E24</text>
<text x="930.3" y="1295.6" font-size="63.5">E<tspan class="o">1</tspan>2</text>
<text x="930.3" y="1381" font-size="63.5">E26</text>
<text x="1141.4" y="1295.6" font-size="63.5">E<tspan class="o">1</tspan>9</text>
<text x="1141.4" y="1383" font-size="63.5">E30</text>
<text x="497" y="2014.5" font-size="63.5">C07</text>
<text x="497" y="2099.5" font-size="63.5">C2<tspan class="o">1</tspan></text>
<text x="711.4" y="2021" font-size="63.5">C<tspan class="o">1</tspan>0</text>
<text x="711.4" y="2102.5" font-size="63.5">C24</text>
<text x="924.7" y="2018" font-size="63.5">C<tspan class="o">1</tspan>2</text>
<text x="924.7" y="2102.5" font-size="63.5">C26</text>
<text x="1138.6" y="2018" font-size="63.5">C<tspan class="o">1</tspan>9</text>
<text x="1138.6" y="2102.5" font-size="63.5">C30</text>
</svg>
</body></html>
